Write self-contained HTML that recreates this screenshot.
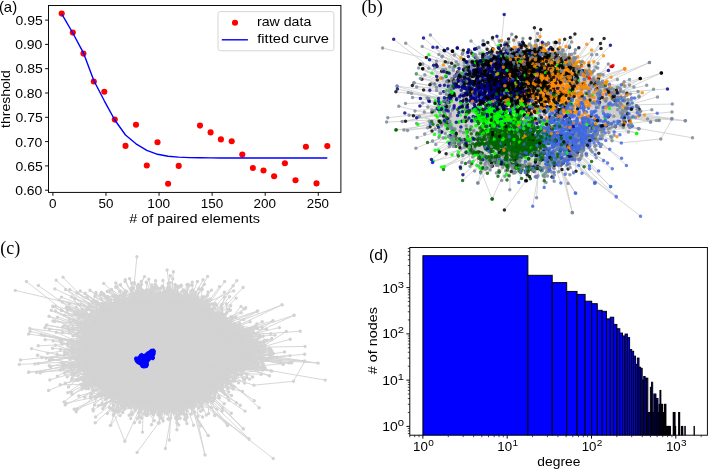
<!DOCTYPE html>
<html><head><meta charset="utf-8"><style>
html,body{margin:0;padding:0;background:#fff;overflow:hidden}
.nd path{fill:none;stroke-width:3.5;stroke-linecap:round;stroke-opacity:0.82}
.n0{stroke:#00008b}
.n1{stroke:#000000}
.n2{stroke:#ff8c00}
.n3{stroke:#00ff00}
.n4{stroke:#006400}
.n5{stroke:#4169e1}
.n9{stroke:#778899}
.n8{stroke:#ff0000}
.n7{stroke:#0000ff}

svg{display:block;font-family:"Liberation Sans", sans-serif;will-change:transform}
</style></head><body>
<svg width="708" height="469" viewBox="0 0 708 469">
<rect width="708" height="469" fill="#fff"/>
<g id="pa">
<circle cx="61.7" cy="13.6" r="3.05" fill="#ff0000"/>
<circle cx="72.8" cy="32.6" r="3.05" fill="#ff0000"/>
<circle cx="83.4" cy="53.6" r="3.05" fill="#ff0000"/>
<circle cx="93.8" cy="81.5" r="3.05" fill="#ff0000"/>
<circle cx="104.3" cy="91.7" r="3.05" fill="#ff0000"/>
<circle cx="114.8" cy="119.6" r="3.05" fill="#ff0000"/>
<circle cx="125.5" cy="145.9" r="3.05" fill="#ff0000"/>
<circle cx="136.0" cy="124.8" r="3.05" fill="#ff0000"/>
<circle cx="146.8" cy="165.5" r="3.05" fill="#ff0000"/>
<circle cx="157.5" cy="142.2" r="3.05" fill="#ff0000"/>
<circle cx="168.1" cy="183.8" r="3.05" fill="#ff0000"/>
<circle cx="178.7" cy="165.9" r="3.05" fill="#ff0000"/>
<circle cx="200.0" cy="125.6" r="3.05" fill="#ff0000"/>
<circle cx="210.6" cy="132.4" r="3.05" fill="#ff0000"/>
<circle cx="220.9" cy="139.4" r="3.05" fill="#ff0000"/>
<circle cx="231.7" cy="141.3" r="3.05" fill="#ff0000"/>
<circle cx="242.3" cy="154.6" r="3.05" fill="#ff0000"/>
<circle cx="252.9" cy="168.0" r="3.05" fill="#ff0000"/>
<circle cx="263.5" cy="170.5" r="3.05" fill="#ff0000"/>
<circle cx="274.1" cy="176.2" r="3.05" fill="#ff0000"/>
<circle cx="284.9" cy="163.3" r="3.05" fill="#ff0000"/>
<circle cx="295.5" cy="180.3" r="3.05" fill="#ff0000"/>
<circle cx="305.9" cy="146.8" r="3.05" fill="#ff0000"/>
<circle cx="316.5" cy="183.4" r="3.05" fill="#ff0000"/>
<circle cx="327.3" cy="146.1" r="3.05" fill="#ff0000"/>
<path d="M61.7,13.8 L72.8,33.0 L83.4,52.8 L93.8,80.5 L104.3,100.8 L114.8,120.0 L125.5,135.0 L136.0,143.8 L146.8,150.3 L157.5,154.3 L168.1,156.2 L178.7,157.1 L189.3,157.6 L200.0,157.8 L210.6,157.9 L220.9,158.0 L231.7,158.0 L242.3,158.0 L252.9,158.0 L263.5,158.0 L274.1,158.0 L284.9,158.0 L295.5,158.0 L305.9,158.0 L316.5,158.0 L327.3,158.0" fill="none" stroke="#0000ff" stroke-width="1.4" stroke-linejoin="round"/>
<rect x="218.0" y="11.6" width="115.9" height="39.2" rx="2.5" fill="#fff" fill-opacity="0.8" stroke="#d0d0d0" stroke-width="0.9"/>
<circle cx="235" cy="22.7" r="3.05" fill="#ff0000"/>
<line x1="221.8" y1="39.8" x2="247.9" y2="39.8" stroke="#0000ff" stroke-width="1.4"/>
<text x="256.93" y="26.10" font-size="12.6" text-anchor="start" textLength="54.40" lengthAdjust="spacingAndGlyphs">raw data</text>
<text x="257.22" y="42.60" font-size="12.6" text-anchor="start" textLength="71.81" lengthAdjust="spacingAndGlyphs">fitted curve</text>
<rect x="48.5" y="5.5" width="292.4" height="186.9" fill="none" stroke="#000" stroke-width="0.95"/>
<line x1="45.1" y1="20.10" x2="48.5" y2="20.10" stroke="#000" stroke-width="0.95"/>
<text x="15.54" y="25.35" font-size="12.6" text-anchor="start" textLength="27.19" lengthAdjust="spacingAndGlyphs">0.95</text>
<line x1="45.1" y1="44.40" x2="48.5" y2="44.40" stroke="#000" stroke-width="0.95"/>
<text x="15.20" y="49.25" font-size="12.6" text-anchor="start" textLength="27.19" lengthAdjust="spacingAndGlyphs">0.90</text>
<line x1="45.1" y1="68.70" x2="48.5" y2="68.70" stroke="#000" stroke-width="0.95"/>
<text x="15.54" y="73.15" font-size="12.6" text-anchor="start" textLength="27.19" lengthAdjust="spacingAndGlyphs">0.85</text>
<line x1="45.1" y1="93.00" x2="48.5" y2="93.00" stroke="#000" stroke-width="0.95"/>
<text x="15.20" y="98.05" font-size="12.6" text-anchor="start" textLength="27.19" lengthAdjust="spacingAndGlyphs">0.80</text>
<line x1="45.1" y1="117.30" x2="48.5" y2="117.30" stroke="#000" stroke-width="0.95"/>
<text x="15.54" y="121.95" font-size="12.6" text-anchor="start" textLength="27.19" lengthAdjust="spacingAndGlyphs">0.75</text>
<line x1="45.1" y1="141.60" x2="48.5" y2="141.60" stroke="#000" stroke-width="0.95"/>
<text x="15.20" y="146.85" font-size="12.6" text-anchor="start" textLength="27.19" lengthAdjust="spacingAndGlyphs">0.70</text>
<line x1="45.1" y1="165.90" x2="48.5" y2="165.90" stroke="#000" stroke-width="0.95"/>
<text x="15.54" y="170.75" font-size="12.6" text-anchor="start" textLength="27.19" lengthAdjust="spacingAndGlyphs">0.65</text>
<line x1="45.1" y1="190.20" x2="48.5" y2="190.20" stroke="#000" stroke-width="0.95"/>
<text x="15.20" y="194.65" font-size="12.6" text-anchor="start" textLength="27.19" lengthAdjust="spacingAndGlyphs">0.60</text>
<line x1="52.90" y1="192.4" x2="52.90" y2="195.8" stroke="#000" stroke-width="0.95"/>
<text x="49.06" y="208.20" font-size="12.6" text-anchor="start" textLength="7.51" lengthAdjust="spacingAndGlyphs">0</text>
<line x1="105.97" y1="192.4" x2="105.97" y2="195.8" stroke="#000" stroke-width="0.95"/>
<text x="98.56" y="208.20" font-size="12.6" text-anchor="start" textLength="14.88" lengthAdjust="spacingAndGlyphs">50</text>
<line x1="159.05" y1="192.4" x2="159.05" y2="195.8" stroke="#000" stroke-width="0.95"/>
<text x="147.35" y="208.20" font-size="12.6" text-anchor="start" textLength="22.75" lengthAdjust="spacingAndGlyphs">100</text>
<line x1="212.13" y1="192.4" x2="212.13" y2="195.8" stroke="#000" stroke-width="0.95"/>
<text x="200.68" y="208.20" font-size="12.6" text-anchor="start" textLength="22.49" lengthAdjust="spacingAndGlyphs">150</text>
<line x1="265.20" y1="192.4" x2="265.20" y2="195.8" stroke="#000" stroke-width="0.95"/>
<text x="253.52" y="208.20" font-size="12.6" text-anchor="start" textLength="22.46" lengthAdjust="spacingAndGlyphs">200</text>
<line x1="318.27" y1="192.4" x2="318.27" y2="195.8" stroke="#000" stroke-width="0.95"/>
<text x="306.75" y="208.20" font-size="12.6" text-anchor="start" textLength="22.26" lengthAdjust="spacingAndGlyphs">250</text>
<text x="10.40" y="127.90" font-size="12.6" text-anchor="start" textLength="57.70" lengthAdjust="spacingAndGlyphs" transform="rotate(-90 10.40 127.90)">threshold</text>
<text x="129.25" y="222.80" font-size="12.6" text-anchor="start" textLength="130.70" lengthAdjust="spacingAndGlyphs"># of paired elements</text>
<text x="-1.11" y="11.50" font-size="14.6" text-anchor="start" textLength="18.25" lengthAdjust="spacingAndGlyphs">(a)</text>
</g>
<g id="pd">
<clipPath id="cd"><rect x="409.8" y="247.5" width="297.59999999999997" height="187.7"/></clipPath>
<g clip-path="url(#cd)">
<rect x="422.90" y="255.70" width="105.00" height="181.50" fill="#0000ff" stroke="#000" stroke-width="0.95"/>
<rect x="527.90" y="275.29" width="24.32" height="161.91" fill="#0000ff" stroke="#000" stroke-width="0.95"/>
<rect x="552.22" y="282.60" width="14.49" height="154.60" fill="#0000ff" stroke="#000" stroke-width="0.95"/>
<rect x="566.70" y="291.41" width="10.35" height="145.79" fill="#0000ff" stroke="#000" stroke-width="0.95"/>
<rect x="577.06" y="294.39" width="8.06" height="142.81" fill="#0000ff" stroke="#000" stroke-width="0.95"/>
<rect x="585.12" y="301.20" width="6.60" height="136.00" fill="#0000ff" stroke="#000" stroke-width="0.95"/>
<rect x="591.72" y="303.68" width="5.59" height="133.52" fill="#0000ff" stroke="#000" stroke-width="0.95"/>
<rect x="597.31" y="310.30" width="4.85" height="126.90" fill="#0000ff" stroke="#000" stroke-width="0.95"/>
<rect x="602.16" y="311.32" width="4.28" height="125.88" fill="#0000ff" stroke="#000" stroke-width="0.95"/>
<rect x="606.44" y="318.86" width="3.83" height="118.34" fill="#0000ff" stroke="#000" stroke-width="0.95"/>
<rect x="610.27" y="317.21" width="3.47" height="119.99" fill="#0000ff" stroke="#000" stroke-width="0.95"/>
<rect x="613.74" y="324.42" width="3.17" height="112.78" fill="#0000ff" stroke="#000" stroke-width="0.95"/>
<rect x="616.91" y="328.74" width="2.92" height="108.46" fill="#0000ff" stroke="#000" stroke-width="0.95"/>
<rect x="619.83" y="333.07" width="2.70" height="104.13" fill="#0000ff" stroke="#000" stroke-width="0.95"/>
<rect x="622.53" y="335.98" width="2.52" height="101.22" fill="#0000ff" stroke="#000" stroke-width="0.95"/>
<rect x="625.05" y="334.06" width="2.35" height="103.14" fill="#0000ff" stroke="#000" stroke-width="0.95"/>
<rect x="627.40" y="337.60" width="2.21" height="99.60" fill="#0000ff" stroke="#000" stroke-width="0.95"/>
<rect x="629.61" y="349.46" width="2.09" height="87.74" fill="#0000ff" stroke="#000" stroke-width="0.95"/>
<rect x="631.70" y="351.29" width="1.97" height="85.91" fill="#0000ff" stroke="#000" stroke-width="0.95"/>
<rect x="633.67" y="356.14" width="1.87" height="81.06" fill="#0000ff" stroke="#000" stroke-width="0.95"/>
<rect x="635.54" y="364.29" width="1.78" height="72.91" fill="#0000ff" stroke="#000" stroke-width="0.95"/>
<rect x="637.32" y="358.05" width="1.70" height="79.15" fill="#0000ff" stroke="#000" stroke-width="0.95"/>
<rect x="639.02" y="367.23" width="1.62" height="69.97" fill="#0000ff" stroke="#000" stroke-width="0.95"/>
<rect x="640.64" y="368.32" width="1.55" height="68.88" fill="#0000ff" stroke="#000" stroke-width="0.95"/>
<rect x="642.20" y="380.13" width="1.49" height="57.07" fill="#0000ff" stroke="#000" stroke-width="0.95"/>
<rect x="643.69" y="376.47" width="1.43" height="60.73" fill="#0000ff" stroke="#000" stroke-width="0.95"/>
<rect x="645.12" y="378.21" width="1.38" height="58.99" fill="#0000ff" stroke="#000" stroke-width="0.95"/>
<rect x="646.50" y="378.21" width="1.33" height="58.99" fill="#0000ff" stroke="#000" stroke-width="0.95"/>
<rect x="647.83" y="412.47" width="1.28" height="24.73" fill="#0000ff" stroke="#000" stroke-width="0.95"/>
<rect x="649.11" y="412.47" width="1.24" height="24.73" fill="#0000ff" stroke="#000" stroke-width="0.95"/>
<rect x="650.35" y="387.30" width="1.20" height="49.90" fill="#0000ff" stroke="#000" stroke-width="0.95"/>
<rect x="651.55" y="382.25" width="1.16" height="54.95" fill="#0000ff" stroke="#000" stroke-width="0.95"/>
<rect x="652.71" y="412.47" width="1.12" height="24.73" fill="#0000ff" stroke="#000" stroke-width="0.95"/>
<rect x="653.83" y="394.06" width="1.09" height="43.14" fill="#0000ff" stroke="#000" stroke-width="0.95"/>
<rect x="654.92" y="394.06" width="1.06" height="43.14" fill="#0000ff" stroke="#000" stroke-width="0.95"/>
<rect x="655.98" y="398.54" width="1.03" height="38.66" fill="#0000ff" stroke="#000" stroke-width="0.95"/>
<rect x="657.01" y="398.54" width="1.00" height="38.66" fill="#0000ff" stroke="#000" stroke-width="0.95"/>
<rect x="658.01" y="412.47" width="0.97" height="24.73" fill="#0000ff" stroke="#000" stroke-width="0.95"/>
<rect x="658.99" y="404.32" width="0.95" height="32.88" fill="#0000ff" stroke="#000" stroke-width="0.95"/>
<rect x="659.94" y="390.39" width="0.93" height="46.81" fill="#0000ff" stroke="#000" stroke-width="0.95"/>
<rect x="660.86" y="404.32" width="0.90" height="32.88" fill="#0000ff" stroke="#000" stroke-width="0.95"/>
<rect x="661.77" y="404.32" width="0.88" height="32.88" fill="#0000ff" stroke="#000" stroke-width="0.95"/>
<rect x="662.65" y="412.47" width="0.86" height="24.73" fill="#0000ff" stroke="#000" stroke-width="0.95"/>
<rect x="663.51" y="412.47" width="0.84" height="24.73" fill="#0000ff" stroke="#000" stroke-width="0.95"/>
<rect x="664.35" y="404.32" width="0.82" height="32.88" fill="#0000ff" stroke="#000" stroke-width="0.95"/>
<rect x="665.17" y="404.32" width="0.80" height="32.88" fill="#0000ff" stroke="#000" stroke-width="0.95"/>
<rect x="665.97" y="426.40" width="0.79" height="10.80" fill="#0000ff" stroke="#000" stroke-width="0.95"/>
<rect x="666.76" y="426.40" width="0.77" height="10.80" fill="#0000ff" stroke="#000" stroke-width="0.95"/>
<rect x="667.53" y="426.40" width="0.75" height="10.80" fill="#0000ff" stroke="#000" stroke-width="0.95"/>
<rect x="668.28" y="426.40" width="0.74" height="10.80" fill="#0000ff" stroke="#000" stroke-width="0.95"/>
<rect x="669.02" y="426.40" width="0.72" height="10.80" fill="#0000ff" stroke="#000" stroke-width="0.95"/>
<rect x="669.75" y="426.40" width="0.71" height="10.80" fill="#0000ff" stroke="#000" stroke-width="0.95"/>
<rect x="673.17" y="412.47" width="0.65" height="24.73" fill="#0000ff" stroke="#000" stroke-width="0.95"/>
<rect x="673.81" y="412.47" width="0.64" height="24.73" fill="#0000ff" stroke="#000" stroke-width="0.95"/>
<rect x="674.45" y="412.47" width="0.63" height="24.73" fill="#0000ff" stroke="#000" stroke-width="0.95"/>
<rect x="675.08" y="426.40" width="0.61" height="10.80" fill="#0000ff" stroke="#000" stroke-width="0.95"/>
<rect x="678.62" y="412.47" width="0.56" height="24.73" fill="#0000ff" stroke="#000" stroke-width="0.95"/>
<rect x="679.18" y="412.47" width="0.55" height="24.73" fill="#0000ff" stroke="#000" stroke-width="0.95"/>
<rect x="681.33" y="426.40" width="0.52" height="10.80" fill="#0000ff" stroke="#000" stroke-width="0.95"/>
<rect x="682.36" y="426.40" width="0.50" height="10.80" fill="#0000ff" stroke="#000" stroke-width="0.95"/>
<rect x="684.81" y="426.40" width="0.47" height="10.80" fill="#0000ff" stroke="#000" stroke-width="0.95"/>
<rect x="694.01" y="426.40" width="0.37" height="10.80" fill="#0000ff" stroke="#000" stroke-width="0.95"/>
</g>
<rect x="409.8" y="247.5" width="297.6" height="187.7" fill="none" stroke="#000" stroke-width="0.95"/>
<line x1="406.4" y1="426.40" x2="409.8" y2="426.40" stroke="#000" stroke-width="0.95"/>
<text x="382.30" y="431.10" font-size="12.6" text-anchor="start" textLength="15.54" lengthAdjust="spacingAndGlyphs">10</text>
<text x="397.67" y="426.10" font-size="8.8" text-anchor="start" textLength="6.25" lengthAdjust="spacingAndGlyphs">0</text>
<line x1="406.4" y1="380.13" x2="409.8" y2="380.13" stroke="#000" stroke-width="0.95"/>
<text x="382.30" y="385.29" font-size="12.6" text-anchor="start" textLength="15.54" lengthAdjust="spacingAndGlyphs">10</text>
<text x="397.67" y="380.29" font-size="8.8" text-anchor="start" textLength="6.25" lengthAdjust="spacingAndGlyphs">1</text>
<line x1="406.4" y1="333.86" x2="409.8" y2="333.86" stroke="#000" stroke-width="0.95"/>
<text x="382.30" y="338.48" font-size="12.6" text-anchor="start" textLength="15.54" lengthAdjust="spacingAndGlyphs">10</text>
<text x="397.67" y="333.48" font-size="8.8" text-anchor="start" textLength="6.25" lengthAdjust="spacingAndGlyphs">2</text>
<line x1="406.4" y1="287.59" x2="409.8" y2="287.59" stroke="#000" stroke-width="0.95"/>
<text x="382.30" y="292.67" font-size="12.6" text-anchor="start" textLength="15.54" lengthAdjust="spacingAndGlyphs">10</text>
<text x="397.67" y="287.67" font-size="8.8" text-anchor="start" textLength="6.25" lengthAdjust="spacingAndGlyphs">3</text>
<line x1="407.8" y1="433.57" x2="409.8" y2="433.57" stroke="#000" stroke-width="0.7"/>
<line x1="407.8" y1="430.88" x2="409.8" y2="430.88" stroke="#000" stroke-width="0.7"/>
<line x1="407.8" y1="428.52" x2="409.8" y2="428.52" stroke="#000" stroke-width="0.7"/>
<line x1="407.8" y1="412.47" x2="409.8" y2="412.47" stroke="#000" stroke-width="0.7"/>
<line x1="407.8" y1="404.32" x2="409.8" y2="404.32" stroke="#000" stroke-width="0.7"/>
<line x1="407.8" y1="398.54" x2="409.8" y2="398.54" stroke="#000" stroke-width="0.7"/>
<line x1="407.8" y1="394.06" x2="409.8" y2="394.06" stroke="#000" stroke-width="0.7"/>
<line x1="407.8" y1="390.39" x2="409.8" y2="390.39" stroke="#000" stroke-width="0.7"/>
<line x1="407.8" y1="387.30" x2="409.8" y2="387.30" stroke="#000" stroke-width="0.7"/>
<line x1="407.8" y1="384.61" x2="409.8" y2="384.61" stroke="#000" stroke-width="0.7"/>
<line x1="407.8" y1="382.25" x2="409.8" y2="382.25" stroke="#000" stroke-width="0.7"/>
<line x1="407.8" y1="366.20" x2="409.8" y2="366.20" stroke="#000" stroke-width="0.7"/>
<line x1="407.8" y1="358.05" x2="409.8" y2="358.05" stroke="#000" stroke-width="0.7"/>
<line x1="407.8" y1="352.27" x2="409.8" y2="352.27" stroke="#000" stroke-width="0.7"/>
<line x1="407.8" y1="347.79" x2="409.8" y2="347.79" stroke="#000" stroke-width="0.7"/>
<line x1="407.8" y1="344.12" x2="409.8" y2="344.12" stroke="#000" stroke-width="0.7"/>
<line x1="407.8" y1="341.03" x2="409.8" y2="341.03" stroke="#000" stroke-width="0.7"/>
<line x1="407.8" y1="338.34" x2="409.8" y2="338.34" stroke="#000" stroke-width="0.7"/>
<line x1="407.8" y1="335.98" x2="409.8" y2="335.98" stroke="#000" stroke-width="0.7"/>
<line x1="407.8" y1="319.93" x2="409.8" y2="319.93" stroke="#000" stroke-width="0.7"/>
<line x1="407.8" y1="311.78" x2="409.8" y2="311.78" stroke="#000" stroke-width="0.7"/>
<line x1="407.8" y1="306.00" x2="409.8" y2="306.00" stroke="#000" stroke-width="0.7"/>
<line x1="407.8" y1="301.52" x2="409.8" y2="301.52" stroke="#000" stroke-width="0.7"/>
<line x1="407.8" y1="297.85" x2="409.8" y2="297.85" stroke="#000" stroke-width="0.7"/>
<line x1="407.8" y1="294.76" x2="409.8" y2="294.76" stroke="#000" stroke-width="0.7"/>
<line x1="407.8" y1="292.07" x2="409.8" y2="292.07" stroke="#000" stroke-width="0.7"/>
<line x1="407.8" y1="289.71" x2="409.8" y2="289.71" stroke="#000" stroke-width="0.7"/>
<line x1="407.8" y1="273.66" x2="409.8" y2="273.66" stroke="#000" stroke-width="0.7"/>
<line x1="407.8" y1="265.51" x2="409.8" y2="265.51" stroke="#000" stroke-width="0.7"/>
<line x1="407.8" y1="259.73" x2="409.8" y2="259.73" stroke="#000" stroke-width="0.7"/>
<line x1="407.8" y1="255.25" x2="409.8" y2="255.25" stroke="#000" stroke-width="0.7"/>
<line x1="407.8" y1="251.58" x2="409.8" y2="251.58" stroke="#000" stroke-width="0.7"/>
<line x1="407.8" y1="248.49" x2="409.8" y2="248.49" stroke="#000" stroke-width="0.7"/>
<line x1="422.90" y1="435.2" x2="422.90" y2="438.6" stroke="#000" stroke-width="0.95"/>
<text x="413.05" y="451.10" font-size="12.6" text-anchor="start" textLength="14.80" lengthAdjust="spacingAndGlyphs">10</text>
<text x="428.20" y="446.00" font-size="8.8" text-anchor="start" textLength="5.60" lengthAdjust="spacingAndGlyphs">0</text>
<line x1="507.20" y1="435.2" x2="507.20" y2="438.6" stroke="#000" stroke-width="0.95"/>
<text x="497.35" y="451.10" font-size="12.6" text-anchor="start" textLength="14.80" lengthAdjust="spacingAndGlyphs">10</text>
<text x="512.50" y="446.00" font-size="8.8" text-anchor="start" textLength="5.60" lengthAdjust="spacingAndGlyphs">1</text>
<line x1="591.50" y1="435.2" x2="591.50" y2="438.6" stroke="#000" stroke-width="0.95"/>
<text x="581.65" y="451.10" font-size="12.6" text-anchor="start" textLength="14.80" lengthAdjust="spacingAndGlyphs">10</text>
<text x="596.80" y="446.00" font-size="8.8" text-anchor="start" textLength="5.60" lengthAdjust="spacingAndGlyphs">2</text>
<line x1="675.80" y1="435.2" x2="675.80" y2="438.6" stroke="#000" stroke-width="0.95"/>
<text x="665.95" y="451.10" font-size="12.6" text-anchor="start" textLength="14.80" lengthAdjust="spacingAndGlyphs">10</text>
<text x="681.10" y="446.00" font-size="8.8" text-anchor="start" textLength="5.60" lengthAdjust="spacingAndGlyphs">3</text>
<line x1="409.84" y1="435.2" x2="409.84" y2="437.2" stroke="#000" stroke-width="0.7"/>
<line x1="414.73" y1="435.2" x2="414.73" y2="437.2" stroke="#000" stroke-width="0.7"/>
<line x1="419.04" y1="435.2" x2="419.04" y2="437.2" stroke="#000" stroke-width="0.7"/>
<line x1="448.28" y1="435.2" x2="448.28" y2="437.2" stroke="#000" stroke-width="0.7"/>
<line x1="463.12" y1="435.2" x2="463.12" y2="437.2" stroke="#000" stroke-width="0.7"/>
<line x1="473.65" y1="435.2" x2="473.65" y2="437.2" stroke="#000" stroke-width="0.7"/>
<line x1="481.82" y1="435.2" x2="481.82" y2="437.2" stroke="#000" stroke-width="0.7"/>
<line x1="488.50" y1="435.2" x2="488.50" y2="437.2" stroke="#000" stroke-width="0.7"/>
<line x1="494.14" y1="435.2" x2="494.14" y2="437.2" stroke="#000" stroke-width="0.7"/>
<line x1="499.03" y1="435.2" x2="499.03" y2="437.2" stroke="#000" stroke-width="0.7"/>
<line x1="503.34" y1="435.2" x2="503.34" y2="437.2" stroke="#000" stroke-width="0.7"/>
<line x1="532.58" y1="435.2" x2="532.58" y2="437.2" stroke="#000" stroke-width="0.7"/>
<line x1="547.42" y1="435.2" x2="547.42" y2="437.2" stroke="#000" stroke-width="0.7"/>
<line x1="557.95" y1="435.2" x2="557.95" y2="437.2" stroke="#000" stroke-width="0.7"/>
<line x1="566.12" y1="435.2" x2="566.12" y2="437.2" stroke="#000" stroke-width="0.7"/>
<line x1="572.80" y1="435.2" x2="572.80" y2="437.2" stroke="#000" stroke-width="0.7"/>
<line x1="578.44" y1="435.2" x2="578.44" y2="437.2" stroke="#000" stroke-width="0.7"/>
<line x1="583.33" y1="435.2" x2="583.33" y2="437.2" stroke="#000" stroke-width="0.7"/>
<line x1="587.64" y1="435.2" x2="587.64" y2="437.2" stroke="#000" stroke-width="0.7"/>
<line x1="616.88" y1="435.2" x2="616.88" y2="437.2" stroke="#000" stroke-width="0.7"/>
<line x1="631.72" y1="435.2" x2="631.72" y2="437.2" stroke="#000" stroke-width="0.7"/>
<line x1="642.25" y1="435.2" x2="642.25" y2="437.2" stroke="#000" stroke-width="0.7"/>
<line x1="650.42" y1="435.2" x2="650.42" y2="437.2" stroke="#000" stroke-width="0.7"/>
<line x1="657.10" y1="435.2" x2="657.10" y2="437.2" stroke="#000" stroke-width="0.7"/>
<line x1="662.74" y1="435.2" x2="662.74" y2="437.2" stroke="#000" stroke-width="0.7"/>
<line x1="667.63" y1="435.2" x2="667.63" y2="437.2" stroke="#000" stroke-width="0.7"/>
<line x1="671.94" y1="435.2" x2="671.94" y2="437.2" stroke="#000" stroke-width="0.7"/>
<line x1="701.18" y1="435.2" x2="701.18" y2="437.2" stroke="#000" stroke-width="0.7"/>
<text x="376.90" y="374.14" font-size="12.6" text-anchor="start" textLength="67.18" lengthAdjust="spacingAndGlyphs" transform="rotate(-90 376.90 374.14)"># of nodes</text>
<text x="537.39" y="465.90" font-size="12.6" text-anchor="start" textLength="43.06" lengthAdjust="spacingAndGlyphs">degree</text>
<text x="369.02" y="260.40" font-size="14.8" text-anchor="start" textLength="19.14" lengthAdjust="spacingAndGlyphs">(d)</text>
</g>

<polygon points="78.8,352.6 80.5,342.0 84.6,335.0 88.4,323.8 98.0,312.0 107.6,304.6 126.8,298.8 145.0,296.0 165.0,295.0 189.0,300.0 208.4,308.8 220.0,318.4 233.4,328.0 245.0,337.6 254.5,351.0 256.4,363.0 246.8,365.0 233.4,369.2 225.7,378.8 214.2,388.4 206.5,398.0 189.2,405.7 175.0,411.4 160.0,410.0 150.0,407.6 130.0,404.0 113.4,398.0 100.0,388.4 88.4,378.8 80.0,365.0" fill="#d3d3d3" stroke="#d3d3d3" stroke-width="2" stroke-linejoin="round"/>
<path d="M190.5 294.8L170.8 313.5M156.8 287.3L152.7 302.1M165.5 295.9L174.4 327.8M85.7 310.3L138.1 315.1M85.7 310.3L120 314.4M150.1 406.6L159.5 384.4M212.1 303.9L191.2 329.9M169 288.4L179.1 310.9M246.8 377.4L206 364.7M240.8 333.8L184.1 330.6M191.4 414L192.5 390.4M214.4 395.1L191.6 386M115.3 297L118.8 325M218.4 313.9L188.5 331.6M171.1 294.8L180.9 316.9M171.1 294.8L178.4 307.2M115.6 398.2L113.6 389M150.7 409.7L134.7 398.1M184 298.3L204.1 313.5M184 298.3L172.3 323.4M114 411L106.8 384M271.2 358.2L224.5 359.4M197.3 301.6L185.4 326M141.6 290.3L146.5 327.7M146.8 407.1L160.5 379.8M177.7 293L169.4 308.1M202 288.5L175.3 327M211.2 390L197.2 388.4M87 383L157 383.6M232.2 329.2L222.1 347.8M134.2 403.9L165.7 381.9M209.2 393.8L195.8 375.3M187.4 406.6L177 385.1M187.4 406.6L190.5 399.3M102.7 408.6L132.7 375.6M102.7 408.6L120.6 374.6M198.4 301.7L182.9 327.6M80.8 350.4L104.9 325.5M118.5 401.5L137.7 374M216.3 389.1L176.4 386.5M112.2 395.7L106.1 357.6M217.2 384.7L186.2 373.4M95.6 397.9L111.7 369M87.4 385.2L137.3 379M101.3 292.1L134 315.2M93.8 383.4L93.5 359.4M78 375.7L114 358.3M256.1 357.4L202.5 370.4M213.3 388.4L200.2 383.4M224.6 378.6L209.8 369.4M224.6 378.6L194.9 384.7M227.2 377.9L192 367.8M197.2 299.5L191.6 326.8M197.2 299.5L201.6 314.4M146.7 282.6L163.5 321.1M164.9 294.3L164.5 311.3M195.1 300.5L176.4 314.8M97.8 312.8L116 335.7M120.7 300.8L147.5 317.5M250.4 342.6L219.2 344.4M132.2 402.9L140.4 378.1M203.9 398.5L192.5 366.8M119.8 399.3L139.9 379.4M90.5 314L139.5 330.1M195.3 292.1L196.9 325.6M90.4 381.6L126.5 370.5M123.8 409.1L136.8 397.1M149.8 296.8L157.2 327.1M169.2 296.5L166.3 318.3M232.9 316.6L237.1 344.2M77.4 350.1L119.9 372.7M76.4 333.9L97 369.7M252.3 363.7L223.1 352.9M119.1 403.1L159.7 381.6M119.1 403.1L143.9 399.1M194.7 411.9L191.9 398.1M126.3 291.3L153.4 326M124.4 403.1L143.8 374M119.7 410.4L130.3 391.4M96.2 301.7L134.7 335.2M107.9 296.6L93.4 340.6M212.6 313.4L188.7 335M212.6 313.4L180.2 324.1M227.3 375.4L237 356.7M85.4 381.8L127.5 376.7M85.4 381.8L135.7 370.8M263.6 351L204.5 340.5M103.4 293.6L131.6 311.6M91.4 321L124.2 318.1M116.7 296.7L164.4 303.6M119.9 400.7L139.9 392.1M119.9 400.7L142.5 385.2M82.3 363.2L126.1 357.8M110.7 394.5L133.5 380.5M229 325.5L225.6 334.3M207.1 302.3L188 325M85.3 370.6L126.6 346.7M143.1 297.5L138.4 322.9M192.2 285.3L195.5 330.9M219.8 318.5L196.8 337.1M110.8 396.3L112.3 377.8M132.2 403.2L138.2 396.8M222.3 313.9L174.5 327.6M256.5 343.1L231.4 358.1M149.3 293L149.9 311.6M168.2 283.4L181.8 309M168.2 283.4L157.8 319.1M129 407.5L135.3 386M169.4 419.3L163.3 397.8M77.7 358.1L112 318.4M238.8 324.5L205.6 334.9M83.2 339.6L124.2 324.4M199 304.1L191.6 321.8M166.5 291.7L170.7 316.8M182.7 296.2L178 318.4M234.8 371.7L211.3 373.6M160.8 413.2L170.3 383.8M163.6 411.3L141.7 394.6M160.8 295.8L172.1 312.4M160.8 295.8L171.7 318.2M90.7 306.8L131.1 315.6M179.7 410.8L196.5 395.8M131.1 290L162.9 326.5M243.4 379L229.8 365.3M190.4 301L179.5 306M113.3 415.2L148.3 399.4M84.6 333.8L119.6 321.3M150.1 407.4L163.3 404.1M76.5 354.2L102.6 367.5M76.5 354.2L124.3 344.7M202.5 298.4L196.5 317M171.5 410.1L171.3 402.6M189.6 299.8L175.4 324.3M209.9 308.5L207.9 334.6M209.3 396.1L183.3 376.3M264 366.5L229.1 342.4M154.3 420.8L135.5 395.2M79.3 367.7L124.4 337.2M84.3 339L124.6 387.4M77.1 327.6L128.2 341.9M77.1 327.6L104.3 333.5M122.6 400.7L103 378.6M125.4 291.1L113.6 317.7M115.5 296.9L119.5 333.5M70 322.2L105.2 358.6M208.9 310.2L213.3 345.8M208.9 310.2L200.7 313.2M215.5 316.3L201.6 328.1M211.8 393L191.4 382M211.8 393L199.6 375.4M87 297.3L107.6 317.5M133.1 294.4L118 326.7M148.1 414L136.9 389.1M148.1 414L162.6 384.1M136.6 297.2L139.6 327.2M168.9 291.8L161.5 315.5M226.5 322.9L197.5 318.7M140.6 297.7L143.8 327.2M205.2 401L192.1 369M263.3 364L210.8 339.8M226.8 324.4L212.1 329.2M216.6 387.8L209.4 370.3M192.3 301.7L198.6 314.8M201.8 402L176 401.3M201.8 402L181.3 381.3M80.1 371L112.6 352.1M140.5 293L138.4 306.2M111.5 304.3L125.8 328.4M140.5 410.2L129.4 373.7M248.2 335.9L201.6 341.4M271.9 351.5L223.2 331.3M228.6 387.9L190.8 372.2M235.1 325.7L209.3 329.2M237.1 332.5L195.6 333.9M259.7 348.6L212.1 354.5M79.2 336.6L114.9 326.1M79.2 336.6L123.2 343.8M220 314.6L205.9 326.5M75.2 348.3L129.6 368.3M130.7 407.8L153 391.7M237.7 367.7L204 385.3M183.6 289.9L195.6 324.6M105.9 298.1L115.6 316.4M213.2 400.9L185.1 372.9M159.3 413L154 385.4M265.3 368.2L214.4 341.8M94.9 296.6L138.3 323.8M238.7 326.1L221.4 335.3M73.1 335.9L123.2 338.1M73.1 335.9L124.7 341.3M177.9 296.1L179.4 324M215.6 393L190.3 370.4M205.7 305.8L189.9 316.4M205.7 305.8L189.1 326.7M97.8 310.3L121.4 333.4M162.1 286.3L173.4 305.4M99.4 304.2L149.6 327.4M239.2 368.1L212.4 362.3M230.2 325L201.5 335.1M153.6 290.8L152.6 304.2M216 386.4L205.6 376.4M199.8 300.4L189.5 324.6M199.8 300.4L200.1 325.6M179.4 298L188.2 314.3M179.3 298.2L178.9 318.8M197.9 304.3L200.7 312M107.2 397.9L136 385.2M107.2 397.9L111.9 371.1M119.7 295.9L150.3 313.1M95.5 315.6L132.7 335.4M194.1 300.9L177.7 321.1M128 401.8L132 394.9M89.6 382.5L110 333.1M145.5 411.6L160.9 385.9M145.5 411.6L123.5 387.5M168.7 410.3L139.3 397.8M191.1 407.6L179.7 389.6M139.9 295.5L163.3 314.7M71.6 379.5L131.1 369.5M220.8 383.1L198.3 367.3M82.7 334L134.4 334.2M256.2 348.8L243.6 361.9M131.3 297.9L152.9 325.8M167.6 411.9L180.5 390.7M170.1 295.4L173.5 313.7M170.1 295.4L174.2 305.4M98.5 304.8L126.9 328.1M92.5 389.9L117.4 345.4M92.5 389.9L131.9 375.2M155.5 408.3L162.3 384.5M243.6 336.5L204 333M128.9 404.7L133.3 366.5M78.3 380.2L98.4 370.9M229.6 376.6L192.5 378.7M233.4 325.2L212.4 353.6M174.7 410.9L184.9 383.3M64.6 352.2L118.6 390.8M64.6 352.2L115.6 346.6M79.4 348.7L107.2 354.9M260.1 350.5L229.9 343M205.4 400.7L194.4 379.1M85.2 330.4L105.5 332.3M131.8 290.7L146.4 303.4M131.8 290.7L130.2 316.5M185.3 291.5L192.5 314.8M161.3 409.2L161.4 387M243.7 366L212 350M111.9 397.1L164.3 392.4M199.4 407.6L193.7 364.7M203 303.2L193.9 328.1M181.6 408.5L176.1 402.4M181.6 408.5L157.2 385.4M77.3 355.3L105.4 356M146 297.4L151.1 324.4M83.7 369.2L115.1 373.5M218.3 312.9L176.5 328.6M87.7 374L133 396M81.7 333.3L110 331.4M178.7 424.9L161.7 378.6M256.8 362.5L206.6 383.1M215.7 392.7L198.1 376.7M249.9 335.1L216.1 348.9M249.9 335.1L194.4 333.1M142.2 293.1L155.2 313.6M220.7 317.1L202.5 330M147.5 295.1L148.3 306.8M163 410.9L153.8 389.7M138.2 284.5L146.4 306.2M189.4 406.4L188.6 390.6M189.4 406.4L179.7 397.2M176.9 409.9L164.9 394.6M176.9 409.9L188.1 387.7M236.5 329L224.9 348.9M158.5 288.5L164.4 322.7M81.9 315.5L97.8 346.5M171 411L161.7 384.5M87 308.6L120.2 327.6M236.7 371.2L209.4 357.9M233 378.4L197.2 361.5M207.7 300.1L171.1 317.4M99.1 304L128.8 314.7M172.3 293.5L166.6 305.8M195.9 405.3L171.5 392.9M81.2 323.4L118.9 341.5M193.3 301.3L193 314.2M182.6 412.9L189.7 395.1M182.6 412.9L162.8 384.6M177 296.1L169.3 301M167.4 291.6L178.9 324.4M174.5 294L184.6 309.5M136.3 406.2L157 378.1M113.5 402.1L106.7 378.8M75.4 351.5L118.2 336.1M72.5 354.5L104.7 377.5M72.5 354.5L90.1 341.7M121.1 403.7L149.1 376M111.6 400.5L146.9 378.8M226.6 304L223.9 346.4M230.4 310.3L206.9 324.5M230.4 310.3L199.8 341.4M139.2 297.5L144.5 322.5M87.5 325.5L109.1 335.8M87.5 325.5L121.7 337.8M100 309.8L126.2 333.6M95.3 295.3L107 318.9M211.4 393.7L204 385.6M134.4 422.7L164.3 394.8M195.9 293L182.1 318.7M195.9 293L176.2 309.4M246.6 331.7L192 338M138.1 290.7L150.3 317.5M138.1 290.7L144.8 316.5M222 309L188.3 333.9M133.4 287.7L146.9 307.8M88.2 374.8L128.3 333M192.3 300.4L203.1 313.4M82.4 364.6L116.5 358.6M251.7 341.9L210.9 340.3M252 340.1L203.5 346M223.5 381.7L212.3 373.6M115.8 283L149.2 307M202.7 306.3L198.7 329.4M114.1 302.8L132.7 315.6M114.1 302.8L149.3 325.5M100.4 307.2L110.6 326.9M163.1 421L168.4 392.4M68.5 386.9L93.9 365.1M82.3 339.6L128.3 365.8M96.8 390.1L97.7 340M163.6 292.2L182.5 315.5M141.4 294.1L166.1 313.9M139.5 408.4L136.3 386.9M204.3 296.6L176.5 321.1M164.8 412L157 384M163.4 410.7L159.9 385.2M171.6 410.4L170.6 398.6M190.8 291.3L171.8 308.3M166.2 413.2L156.2 384.9M212 310.1L188.2 306.3M188 406.7L192.9 396.4M181.9 411.8L168 384.9M119.5 300.3L150.2 322.8M119.5 300.3L154.3 310.4M154.4 288.1L179.6 323.7M190.3 296.6L188.3 309.5M181.5 297.7L173.5 308.1M88.9 304.3L137.9 326.5M82.5 309L123.8 311.6M169.2 289.9L159.5 325M184.2 414.2L187.6 389.2M135.4 406.9L136.1 388.6M181.8 298L159.1 309M139.5 409.2L177.1 391.5M215.5 391L199.8 370.3M252.4 333.9L215.8 342.2M252.4 333.9L195.8 329.1M92.9 384.4L139.9 372.8M143.2 297.4L156.7 300.9M143.2 297.4L151.6 314.9M177.6 286.3L180.2 326.4M222.5 388L202 366.8M166.8 296.2L181.2 315.8M166.8 296.2L138.8 307.4M148 406.3L157.8 403.8M212.2 304.1L188.4 322.2M140.1 412.2L152.7 377.4M133.5 295.2L126.4 322.3M181.4 285.8L187.6 307.9M77.1 340.1L105.8 370M77.1 340.1L124.1 345.8M89.3 316.6L115.3 349.3M175 284.5L167.6 317.9M129.6 278.6L142.6 328.3M129.6 278.6L143.9 310M230.5 322.5L196.4 339.4M137.4 287.4L165.7 309.7M190.2 301.4L186.3 333.2M175.8 418L177.5 380M193.4 302.9L193.5 319.1M103.4 389.4L136.9 394.5M186.8 414.7L181.8 376.2M186.8 414.7L169.8 400.3M213.8 304.7L197.2 335.4M173.9 296.7L158.4 323.7M108 305.2L149 320.4M108 305.2L127.9 331.5M152.4 407.6L157.1 399.2M131.7 404.1L129.8 394.7M131.8 413L145.3 379.9M202.1 296.9L190.7 324.2M107.9 299.5L101.6 332.6M107.9 299.5L132.5 331.1M139.1 293.2L148.6 314.2M169.2 411.1L135.1 387.1M86.7 326.5L108.4 329.9M85.6 374.2L89.4 361.3M104.5 406.1L118.8 391.8M188.3 405.8L196.2 369.6M188.3 405.8L188.8 381.5M143.4 406.1L139.2 397.3M143.4 406.1L155.6 384.8M130.8 297.7L140.7 305.3M147.5 415.3L145.5 396.5M168.8 295.3L184.8 324.8M253.1 354.5L224.8 341.1M80.2 366.5L104.3 362.2M80.2 366.5L115.3 378.1M209.4 304.3L198.4 326.9M90.3 396.8L119 388M73.5 363.6L110.4 343.3M192.3 282.2L170.1 323.5M70.2 359.2L104.4 343.2M175.2 286.4L164.4 317.5M238.2 367L207.8 351.5M174 295.8L180.1 311.8M219.4 397.9L179 401.4M216.8 387.8L202 373.5M210.3 394.5L199.8 373.2M183.8 296.4L184.2 324.3M241.1 333L191.7 337.6M241.1 333L214.8 366.1M166.9 294.6L160.3 302.3M162.4 409.8L155 389.2M177.4 419.1L169.9 382.7M192.4 302.1L202 313.4M257.5 328.6L203 320.8M91.1 383L112.7 385.7M81.9 341.8L121 339.5M244.4 330.7L188.5 335.2M109.4 407.7L112.4 388.3M199.5 400L177.7 381.7M80.9 353.4L113.4 351.3M199.8 299.6L176.2 303.8M239.7 323.2L237.6 339.7M221.3 382.5L203.8 369.9M205 305.2L177.8 326.7M196.1 303.1L196.8 322M196.1 303.1L168.4 312.2M83.9 368.9L129.9 362.1M83.9 368.9L116 361.8M217 386.5L217.8 371.4M150.8 292.9L167.3 322.2M127.7 405.5L106.4 354.9M188.1 300.9L168.5 320.4M180.2 418.3L174.6 403.4M202.6 417L172.6 398M170.7 290.7L189.7 324M108.8 299.1L122.6 328M178.1 292.8L167.7 307.9M78 304.1L116.9 362.5M270 355.1L231.8 346.9M91.1 398.2L103.2 369.1M146 408L147.7 387.6M144 407.7L152.6 381.4M144 407.7L149.8 383.8M109.8 394.4L102.6 352M109.8 394.4L138.8 391.2M82.9 341L108.7 342.6M181 285.1L163.9 304M86.7 336.1L124.3 327.6M224.9 394.3L214 373M133.7 293.3L160 312M133.7 293.3L156.5 307.8M137.5 406.9L160.4 377.9M181.9 407.4L171.8 387.4M89.4 328.1L110.2 331.5M145.2 409.7L123.5 392.8M145.2 409.7L138.7 393M188.2 295.9L164.2 313.1M188.2 295.9L173.8 312.3M268.1 359.9L205.5 337.8M268.1 359.9L239.4 351.1M139.4 295.8L167.4 305.8M132.2 414L158.9 386.2M218.5 313.8L225.9 332.5M106.6 304.9L105.4 322.5M204.1 305.9L189.6 325.7M204.1 305.9L173.9 308.5M211.9 313.4L176.4 324.7M106.4 392.7L120.3 386M129.2 300L127.5 308.3M230.8 321.1L214.7 347.8M230.8 321.1L203.2 337M232.8 370.4L199.2 337.9M134.6 403.9L155.3 379.9M145.2 291.7L143.4 306.4M160.5 295.9L137.3 316.8M87.8 378.3L122.1 371.1M221.5 389.5L215.6 366.6M131.8 414.5L152.2 384.3M170.5 295.3L147.5 305M170.5 295.3L166.2 322.8M83.7 381L94.2 341.8M170.1 410.8L167.8 385.2M160.2 411.5L168.7 384M242.8 332.3L232.5 348M166.2 293.3L165.2 315.7M166.2 293.3L162.9 321.9M186.9 405.3L161 385.6M115.6 410.7L144.1 388M166.9 291.3L162 310.4M81.1 378.8L119.2 358.3M73.8 351.9L98.5 336M73.8 351.9L121.9 344M153 409.1L161.9 398.4M132.1 283.3L169.8 303.7M141.8 418.1L119.3 385.6M172 295.1L166.6 321.2M120.1 415.6L135.8 390M218.6 396.1L201 388.7M138.1 405.1L148.4 379.6M148.5 297.1L134.8 310.1M159.2 409.4L166.4 381.6M83.4 327.5L93.3 338.9M83.4 327.5L138.4 329.6M244.2 335L205.9 341.3M211.4 407.8L178.5 404M138.4 405.4L153.3 399.3M149.4 410.3L145.9 397.3M69.4 318.7L129.3 334.2M73.9 374.2L105.8 363.2M73.9 374.2L128.6 369.2M200 403.9L180.2 390.5M185.4 295.8L178.5 325.2M196.1 301.6L178 317.1M181.3 408.2L179.2 378.3M105.7 307.1L104.2 323.1M84.4 320.8L123.9 315.3M249.2 332.5L203.7 320.3M105.4 399.2L129.9 381.9M77.1 342.8L119.1 328M80.2 361.1L105.5 363.7M80.2 361.1L100.4 343.7M135.4 409.5L144.8 395.7M249.7 339.7L238.3 355.9M124.9 402.7L171.7 395.1M166.8 412.2L177.9 401.5M166.8 412.2L155.7 397.7M213.1 391L195.5 384.4M196.7 300.2L193.3 325.2M221 381.1L192.8 390.4M221 381.1L194.7 366M148 296.3L157.9 311.3M187 407.7L173.4 397M269.2 348.3L214.3 343.1M80 332.5L122.7 326.5M115.2 299.2L156.7 310.4M118.9 410.8L143.6 396.9M126.2 402.3L144.6 383.7M224.9 321.8L204.4 327M203.2 305.9L214.2 324.9M240.5 335L213.1 323.2M157.9 414.7L150 396.2M243.9 338.6L184.2 311.2M169.1 290L152 327M86 388.7L117.6 373.1M221.9 380.4L205.7 383.4M131.4 296.3L147.7 312.1M224.4 297L212.6 359.3M171 292.4L164.1 304.5M227.5 374.2L213.8 377.4M209.8 397.3L190.5 369.9M219.8 317.9L197.5 330.8M218.6 318.9L203.4 315.6M226 377.3L209.3 360.7M158.3 423L166.3 389.1M158.3 423L176.7 384.4M184.6 299.5L166 313.9M104.5 295.6L142.1 302.2M167.4 288.3L168.6 310.1M81.4 338.9L133.6 337.2M176.5 417.1L185.9 390.7M84 339L130.6 363.7M216.6 315.7L194.6 328.9M179.4 408.3L175.4 388.7M207.6 395.3L196.7 380.2M62.6 327L96.1 344.7M212.4 311L227.1 358.7M262.5 370.1L218.5 375.7M140.5 409.7L139.9 396.7M102.2 403.7L100.9 379.6M76.8 359.4L124.9 364M173.3 410.9L157.1 403.4M115.5 402.1L143.8 385.5M98.7 386.7L142.9 376.3M210.7 390.9L190.3 392.3M172.8 296.2L155.2 321.3M197.2 297.5L193.9 320.9M200 302.7L195.1 322M203.5 306.6L202.7 332.4M203.5 306.6L183.3 315.4M172.9 290.1L181.1 307M146.5 414.5L155.9 401.8M202.7 409.9L198.5 378.4M202.7 409.9L184.9 373.9M79.2 359.9L114.1 360.7M191.8 405.9L189.1 376.9M119.9 299.1L127 337.3M71.7 347.8L124.4 362.7M196.3 300.5L177 316.9M196.3 300.5L157.8 316.1M102.1 388.7L125.3 381.8M97 302.4L129 335.7M165.8 409.4L188.8 390.3M132.3 404.2L154.8 395.9M160.7 414.1L149.5 396.5M91.9 386.9L116.9 346.9M203.1 307.3L206.1 315.4M203.1 307.3L207 317.6M252.6 349.9L192.2 369.5M110 305.3L124 321.4M139.3 297.1L144.8 328.4M81.6 367.7L111.5 341.4M231.2 325.8L197 331.7M231.2 325.8L209.9 337.4M134.2 403.7L166 391M247.3 338.4L219.1 336.3M247.3 338.4L218.3 344.5M163.7 288L156.6 315.1M80.6 370.5L124.4 370.2M163 295.3L149.1 325.9M213.8 314.9L176.6 305.7M133.8 406L158.1 396.4M181.8 291.6L149.8 325.9M170.2 293.8L171.5 316.8M248.7 345.4L219.7 342.5M102.6 391.2L121.4 383M102.6 391.2L104.4 376.8M228.3 378.6L200.1 388.7M228.3 378.6L201.4 369.1M256.2 334.4L224.7 349.3M205.9 398L185.3 384.1M151.7 291.4L152.9 304.3M83.7 330.4L90 354.8M70.7 347.3L94.4 346.6M70.7 347.3L92.4 353.3M196.1 299.2L187.9 331.6M99.6 305.3L133.6 326M162.1 418.8L161.3 397.8M162.1 418.8L148.5 383M202.3 406L199.4 370.1M197.6 299.7L176.1 310.6M204.7 307.1L202.7 325.2M127.7 401.7L131.2 380.4M224.4 322L204.9 346.6M141.5 284.4L137.7 327.7M179.3 294.8L176.4 311.2M145.3 293.4L157.1 307.5M161.8 295.7L163.4 325.5M137.5 418.5L149.3 379.5M235 374.4L221.4 362.6M233.6 368.5L244.8 353.1M84.3 305.6L148 317.7M111.2 408.2L134.5 397.4M221.5 304.8L189.9 334.3M245.8 341.2L208.1 347.9M216.2 317.1L200.8 322.4M216.2 317.1L190.7 335.4M63.9 325.9L141.4 322.5M63.9 325.9L126.3 366.1M105.6 403.8L149.9 384.7M105.6 403.8L138.3 386.7M117.9 407.2L109.2 373.2M186.8 410.8L174 379.8M190.1 404.6L181.3 383.9M101.8 396.1L143.6 399.5M183.9 407.5L183.1 400.3M183.9 407.5L199.3 383.9M111.9 394.9L124.4 381.6M130.1 404.7L152.1 383.2M186.2 410.1L185.4 387M131.5 298.2L124.4 326.8M138 286.1L126.6 309.5M159 293.9L164.2 306.1M181.7 411L183.3 386.6M126.3 298.2L144.9 304.6M211.6 391.2L246.9 358.9M208.2 309.6L210 324.8M82.5 385.9L126 374.3M247.4 340L221.7 370.7M231.2 321.3L218.1 356.7M171.5 293L170.5 319.9M231.4 372.1L231.1 363.5M231.4 372.1L220.9 335.1M81.8 344.5L93.9 356.2M194.3 405.8L177.5 380.6M92.4 317.3L143.8 329.3M190.6 300.7L182.9 323.9M190.6 300.7L194.3 313M123.5 401L150.1 376.2M260.5 356L211 367.4M203.1 398.8L184.2 377.9M181.4 297.8L166.1 325M117.9 405.5L143.9 376.9M244.5 379.8L223.3 334.2M199.5 402.4L205.8 379.9M146.8 295.5L151.2 306.9M194.2 302.7L191.3 317.3M71.2 340.8L124.8 374.3M224.1 314.6L200.2 332.4M122.8 412.4L149.8 378.4M185.9 420.1L178.6 400.4M91.5 313.7L138.4 321M219.9 382.4L194.2 375.8M75.2 350L123.8 355.9M75.2 350L99.6 368.1M165.8 412.7L165.8 401.8M165.8 412.7L176.3 381.8M214.6 397.4L194.2 397.1M185 292.5L194.4 317.3M189.1 301.5L182.7 307.4M247.2 342.4L226.1 344.2M247.2 342.4L200.4 341M201.7 300.3L176.5 304M207.5 295.2L200.7 329.4M253.2 367.2L213.8 356M101.7 393.5L141.2 372.3M124 297.8L123.2 311.1M206.1 308.8L202.6 317.9M206.1 308.8L184.3 314.9M74.3 367.8L91.9 366.2M92.6 316L129.2 327.7M129.5 299.4L154 302.4M153.4 414.9L143.4 383M206.2 300.1L193.2 331.7M172.9 410.5L163 384.5M85.7 328.6L119.5 339.4M259.4 354L206.2 343.8M207.3 401.1L194.2 391.7M205.7 304.4L200.9 323.2M151.9 296L155.4 323.8M151.9 296L170.6 311.2M213.8 391.6L186.2 374.2M168.8 295.3L173.6 312.8M214.5 314.9L199.7 320.3M197.8 401.3L176.8 376.9M165.2 295.1L167.5 322.6M201.9 306.7L171.2 325.6M201.9 306.7L188.3 316.9M77.8 361.9L104 355.5M270.9 349.2L215.6 369.1M165.7 295.1L155.3 325.2M191.5 300.3L191 308.4M80 340.9L97.6 352.4M92.5 381L96.2 339M92.5 381L117.9 343.2M247.2 338.7L236 363.2M247.2 338.7L205.4 331.8M252.5 344.8L200.6 329.3M94.5 404.9L119.7 378.1M261.6 362.3L198 364M180.9 414L181.4 400.3M205 401.8L190.7 397.9M205 401.8L197.6 395.7M146.4 407.1L152.6 397.4M228.6 378.9L220.7 356.2M193.2 405.4L160.5 389.3M162.2 295.9L158 316.5M162.2 295.9L150.1 317.1M167.6 296.7L165.2 326.4M254.2 327.1L204.4 346.6M91.7 310.8L98.9 329M106.5 394.3L124.4 384.1M80.1 323.4L110.2 335.9M207.6 396.2L192.1 395.7M207.6 396.2L197.9 364.4M232.7 369L219 357.8M193.8 407.5L189.2 369.2M193.8 407.5L188 384.6M117.9 411.6L151.7 382.6M154.4 294.5L171.7 316M241.6 330.7L216.4 347.6M78.2 347L120.6 342.6M216.9 305.2L218.3 339.8M175.1 412.6L177.5 377.7M249.8 347.6L217.8 362.5M120.3 400.6L148.7 379.8M195.7 301.1L193.8 309.9M230.3 374.6L221.1 363.8M148.1 289.9L152.7 307.5M151.6 413.3L163.5 380.2M163.4 411.9L162.5 389.8M166.1 295L158.2 326M206.9 395.5L187.1 373.6M199.7 300.9L181.7 322.2M227.8 396.9L205.3 372.4M118.3 297.9L133.4 308.1M238.8 331.5L206.5 323.8M152.7 407.7L162.3 378.7M159.8 417L152.2 393.8M110.5 300.7L140.9 326.2M110.5 300.7L105 318.7M73.6 365.2L113.8 362.7M241.4 334.5L188.5 331.8M231.4 370.9L201.8 374.6M96.9 305L133.7 315.6M137.1 291.8L123.2 307.1M83.4 323.5L122.7 346.3M83.4 323.5L100.4 343.9M146.1 415.4L145.6 385.3M234.3 370.3L218.7 375.8M226.5 320.3L213.4 345.2M196.8 401.7L176.9 378.9M222.9 382.1L191.9 382.2M77.3 366.1L129.6 370.7M214.1 388.9L187.9 389.3M253.7 338.9L230.8 341.1M115.5 409.9L151.5 396.4M116.2 299.8L117.2 309M116.2 299.8L128.8 344.4M114.8 398.9L145.3 384.3M153.4 293L155.4 304.2M101.9 303.4L136.8 322.2M146.8 409.7L155.5 386.2M152.6 287.1L156.6 308.7M204.3 302.1L187.8 319.9M112.5 296.1L145.8 323.6M214 314.7L202.9 343.6M64.6 315.3L132.1 317.4M90.9 318.3L91.8 353.8M154.5 296.3L135.3 318.6M106.3 296.8L139.8 308.6M257.1 339.8L201.5 341.5M86.4 335.1L99.5 346.6M180.4 295.3L167.8 307.6M75.2 320.3L114.2 328.9M123.3 300L131.5 323.2M255.2 358.1L204.3 368.4M122.1 294.6L148.1 314.5M122.1 294.6L127.5 319.3M169 410.4L169.4 391.1M95.8 316.3L107.3 315.7M193.2 407.1L189.7 377.1M187.1 417.2L184.8 374.3M223.9 314.6L203.2 326.7M202.1 400.6L182.1 393.8M112 400.4L161.2 383.6M112 400.4L132.8 380.1M76.1 353.5L91.6 342.3M76.1 353.5L122.4 390.1M142.9 296.7L150.9 309.9M242.2 326.9L222.7 337.3M242.2 326.9L201.4 329.7M154.2 410.3L166 404.2M69.3 332.7L128.4 362M165.9 410.9L180.5 398.4M98.9 304.3L115.3 316.5M193.6 407L203.9 380.5M166.8 295.2L169.8 303.5M166.8 295.2L166 314.9M182.6 297.9L186.2 333.2M182.6 297.9L168.2 325.3M186.9 293.7L167.4 301.2M214 389L190.3 369.7M148.9 291.9L183.1 322.1M151.8 285L144.4 310.4M201.7 300.4L168.6 312M107.3 303.2L120.5 324.6M107.3 303.2L129.7 326.5M76 380.2L132.5 374.8M180.5 409.7L180.7 390M212.2 402L198.5 370M231.1 323.2L184.3 330.6M195.2 302L180.2 309.9M119.5 302L124.2 325.2M82.5 330.1L114.9 351.5M139.5 408.2L158.5 402M102.4 390.3L115.6 351.2M104.9 392.6L135.4 378.5M175 286L172.3 313.7M238.5 382.8L205.6 358.1M159.7 291.9L165.9 308.6M207 397.5L182 388.1M190.6 406.8L194.7 381.5M245.9 336.4L203.3 334.9M125.1 408.2L130.6 391.3M98.7 394.9L146.9 382.6M144.5 276.6L129.2 306.1M144.5 276.6L124.6 318.3M245.7 339L197.6 341.6M79.1 364.6L113.8 331.9M220.5 320.6L224.5 353.5M138.5 413L140.4 395.3M86.1 381.2L90.5 359.8M107.9 394.6L118.2 367.4M160.5 294.7L164.8 311.9M154.2 409.8L159.7 395.7M154.2 409.8L152.3 380.3M263.7 342.3L213.8 348.1M209.6 396.9L216.7 369.6M98.2 405.8L141.7 388M189.3 403.9L179.1 387.8M113.4 414.4L141.9 392.4M113.4 414.4L151.1 388.7M71.1 351.9L124.8 345M123.8 299.2L130.7 304.4M255.2 357.1L244.5 358.1M125 401.7L147.3 392.4M158.1 413.4L161.1 384.8M230.9 369.6L209.5 354.8M124.1 405L138.1 380M85.5 372.5L104 343.7M249.7 379.1L199.4 371.6M244.7 337.2L211.9 329.9M121.5 406.3L121.3 389.7M178 415.8L210.4 377M148.7 410.5L140.7 389.6M76.9 363.1L143.3 378.2M235.3 323.6L208.1 323.4M235.3 323.6L201.3 332.7M94.3 316.4L117.3 312.4M132.6 299.1L136.1 313.9M235.8 317.1L192 326.6M163.3 293.4L181.5 327.3M209.4 393.1L197.5 365.4M172.7 278.8L170.7 316.4M171.6 294.2L147.6 326.8M91.2 385.6L135.1 374.5M91.2 385.6L147.9 386.7M108.5 395.3L113.8 361.5M90 322.6L112.5 336.4M143.2 291.5L142 307.6M225.2 314.5L238 344.9M225.2 314.5L188.6 322.7M181.8 409.4L188.5 397.3M90.9 381.7L109.1 383.1M169.5 419.6L178.2 390.4M149.7 294.8L152.1 321.7M80.8 366.8L122.7 349.9M83.8 374.2L127.4 361.8M172.3 409.9L167.7 389.9M74.5 374.4L104.8 347.8M207.2 399.1L189.3 368.4M155.9 408.7L142.2 384.3M124.6 294.5L119.4 320.8M118.3 299.7L144.8 323M214.2 308L183.2 309.4M189.6 299.2L185.6 326.4M132 298.3L138.1 308.3M79.3 344.6L112.2 353.4M221.5 316.6L180.6 328.9M157.8 408L154.3 394.6M207.9 395.6L205.7 376.1M233.9 368.2L220.4 328M233.9 368.2L231.7 361.3M136.9 297.4L144.5 309.1M170.7 418.1L178.9 382.6M191.2 300.4L192.2 314.6M118.6 399.4L119.5 377.3M198 296.9L179.9 318.5M159.2 413.1L159.4 389.3M207.8 398.6L184.4 382.8M150.3 292.6L152.4 327.3M122.7 402.6L156.2 384.2M184.7 298.3L169.5 320.9M84.1 379.8L124.3 383.8M99.7 386.4L154 391.1M228 382.3L178 380.1M233.8 329.1L221.5 329.3M143.2 291L154 325.3M143.2 291L156.8 309.1M147.3 407.7L143.1 396.9M170.3 282.6L170.8 301.2M145.7 293.7L151.4 312.5M140 292L136.3 325.3M140 292L170.2 320.9M167.2 410.1L157.2 402.1M235.5 377.7L214.8 372.2M79.5 362L102.8 377M153.9 290L166.5 321.6M82 389L111.6 378.7M123.4 400.7L137.9 370.3M138.2 297.5L154.8 313.9M208.1 292L198.9 314.2M187.6 298.8L149.9 303M187.6 298.8L200.1 323.3M197.3 297.4L171.9 303.5M254.6 359.7L215 349.8M197.5 301.7L174.8 321.1M197.5 301.7L178.6 326.1M164.5 290.6L165.4 311.1M164.5 290.6L166.6 322M193.9 402.7L165.3 386M193.9 402.7L189.8 376.8M136.5 405.6L143.6 387.6M151.6 410.6L164.3 381.6M250.2 363.5L199.2 367M250.2 363.5L200.3 336.3M168.4 287.3L153.5 325.3M176.5 291L146.3 313.5M176.5 291L169.3 325.8M174.1 413L183.9 381.8M84.7 335.6L98.4 324.5M248.1 369L234.9 364M246 334.6L200 322.9M81.6 343.6L95.9 345M130 294.7L139.4 303.5M119.8 403.3L148.7 380M204.2 301.7L194.7 329.1M220.3 382.9L196.3 370.3M220.3 382.9L203.6 383.8M206.9 307.7L184 328.4M208.7 413.5L207.1 387M232.2 370.6L215.8 369.1M232.2 370.6L229.6 363.2M231 370.1L198.8 361.5M134.3 404.2L139.1 386.2M200.7 411.2L181.1 394.6M82.9 377.8L154.1 397.3M215.2 303.7L188.3 312.3M204.4 401.2L199.9 383.2M204.4 401.2L190.6 373M75 350.9L132.2 333.5M106.3 394.5L109.9 380.8M166.1 293.8L173.3 322.8M84.5 336.9L99.8 323.3M133.3 405.2L140.8 384.8M153.6 407.3L161.9 385.1M255.2 355.2L194.4 320.4M105.6 395.8L123.4 376.9M78.9 352.2L127 370.9M118.1 299.2L134.8 327.6M158.1 294.6L165.5 319.6M88.2 374.7L124.9 376.9M220.5 316L196.9 324.9M192.5 404.9L185.4 374.6M84.5 337.5L126.2 351.9M228.8 373.1L222.8 356.3M64.4 363.9L128.3 383.2M233.1 326L190.4 336M219.4 383.5L198 375M170.4 291.3L176.5 319.8M112.3 399.8L153.4 397.7M125.3 279.7L143.2 320.4M202.2 304.7L175.4 322.4M156.5 296L161.7 313M94.5 316.6L100.2 324.4M94.5 316.6L124.2 350.5M228.7 392L204.5 382.8M214.6 312.7L191.4 327.2M214.6 313.7L200.8 325.1M156.8 294L160.9 317M231.3 381.3L201 365.1M72.3 364.1L93 370.2M186.9 423.5L176.4 381.8M137.6 405.6L136.9 386.3M218.1 383.5L197.3 360.7M218.1 383.5L244.5 352.9M129.4 298.7L157.8 323.1M115.3 398.7L131.2 388.6M113.9 397.9L111 355.1M139.6 286.3L134.8 305.7M182.3 409.8L176.2 377.5M182.3 409.8L181.9 390.3M154.8 407.7L147.9 394.7M74.2 351.1L117 350.4M74.2 351.1L120.8 356M205.7 397L203.9 391.8M170.6 292.2L157.4 317.8M214.1 398.6L186.1 393.9M256 363L217.3 364.1M234.3 386.7L203.3 363.7M225.5 322.4L204.9 325.2M81 343.7L100.8 377.7M207.9 305.1L184.4 319.5M192.1 404.7L172.3 389.4M192.1 404.7L181.8 385.8M73.3 357.8L100.6 370.9M211 392.5L189.7 375.1M227.6 381.1L227.9 357.7M227.6 381.1L204.1 367.9M76.8 343.6L139.4 331.7M154.7 412.4L167.3 393.2M194.2 297.2L214.5 325.4M199.5 402.2L166.9 396M207.2 308.1L195.8 332.7M207.2 308.1L185.9 332.9M103.4 392.5L92.5 368M153.9 410.4L130.3 395.5M234.6 371.9L240.8 358.6M222.6 385.1L212.2 374.9M192.5 289.9L209.9 318.2M192.5 289.9L187.9 308M142 406L160.6 385.8M216.8 409.1L188.2 397.4M130.6 402.8L114.6 383.6M153.5 413.8L169 400.9M78.6 318.3L129.9 341.7M162 411.8L147.5 385.7M201.9 305.4L188.5 322.7M180.9 294.6L182.6 328M247.8 343.2L212 359.4M247.8 343.2L207.8 326.6M174.6 290.4L178.5 325.5M211.1 309.4L189.5 332.4M151.2 292.5L159.6 323M96.2 311.8L96.8 339.1M165.2 410.7L160.5 379M233.9 368.7L208.4 358.8M80.2 344.9L108.2 339.5M229.8 326.6L201.7 342.6M229.8 326.6L196.8 328.3M214 389.3L212.1 380.9M241.5 374.7L205.4 367.4M257.6 342.3L235.8 359.3M239.5 367.1L214.7 361.8M194.7 295.6L196.2 315.9M91 322.7L107.9 340.7M209.6 309.4L185 329.1M209.6 309.4L193.8 335.2M179.4 413.8L182 376.5M221.5 307.6L206.6 326.6M221.5 307.6L224.1 328.2M226.7 324.7L216.8 350.5M72.1 374.4L122.4 360.1M72.1 374.4L108.8 354M168 419L175.4 389.6M164.3 295.3L180.2 318.8M164.3 295.3L159.8 324.4M178.8 296.2L183.1 313M104.6 304.7L116.7 341.6M84.8 375.2L119.9 379.6M202.4 301.4L170.1 326.5M89.1 375.8L126.7 383.7M173.6 295L152 302.4M145.6 406.5L175.4 402.4M80.8 327.3L129.1 329.8M212.7 389.5L182.7 390M167.2 414L181.7 400.5M174 294.2L154.9 318.3M225.1 382.9L202.7 372.9M225.1 382.9L213.9 377.7M230.9 316.7L203.6 325.9M120.7 399.6L132.4 378.4M79.3 324L113.1 359.2M93.7 300.1L130.6 330.3M93.7 300.1L134.7 317.3M68.6 357.8L120.8 349.2M88.7 377.2L106.5 376.5M88.7 377.2L114.9 356.8M141.6 408.2L138.6 397.5M249.7 343.5L207.5 338.3M175.5 411L174.8 390.3M175.5 411L177 390.7M220.1 387.6L192.5 380.8M217.6 315.1L222.9 334.9M69.9 350.7L113.1 364.1M101.1 298.9L128 315.3M98.9 385.9L113.2 370.3M71.4 352.1L103.6 351.6M76.5 313.7L110.4 339.8M73 335.6L100 345.5M143.9 413.7L154.6 388.9M92 386.9L96.3 369.1M53 320.9L124.1 328.7M71.2 343.5L90.9 359.4M124 408.1L135.4 399.1M80.7 384.5L110.3 375.7M72.4 352.4L96.3 350M115.5 295.3L125.3 305.4M88.6 388.7L124.1 375.6M87.6 308.2L124.1 329.9M87.5 376.2L99.6 351.8M93 409.3L102.7 377.5M79.2 345.3L99.9 342.5M119.8 291.6L129.9 307.9M90.2 316.7L120.8 329.9M116.4 397.5L120 390.5M72.6 327.7L100 325.9M96.9 308.3L134.4 318.8M78.5 348.3L112.3 350M78.8 396L122.7 383.2M102 390.3L107.5 378.1M40.2 372.9L111.3 360.1M72.1 372.4L99.9 363.1M61.5 297.1L113.7 317.5M52.6 348.3L108.6 353.6M80.9 314.6L117 311.5M83.6 333.1L115 345M152.3 289.1L145.6 309.6M61.9 363.6L105.8 371.5M75.3 311.8L102.1 323.7M41 334.7L92.5 344.2M78.7 318.7L98.1 334M88.8 323.2L118.4 333.5M71.4 350.2L110.1 346.4M79.7 361.2L92.2 363.7M77.4 293L129.3 322.4M69.8 289.6L130 322.4M67.3 352.9L102.1 337M115 302.3L134.1 317.1M123.7 402.1L149 390.1M86.7 378.3L107.9 377.4M133.6 298.2L150.5 312.1M87.3 318.7L119.7 332.3M78.2 350.5L102.6 347.9M82.4 364L87.9 355.4M78.7 341.6L111.9 342.4M85 379.1L112.2 368.7M77.4 357L108.3 360.1M80.4 344.7L95.5 354.4M77 408.9L140 383.5M113.5 405.3L138.7 388.3M88.5 382.1L111.5 385.2M78.5 367.7L113 361.6M90.5 382L107 376.7M75.1 298.5L110.8 322.5M71.8 363.2L90.8 351.6M74.6 299L119 310.6M59.8 340.2L98.1 336.1M80.7 304.7L107.7 321.2M64.7 354.2L96.6 347.5M82.7 329.4L113.2 333.2M82.6 367.2L107.7 358.9M107.2 304L139.9 316.3M101.3 404.9L130.5 391.5M78.2 311.9L110.9 331.9M45 327.8L101.6 337.4M49.4 360.1L103.6 353.9M37.5 355.3L113 373.6M54.6 321.5L120 333.4M57.4 376.2L110.5 344.9M106.5 394.6L133 380.8M89.5 381.5L111.1 368.9M83.9 383.9L110.8 379.2M118.5 300.8L143.5 305.6M86.2 324.6L105.3 326.7M62 343.9L98.7 340.2M60.3 370L105.5 362.5M101.3 304.4L126.4 305.5M67.7 345.5L88.3 360.1M67.5 310.2L116.7 329.4M64.1 401.9L99.4 373.4M51.3 310.4L107.9 336.5M86.2 312.5L101.7 333.3M69.1 303.5L116.8 333.9M65.7 366.5L111.1 361.4M78.1 365.3L105.8 370.2M110.1 397.4L111.6 380.7M72 350L106.4 356.9M130.2 405.1L134.2 387.6M99.1 394.4L127.6 382M61.5 342.9L109.8 349.8M117 286.7L144.2 309.5M96 292.5L120.2 325M88.6 324.1L105.3 330.3M80.3 291L125.7 320.7M53.1 340.9L91.1 349M85.9 321.9L112.6 336.3M80.7 360.9L106.1 339.3M82.5 379.9L105.7 366.8M86.5 330.2L115.8 337.4M104.9 303.6L113.1 310.2M103.2 394.5L130.3 385.3M83.4 370.7L106 365.5M82.4 385.8L108 384.8M71.3 369.8L101.9 368M133 298.7L150.5 318M72.3 345.7L89.2 346.8M49.3 365.8L115.3 363M38.2 345.8L111.1 342.7M78.3 333.2L103.9 335.2M49.1 316.1L97.1 341.4M113 396.8L112.9 389M60.2 384.8L115.7 384.1M107.3 413.4L136.2 390.3M81.4 367.2L103.9 347.5M109.2 290.9L141.9 314M49 316.4L115.2 335.2M87 318.2L99.4 326.6M98.5 309.7L135.1 318.5M91.2 322.7L113.1 362.1M66.3 307.5L100.9 326.1M69.1 329.5L99.9 335.3M91.1 384.2L113.6 387.8M67.8 392.6L95.4 373.8M77.5 354.3L100.9 357.2M76.3 358.2L113.4 350.8M65.9 403.2L131 389.6M88.6 377.3L107.6 372M93.7 391.3L112.9 374.8M125 402.4L142.2 383.1M59.1 299.9L127.5 316.1M81 328.8L99.9 322.2M102.2 388.6L129.7 377M98.1 309.8L118 314.6M82.9 387L111.6 373M67.9 371.4L94.8 365M86.5 385.5L113.7 384M97.7 315.3L107 333.2M97 311.2L118.1 323.6M99.5 386.9L116.5 370M57.5 317.1L97.7 329.4M136.4 291.2L147.1 305.1M95.6 417L123 394M101.8 390.9L128 377M270.8 333.8L208.3 330.3M235.6 368.1L216.4 364.1M213.7 314L205.7 320.4M271.7 338.4L241.5 353M226.7 313L199.4 332.1M263.6 360.2L236.3 356.2M245.3 369.2L206 371.9M262.2 321.7L216.3 342.8M244.7 383.1L220.6 368M229 322.7L213.6 323.3M258.1 364.2L215 368M248.1 368.1L242.1 354.9M241 306.4L214.8 338.6M257.5 343.2L223 359.3M224.1 322.4L195.7 328.4M261 360.1L238.9 354.7M234.5 374.7L226.2 352.1M244.3 366.1L235.2 362.3M233.2 388.9L206.9 378.3M238.3 327.5L212 340M236.1 372.5L217.5 370.2M219.4 313.7L210.9 329.8M224.2 322.7L211 325M256.8 324L235 341.9M256.8 353.6L233.9 350.9M243.8 319.6L207.9 316.9M236.7 328.5L227.2 335.2M257.1 360.1L225.2 368.4M263.5 350.2L214.1 336.9M260 337.2L208.5 336.3M262.2 347L224.4 341.6M240.8 371.2L221.3 363.8M227.5 388.8L201.2 372.9M252.5 330.2L223.4 361.7M255.5 342.8L234.6 362.4M253.3 333.8L223.8 340.4M242.5 328.9L230.1 336.8M246.3 341.5L246.1 356.9M234.9 381.1L208.8 380.6M232.1 318.5L202.6 333.8M221.7 312.4L195 317.6M217.7 318.4L218 329.5M250.9 335.5L224 339M241.9 336.9L218.4 331.7M246.8 340.5L221.4 340.8M223.2 381.4L216.6 367M234.4 368L211.5 369.3M265.3 349.9L230.7 356.3M186 297.8L177.2 316M260.5 341.9L232.7 342.6M272.8 354.1L237.5 348.9M250.1 321.8L221.7 332.8M208.5 300.3L201.4 318.5M260.3 346.3L223.2 350M204.4 284.3L185.9 316.8M209.1 305.5L189.1 315.5M217.8 317.2L199.7 324.7M289.1 362.9L234.3 359.2M243.1 337.3L229.5 348.4M264.3 340.2L230 354M275 335.1L216.6 339.3M255 352.2L218.5 339.4M252.9 345.1L238.6 348.7M229.5 296.8L200.8 332.3M251.6 347.7L246.9 360M228 373.9L213 367.2M234.6 326.1L228.8 332.5M226.8 385.3L214.7 368.7M223.9 379.7L218.6 370.7M256.3 367.3L215.3 377.3M250.1 329.9L221 333.2M256 369.5L215.9 368.6M232.5 370.9L214.4 369.3M261.1 374.4L222.7 372.5M242.8 370.6L235.7 360.7M246.9 374.4L207.7 372.2M263.1 336.2L221.9 353.9M263.6 342.3L228.8 341.8M233.6 326.5L211 341M261 345L226.3 348.8M258.9 337.9L221.5 347.3M250.8 339.5L229 337.2M264.2 351.5L232.2 351.7M210.7 401.2L193.9 380.8M216.4 391.6L198 394.3M238.1 324.9L214.4 333.6M250.5 365.8L235.9 358.3M262.5 363.5L233.9 351.8M273.4 353.4L226.4 361.4M263.1 367.5L215.4 363.6M272.3 357.2L211.1 336.9M232.9 326.3L211.1 334M228.9 400.1L217.7 378.3M234.3 369.5L208.1 363.3M261.6 356.1L242.4 358.4M248.7 341.9L231 348.1M210.5 310.7L205.8 318.4M254.9 341.5L225.8 340.6M253.4 331.9L243.1 354.1M237.8 375.3L215.6 368.5M280.2 361.4L233.6 347.5M233.4 381.1L200.3 371.6M221.6 382.6L194.5 380.2M257.2 364.3L209.5 367.6M271.7 339.4L224.7 365.1M223.4 392.4L206.2 379.4M223 314.7L204.2 324.6M253.8 339.9L222 336.9M248.1 369L213.1 372.6M229.6 371.4L215.7 368.3M246.7 334.6L223.2 336.4M221.5 317.5L208.7 324.7M262.2 327.3L212 329.9M223.8 316.9L204.4 330M240.7 332.1L220.4 352.9M260.9 350.3L222.6 352M254.2 367L221.5 355M254.2 346.7L213 361M271.8 371.1L216.3 364.9M265.7 359.1L230.1 351.2M253.7 356L238.2 350.1M258.7 357.4L221.4 344.9M214.5 308.5L203 314.2M258.5 350.8L225.2 366M240.4 367L238 362.8M222.5 382.7L205.2 381.7M269.2 348.4L240.5 346.4M261.2 367.5L221.3 366.4M231.7 385.9L204.7 374M228.5 309.3L204.2 334.1M293.5 381.3L304.6 361.7M142.5 432.1L143.5 387.3M200.3 406.6L197 375.5M129.1 415.2L144.9 380.5M198.7 288.8L178.5 316.6M207.5 402.2L169.5 384.5M140 405.1L117 389.5M72.1 394.2L133.1 367.6M192.5 294.5L181.4 330.1M155.6 280.8L158.8 309.4M149.6 409.9L119.2 390.8M230.2 383.5L193.9 364.2M230.7 305.7L208.6 343.2M174 296.6L160.7 307.6M179.1 287.3L162.4 300.7M184.6 298.2L175.5 328.5M154.4 411.5L169.3 394M124.7 292.7L125.5 312.2M186.9 284.8L175.1 327.9M117.4 296.8L119.2 312.9M150.6 293.7L149.9 320.6M154.2 287.4L150.4 317.6M223.6 379.3L203.6 368.8M234.4 326.3L226.8 337.9M234.4 326.3L196.8 340M175.7 285.8L178.5 307.8M175.7 285.8L172.9 307.4M125.4 402.4L123 385.4M269.8 351.9L210.2 337M269.8 351.9L237.7 356.6M103.7 283.4L136.4 314M125.1 293.3L130.7 333.2M155.2 284.4L149.5 306.3M162.2 292.9L146.2 303.5M15.3 290.4L81.8 306M26.4 281.5L81.8 325M38.4 285.5L84 318M56.2 280.3L92 312M63.1 277.3L95 310M54.9 288.9L115.4 317M65.6 289.5L113.7 317.2M71.6 296.9L100 328.7M62.2 302L99.4 321.7M52.8 306.2L93.6 327.1M55.4 311L100.6 336.1M61.4 310.5L96.3 322.5M69 307.1L106.8 319.9M73.3 320.2L90.7 333M46.9 325L93.8 333.8M29.8 328.4L98.8 337.9M67.3 326.4L92.8 333.7M90 290.4L123.3 310.1M100.6 294.7L123.7 310.2M107.4 291.2L127.9 303.1M111.6 289.5L122.9 307.2M115.9 286.6L128.9 306.8M85.2 293.5L113 317.2M76.7 292.6L113.4 313.2M29.8 328.6L96.3 348M28.6 334.1L91 342.5M46.4 325.2L100.3 334.1M49.4 329.3L90.2 331.2M45.2 339.7L86.8 341M55.4 345.2L87.4 355.3M31.5 348.6L85 361.6M47.7 353.2L94.4 346.5M20.5 360L84.9 353.1M19.3 364.4L84.9 361.3M34.9 363.9L94.7 353.3M41.8 357.6L90.3 357.2M28.6 372.4L87 363.4M36.6 372.4L88.7 359.9M52.8 306.8L101 326.4M55.4 311.1L100.4 330.9M67.3 326.4L91.2 345.5M61.4 340.9L83.4 354.2M60.5 349.4L95.2 347.1M73.3 320.5L92.4 342.4M28.9 372L92.9 369.6M49.8 379.9L96.1 366.5M48.6 390.5L93.5 371.7M65.2 383.3L99 375.6M71.1 392.2L102.4 374.6M65.2 404.9L112.1 382.5M74.2 409.2L118.4 388M76.2 411.8L108.3 384.7M84.8 397.3L100.5 382.1M93.3 410.9L114.7 390.5M95.3 422.8L126.9 394.1M110.3 425.4L120 397.2M124.8 441.2L112 409M83.9 386.2L108.3 378.5M110.8 425.3L131.8 394.8M124.9 441.2L143.2 400.8M137.1 452.4L159.2 422.2M130.7 418.5L142.2 401.7M139.7 422.2L144.9 396.9M151.5 424.7L158.2 401.4M159.2 423L162.8 399.7M165.4 448.5L170.2 420.5M169.3 440L171.8 401.9M176.9 429.8L176.3 405.8M176.9 423L169.5 405M184.6 419.2L181.4 401.3M193.6 425.3L184.4 400.1M200.7 425.9L187.2 400.2M206.3 415.1L196.6 393.6M208 435.4L183 397.6M204.9 454.7L196.4 415.4M227.3 425.3L192.1 393.3M325.2 380.1L268 370.2M318.2 363.1L249.4 352.7M304.6 360.9L241.9 355.3M283.3 364.3L248.6 356.9M291.8 362.6L226.1 369.4M293.5 381.3L253.5 385.2M271.4 371.1L242.9 360.1M269.3 375.7L236.7 366.4M252.6 377L230.7 363.8M254 385.2L218.3 374.4M254.3 400.6L220 376.2M259.1 407.7L223.4 375.7M240.3 405.2L212.5 386M245 411.1L207.9 386.5M231.3 413.2L204.3 390.2M222.3 411.1L204.5 394M243.2 429L204.9 388.1M227.9 424.8L194.8 391.5M248.9 438.7L203.7 395.3M242.4 391.5L206.8 383.2M273.2 458.5L214.7 413.2M249 439.3L212 410M243.4 428.7L201.7 388.6M205.1 455.1L190.9 400.9M208.4 435.6L185.1 397.9M282 304.8L225.2 331.7M257.3 311.1L216.4 324.4M293.9 315.3L230.6 335.9M273 320.8L231.6 332.9M279.4 327.6L234.1 338.3M300.2 331.2L237.9 335.8M286.2 331.5L250 354.6M290.2 339.2L246.9 351.3M305 346.4L242.2 347.5M304.7 354.2L248.3 359.7M284.5 352L245 358.3M317.8 363.1L244.7 358.2M304.5 361.4L240.9 356.4M283.2 364.4L245.2 355.4M291.7 362.7L251.3 358.8M266.6 329.3L227.2 330M264.9 345.2L245.5 347.9M270.9 370.7L221 366.6M269.5 375.8L240.5 364.7M207.6 276.4L188.6 310.5M203 279.8L185.9 310.7M197.4 281.5L187.5 307M188.9 284.9L183.4 307M224.7 281.5L200.7 315.8M236.8 280.7L207.8 316.2M243.1 287.5L210.1 321.8M233.2 285.8L210.1 321.8M219.5 286.6L200.6 312.8M211.5 290.1L193.6 312.9M233.7 290.9L193.9 308.2M236.2 298.1L210 324.4M282.3 304.9L220.8 328.1M294.2 315.3L237.3 341M257.6 311L215 328.7M272.9 320.7L241.3 343.4M244.8 308.8L216.4 325.4M202.2 289.5L199.3 309.7M136.9 256.8L133.6 290M167.1 270L171.3 302.8M173.4 271.7L170.5 305.3M170.3 275.8L164.1 298.3M162.9 280.5L166.3 303.3M148.8 279.2L153.9 305.8M141.2 281.4L140.8 300.9M125.1 281.4L138.4 306.1M120.5 284.7L134.2 304.7M156.1 285.6L162.8 305.7M175.1 287L169.5 303.4M179.3 287L171.7 302.2M188.3 284.7L184.2 303.6M111.5 289.8L137 305.9M107.3 291.5L128.8 309.5M90 290.3L115.4 310.5M100.5 294.4L117.5 306.5M115.8 287.3L134.7 301.9M131 288.1L141 307.5M146.3 282.2L147.9 303.2M85.3 293.2L109.8 310.5M55.3 306.2L99.7 318.6M69.8 308.8L107.9 321M76.2 307.1L105.8 325.4M74.3 313.5L101.5 329.7M79.6 314.8L98.9 323.3M30.1 331.4L85.6 343.6M56.3 332.3L89.5 346.7M62.5 332.5L91.2 337.6M44.2 335.5L93.6 347.2M57 354.3L87.9 358.7M65.9 353.7L96.3 361.7M46.1 358.1L87.5 351.2M51.9 358.8L91.5 369M38.2 363.5L88.3 353.3M50.6 366.8L87.5 354.9M63 366.1L84.6 356.1M62.7 369L93.5 360.8M64.7 373.3L91.2 370M67.9 342.8L85.7 354.2M67.9 346L92.9 351.2M73.7 344.7L84.7 346.2M67.2 376.7L88.7 368.2M72.3 377.6L98.6 367.4M70.4 367.7L87 368.1M95.1 397.5L114.1 394.5M91.1 394.3L111.1 390.2M139.1 416.7L143.9 401.1M112.7 410.3L130.6 395.6M197.9 416.6L197.4 399.6M227.5 425.6L204 392.8M214.7 415.5L204.9 386.9M236.3 402.7L206.5 380.6M224.3 403.8L203.4 387M231.5 395.5L206.9 387M219.2 396.3L213.3 385.2M222.2 408.2L201.4 386.9M289.9 355.6L248.7 358.8M277.2 357.2L249 358.4M267.2 340.3L247.6 347.6M263.8 368.7L232.7 367.6M257.3 365.8L227.5 366.7M259.6 335.5L231.8 342.4M256.1 326.5L231.2 332.4M258.6 350.8L234.9 342.9M134.3 282.7L146.5 303.2M85 293.6L101.2 315.8M141 288.6L147.3 303.1M146.7 289.7L146.1 299.7M160.4 288.6L162.4 301.1M151.1 292.3L148.7 301.7M167.8 291.7L173.6 298.9M188.2 284.5L182.9 306.8M224.4 292.3L203.4 312.3M257.4 311.6L225.7 328.3M241.1 312.8L219.3 325.5M210.3 299.1L195.9 306.7M185.1 291.5L180.4 300.2" stroke="#d3d3d3" stroke-width="0.9" fill="none"/>
<path d="M190.5 294.8h0M156.8 287.3h0M165.5 295.9h0M85.7 310.3h0M150.1 406.6h0M212.1 303.9h0M169 288.4h0M246.8 377.4h0M240.8 333.8h0M191.4 414h0M214.4 395.1h0M115.3 297h0M218.4 313.9h0M171.1 294.8h0M115.6 398.2h0M150.7 409.7h0M184 298.3h0M114 411h0M271.2 358.2h0M197.3 301.6h0M141.6 290.3h0M146.8 407.1h0M177.7 293h0M202 288.5h0M211.2 390h0M87 383h0M232.2 329.2h0M134.2 403.9h0M209.2 393.8h0M187.4 406.6h0M102.7 408.6h0M198.4 301.7h0M80.8 350.4h0M118.5 401.5h0M216.3 389.1h0M112.2 395.7h0M217.2 384.7h0M95.6 397.9h0M87.4 385.2h0M101.3 292.1h0M93.8 383.4h0M78 375.7h0M256.1 357.4h0M213.3 388.4h0M224.6 378.6h0M227.2 377.9h0M197.2 299.5h0M146.7 282.6h0M164.9 294.3h0M195.1 300.5h0M97.8 312.8h0M120.7 300.8h0M250.4 342.6h0M132.2 402.9h0M203.9 398.5h0M119.8 399.3h0M90.5 314h0M195.3 292.1h0M90.4 381.6h0M123.8 409.1h0M149.8 296.8h0M169.2 296.5h0M232.9 316.6h0M77.4 350.1h0M76.4 333.9h0M252.3 363.7h0M119.1 403.1h0M194.7 411.9h0M126.3 291.3h0M124.4 403.1h0M119.7 410.4h0M96.2 301.7h0M107.9 296.6h0M212.6 313.4h0M227.3 375.4h0M85.4 381.8h0M263.6 351h0M103.4 293.6h0M91.4 321h0M116.7 296.7h0M119.9 400.7h0M82.3 363.2h0M110.7 394.5h0M229 325.5h0M207.1 302.3h0M85.3 370.6h0M143.1 297.5h0M192.2 285.3h0M219.8 318.5h0M110.8 396.3h0M132.2 403.2h0M222.3 313.9h0M256.5 343.1h0M149.3 293h0M168.2 283.4h0M129 407.5h0M169.4 419.3h0M77.7 358.1h0M238.8 324.5h0M83.2 339.6h0M199 304.1h0M166.5 291.7h0M182.7 296.2h0M234.8 371.7h0M160.8 413.2h0M163.6 411.3h0M160.8 295.8h0M90.7 306.8h0M179.7 410.8h0M131.1 290h0M243.4 379h0M190.4 301h0M113.3 415.2h0M84.6 333.8h0M150.1 407.4h0M76.5 354.2h0M202.5 298.4h0M171.5 410.1h0M189.6 299.8h0M209.9 308.5h0M209.3 396.1h0M264 366.5h0M154.3 420.8h0M79.3 367.7h0M84.3 339h0M77.1 327.6h0M122.6 400.7h0M125.4 291.1h0M115.5 296.9h0M70 322.2h0M208.9 310.2h0M215.5 316.3h0M211.8 393h0M87 297.3h0M133.1 294.4h0M148.1 414h0M136.6 297.2h0M168.9 291.8h0M226.5 322.9h0M140.6 297.7h0M205.2 401h0M263.3 364h0M226.8 324.4h0M216.6 387.8h0M192.3 301.7h0M201.8 402h0M80.1 371h0M140.5 293h0M111.5 304.3h0M140.5 410.2h0M248.2 335.9h0M271.9 351.5h0M228.6 387.9h0M235.1 325.7h0M237.1 332.5h0M259.7 348.6h0M79.2 336.6h0M220 314.6h0M75.2 348.3h0M130.7 407.8h0M237.7 367.7h0M183.6 289.9h0M105.9 298.1h0M213.2 400.9h0M159.3 413h0M265.3 368.2h0M94.9 296.6h0M238.7 326.1h0M73.1 335.9h0M177.9 296.1h0M215.6 393h0M205.7 305.8h0M97.8 310.3h0M162.1 286.3h0M99.4 304.2h0M239.2 368.1h0M230.2 325h0M153.6 290.8h0M216 386.4h0M199.8 300.4h0M179.4 298h0M179.3 298.2h0M197.9 304.3h0M107.2 397.9h0M119.7 295.9h0M95.5 315.6h0M194.1 300.9h0M128 401.8h0M89.6 382.5h0M145.5 411.6h0M168.7 410.3h0M191.1 407.6h0M139.9 295.5h0M71.6 379.5h0M220.8 383.1h0M82.7 334h0M256.2 348.8h0M131.3 297.9h0M167.6 411.9h0M170.1 295.4h0M98.5 304.8h0M92.5 389.9h0M155.5 408.3h0M243.6 336.5h0M128.9 404.7h0M78.3 380.2h0M229.6 376.6h0M233.4 325.2h0M174.7 410.9h0M64.6 352.2h0M79.4 348.7h0M260.1 350.5h0M205.4 400.7h0M85.2 330.4h0M131.8 290.7h0M185.3 291.5h0M161.3 409.2h0M243.7 366h0M111.9 397.1h0M199.4 407.6h0M203 303.2h0M181.6 408.5h0M77.3 355.3h0M146 297.4h0M83.7 369.2h0M218.3 312.9h0M87.7 374h0M81.7 333.3h0M178.7 424.9h0M256.8 362.5h0M215.7 392.7h0M249.9 335.1h0M142.2 293.1h0M220.7 317.1h0M147.5 295.1h0M163 410.9h0M138.2 284.5h0M189.4 406.4h0M176.9 409.9h0M236.5 329h0M158.5 288.5h0M81.9 315.5h0M171 411h0M87 308.6h0M236.7 371.2h0M233 378.4h0M207.7 300.1h0M99.1 304h0M172.3 293.5h0M195.9 405.3h0M81.2 323.4h0M193.3 301.3h0M182.6 412.9h0M177 296.1h0M167.4 291.6h0M174.5 294h0M136.3 406.2h0M113.5 402.1h0M75.4 351.5h0M72.5 354.5h0M121.1 403.7h0M111.6 400.5h0M226.6 304h0M230.4 310.3h0M139.2 297.5h0M87.5 325.5h0M100 309.8h0M95.3 295.3h0M211.4 393.7h0M134.4 422.7h0M195.9 293h0M246.6 331.7h0M138.1 290.7h0M222 309h0M133.4 287.7h0M88.2 374.8h0M192.3 300.4h0M82.4 364.6h0M251.7 341.9h0M252 340.1h0M223.5 381.7h0M115.8 283h0M202.7 306.3h0M114.1 302.8h0M100.4 307.2h0M163.1 421h0M68.5 386.9h0M82.3 339.6h0M96.8 390.1h0M163.6 292.2h0M141.4 294.1h0M139.5 408.4h0M204.3 296.6h0M164.8 412h0M163.4 410.7h0M171.6 410.4h0M190.8 291.3h0M166.2 413.2h0M212 310.1h0M188 406.7h0M181.9 411.8h0M119.5 300.3h0M154.4 288.1h0M190.3 296.6h0M181.5 297.7h0M88.9 304.3h0M82.5 309h0M169.2 289.9h0M184.2 414.2h0M135.4 406.9h0M181.8 298h0M139.5 409.2h0M215.5 391h0M252.4 333.9h0M92.9 384.4h0M143.2 297.4h0M177.6 286.3h0M222.5 388h0M166.8 296.2h0M148 406.3h0M212.2 304.1h0M140.1 412.2h0M133.5 295.2h0M181.4 285.8h0M77.1 340.1h0M89.3 316.6h0M175 284.5h0M129.6 278.6h0M230.5 322.5h0M137.4 287.4h0M190.2 301.4h0M175.8 418h0M193.4 302.9h0M103.4 389.4h0M186.8 414.7h0M213.8 304.7h0M173.9 296.7h0M108 305.2h0M152.4 407.6h0M131.7 404.1h0M131.8 413h0M202.1 296.9h0M107.9 299.5h0M139.1 293.2h0M169.2 411.1h0M86.7 326.5h0M85.6 374.2h0M104.5 406.1h0M188.3 405.8h0M143.4 406.1h0M130.8 297.7h0M147.5 415.3h0M168.8 295.3h0M253.1 354.5h0M80.2 366.5h0M209.4 304.3h0M90.3 396.8h0M73.5 363.6h0M192.3 282.2h0M70.2 359.2h0M175.2 286.4h0M238.2 367h0M174 295.8h0M219.4 397.9h0M216.8 387.8h0M210.3 394.5h0M183.8 296.4h0M241.1 333h0M166.9 294.6h0M162.4 409.8h0M177.4 419.1h0M192.4 302.1h0M257.5 328.6h0M91.1 383h0M81.9 341.8h0M244.4 330.7h0M109.4 407.7h0M199.5 400h0M80.9 353.4h0M199.8 299.6h0M239.7 323.2h0M221.3 382.5h0M205 305.2h0M196.1 303.1h0M83.9 368.9h0M217 386.5h0M150.8 292.9h0M127.7 405.5h0M188.1 300.9h0M180.2 418.3h0M202.6 417h0M170.7 290.7h0M108.8 299.1h0M178.1 292.8h0M78 304.1h0M270 355.1h0M91.1 398.2h0M146 408h0M144 407.7h0M109.8 394.4h0M82.9 341h0M181 285.1h0M86.7 336.1h0M224.9 394.3h0M133.7 293.3h0M137.5 406.9h0M181.9 407.4h0M89.4 328.1h0M145.2 409.7h0M188.2 295.9h0M268.1 359.9h0M139.4 295.8h0M132.2 414h0M218.5 313.8h0M106.6 304.9h0M204.1 305.9h0M211.9 313.4h0M106.4 392.7h0M129.2 300h0M230.8 321.1h0M232.8 370.4h0M134.6 403.9h0M145.2 291.7h0M160.5 295.9h0M87.8 378.3h0M221.5 389.5h0M131.8 414.5h0M170.5 295.3h0M83.7 381h0M170.1 410.8h0M160.2 411.5h0M242.8 332.3h0M166.2 293.3h0M186.9 405.3h0M115.6 410.7h0M166.9 291.3h0M81.1 378.8h0M73.8 351.9h0M153 409.1h0M132.1 283.3h0M141.8 418.1h0M172 295.1h0M120.1 415.6h0M218.6 396.1h0M138.1 405.1h0M148.5 297.1h0M159.2 409.4h0M83.4 327.5h0M244.2 335h0M211.4 407.8h0M138.4 405.4h0M149.4 410.3h0M69.4 318.7h0M73.9 374.2h0M200 403.9h0M185.4 295.8h0M196.1 301.6h0M181.3 408.2h0M105.7 307.1h0M84.4 320.8h0M249.2 332.5h0M105.4 399.2h0M77.1 342.8h0M80.2 361.1h0M135.4 409.5h0M249.7 339.7h0M124.9 402.7h0M166.8 412.2h0M213.1 391h0M196.7 300.2h0M221 381.1h0M148 296.3h0M187 407.7h0M269.2 348.3h0M80 332.5h0M115.2 299.2h0M118.9 410.8h0M126.2 402.3h0M224.9 321.8h0M203.2 305.9h0M240.5 335h0M157.9 414.7h0M243.9 338.6h0M169.1 290h0M86 388.7h0M221.9 380.4h0M131.4 296.3h0M224.4 297h0M171 292.4h0M227.5 374.2h0M209.8 397.3h0M219.8 317.9h0M218.6 318.9h0M226 377.3h0M158.3 423h0M184.6 299.5h0M104.5 295.6h0M167.4 288.3h0M81.4 338.9h0M176.5 417.1h0M84 339h0M216.6 315.7h0M179.4 408.3h0M207.6 395.3h0M62.6 327h0M212.4 311h0M262.5 370.1h0M140.5 409.7h0M102.2 403.7h0M76.8 359.4h0M173.3 410.9h0M115.5 402.1h0M98.7 386.7h0M210.7 390.9h0M172.8 296.2h0M197.2 297.5h0M200 302.7h0M203.5 306.6h0M172.9 290.1h0M146.5 414.5h0M202.7 409.9h0M79.2 359.9h0M191.8 405.9h0M119.9 299.1h0M71.7 347.8h0M196.3 300.5h0M102.1 388.7h0M97 302.4h0M165.8 409.4h0M132.3 404.2h0M160.7 414.1h0M91.9 386.9h0M203.1 307.3h0M252.6 349.9h0M110 305.3h0M139.3 297.1h0M81.6 367.7h0M231.2 325.8h0M134.2 403.7h0M247.3 338.4h0M163.7 288h0M80.6 370.5h0M163 295.3h0M213.8 314.9h0M133.8 406h0M181.8 291.6h0M170.2 293.8h0M248.7 345.4h0M102.6 391.2h0M228.3 378.6h0M256.2 334.4h0M205.9 398h0M151.7 291.4h0M83.7 330.4h0M70.7 347.3h0M196.1 299.2h0M99.6 305.3h0M162.1 418.8h0M202.3 406h0M197.6 299.7h0M204.7 307.1h0M127.7 401.7h0M224.4 322h0M141.5 284.4h0M179.3 294.8h0M145.3 293.4h0M161.8 295.7h0M137.5 418.5h0M235 374.4h0M233.6 368.5h0M84.3 305.6h0M111.2 408.2h0M221.5 304.8h0M245.8 341.2h0M216.2 317.1h0M63.9 325.9h0M105.6 403.8h0M117.9 407.2h0M186.8 410.8h0M190.1 404.6h0M101.8 396.1h0M183.9 407.5h0M111.9 394.9h0M130.1 404.7h0M186.2 410.1h0M131.5 298.2h0M138 286.1h0M159 293.9h0M181.7 411h0M126.3 298.2h0M211.6 391.2h0M208.2 309.6h0M82.5 385.9h0M247.4 340h0M231.2 321.3h0M171.5 293h0M231.4 372.1h0M81.8 344.5h0M194.3 405.8h0M92.4 317.3h0M190.6 300.7h0M123.5 401h0M260.5 356h0M203.1 398.8h0M181.4 297.8h0M117.9 405.5h0M244.5 379.8h0M199.5 402.4h0M146.8 295.5h0M194.2 302.7h0M71.2 340.8h0M224.1 314.6h0M122.8 412.4h0M185.9 420.1h0M91.5 313.7h0M219.9 382.4h0M75.2 350h0M165.8 412.7h0M214.6 397.4h0M185 292.5h0M189.1 301.5h0M247.2 342.4h0M201.7 300.3h0M207.5 295.2h0M253.2 367.2h0M101.7 393.5h0M124 297.8h0M206.1 308.8h0M74.3 367.8h0M92.6 316h0M129.5 299.4h0M153.4 414.9h0M206.2 300.1h0M172.9 410.5h0M85.7 328.6h0M259.4 354h0M207.3 401.1h0M205.7 304.4h0M151.9 296h0M213.8 391.6h0M168.8 295.3h0M214.5 314.9h0M197.8 401.3h0M165.2 295.1h0M201.9 306.7h0M77.8 361.9h0M270.9 349.2h0M165.7 295.1h0M191.5 300.3h0M80 340.9h0M92.5 381h0M247.2 338.7h0M252.5 344.8h0M94.5 404.9h0M261.6 362.3h0M180.9 414h0M205 401.8h0M146.4 407.1h0M228.6 378.9h0M193.2 405.4h0M162.2 295.9h0M167.6 296.7h0M254.2 327.1h0M91.7 310.8h0M106.5 394.3h0M80.1 323.4h0M207.6 396.2h0M232.7 369h0M193.8 407.5h0M117.9 411.6h0M154.4 294.5h0M241.6 330.7h0M78.2 347h0M216.9 305.2h0M175.1 412.6h0M249.8 347.6h0M120.3 400.6h0M195.7 301.1h0M230.3 374.6h0M148.1 289.9h0M151.6 413.3h0M163.4 411.9h0M166.1 295h0M206.9 395.5h0M199.7 300.9h0M227.8 396.9h0M118.3 297.9h0M238.8 331.5h0M152.7 407.7h0M159.8 417h0M110.5 300.7h0M73.6 365.2h0M241.4 334.5h0M231.4 370.9h0M96.9 305h0M137.1 291.8h0M83.4 323.5h0M146.1 415.4h0M234.3 370.3h0M226.5 320.3h0M196.8 401.7h0M222.9 382.1h0M77.3 366.1h0M214.1 388.9h0M253.7 338.9h0M115.5 409.9h0M116.2 299.8h0M114.8 398.9h0M153.4 293h0M101.9 303.4h0M146.8 409.7h0M152.6 287.1h0M204.3 302.1h0M112.5 296.1h0M214 314.7h0M64.6 315.3h0M90.9 318.3h0M154.5 296.3h0M106.3 296.8h0M257.1 339.8h0M86.4 335.1h0M180.4 295.3h0M75.2 320.3h0M123.3 300h0M255.2 358.1h0M122.1 294.6h0M169 410.4h0M95.8 316.3h0M193.2 407.1h0M187.1 417.2h0M223.9 314.6h0M202.1 400.6h0M112 400.4h0M76.1 353.5h0M142.9 296.7h0M242.2 326.9h0M154.2 410.3h0M69.3 332.7h0M165.9 410.9h0M98.9 304.3h0M193.6 407h0M166.8 295.2h0M182.6 297.9h0M186.9 293.7h0M214 389h0M148.9 291.9h0M151.8 285h0M201.7 300.4h0M107.3 303.2h0M76 380.2h0M180.5 409.7h0M212.2 402h0M231.1 323.2h0M195.2 302h0M119.5 302h0M82.5 330.1h0M139.5 408.2h0M102.4 390.3h0M104.9 392.6h0M175 286h0M238.5 382.8h0M159.7 291.9h0M207 397.5h0M190.6 406.8h0M245.9 336.4h0M125.1 408.2h0M98.7 394.9h0M144.5 276.6h0M245.7 339h0M79.1 364.6h0M220.5 320.6h0M138.5 413h0M86.1 381.2h0M107.9 394.6h0M160.5 294.7h0M154.2 409.8h0M263.7 342.3h0M209.6 396.9h0M98.2 405.8h0M189.3 403.9h0M113.4 414.4h0M71.1 351.9h0M123.8 299.2h0M255.2 357.1h0M125 401.7h0M158.1 413.4h0M230.9 369.6h0M124.1 405h0M85.5 372.5h0M249.7 379.1h0M244.7 337.2h0M121.5 406.3h0M178 415.8h0M148.7 410.5h0M76.9 363.1h0M235.3 323.6h0M94.3 316.4h0M132.6 299.1h0M235.8 317.1h0M163.3 293.4h0M209.4 393.1h0M172.7 278.8h0M171.6 294.2h0M91.2 385.6h0M108.5 395.3h0M90 322.6h0M143.2 291.5h0M225.2 314.5h0M181.8 409.4h0M90.9 381.7h0M169.5 419.6h0M149.7 294.8h0M80.8 366.8h0M83.8 374.2h0M172.3 409.9h0M74.5 374.4h0M207.2 399.1h0M155.9 408.7h0M124.6 294.5h0M118.3 299.7h0M214.2 308h0M189.6 299.2h0M132 298.3h0M79.3 344.6h0M221.5 316.6h0M157.8 408h0M207.9 395.6h0M233.9 368.2h0M136.9 297.4h0M170.7 418.1h0M191.2 300.4h0M118.6 399.4h0M198 296.9h0M159.2 413.1h0M207.8 398.6h0M150.3 292.6h0M122.7 402.6h0M184.7 298.3h0M84.1 379.8h0M99.7 386.4h0M228 382.3h0M233.8 329.1h0M143.2 291h0M147.3 407.7h0M170.3 282.6h0M145.7 293.7h0M140 292h0M167.2 410.1h0M235.5 377.7h0M79.5 362h0M153.9 290h0M82 389h0M123.4 400.7h0M138.2 297.5h0M208.1 292h0M187.6 298.8h0M197.3 297.4h0M254.6 359.7h0M197.5 301.7h0M164.5 290.6h0M193.9 402.7h0M136.5 405.6h0M151.6 410.6h0M250.2 363.5h0M168.4 287.3h0M176.5 291h0M174.1 413h0M84.7 335.6h0M248.1 369h0M246 334.6h0M81.6 343.6h0M130 294.7h0M119.8 403.3h0M204.2 301.7h0M220.3 382.9h0M206.9 307.7h0M208.7 413.5h0M232.2 370.6h0M231 370.1h0M134.3 404.2h0M200.7 411.2h0M82.9 377.8h0M215.2 303.7h0M204.4 401.2h0M75 350.9h0M106.3 394.5h0M166.1 293.8h0M84.5 336.9h0M133.3 405.2h0M153.6 407.3h0M255.2 355.2h0M105.6 395.8h0M78.9 352.2h0M118.1 299.2h0M158.1 294.6h0M88.2 374.7h0M220.5 316h0M192.5 404.9h0M84.5 337.5h0M228.8 373.1h0M64.4 363.9h0M233.1 326h0M219.4 383.5h0M170.4 291.3h0M112.3 399.8h0M125.3 279.7h0M202.2 304.7h0M156.5 296h0M94.5 316.6h0M228.7 392h0M214.6 312.7h0M214.6 313.7h0M156.8 294h0M231.3 381.3h0M72.3 364.1h0M186.9 423.5h0M137.6 405.6h0M218.1 383.5h0M129.4 298.7h0M115.3 398.7h0M113.9 397.9h0M139.6 286.3h0M182.3 409.8h0M154.8 407.7h0M74.2 351.1h0M205.7 397h0M170.6 292.2h0M214.1 398.6h0M256 363h0M234.3 386.7h0M225.5 322.4h0M81 343.7h0M207.9 305.1h0M192.1 404.7h0M73.3 357.8h0M211 392.5h0M227.6 381.1h0M76.8 343.6h0M154.7 412.4h0M194.2 297.2h0M199.5 402.2h0M207.2 308.1h0M103.4 392.5h0M153.9 410.4h0M234.6 371.9h0M222.6 385.1h0M192.5 289.9h0M142 406h0M216.8 409.1h0M130.6 402.8h0M153.5 413.8h0M78.6 318.3h0M162 411.8h0M201.9 305.4h0M180.9 294.6h0M247.8 343.2h0M174.6 290.4h0M211.1 309.4h0M151.2 292.5h0M96.2 311.8h0M165.2 410.7h0M233.9 368.7h0M80.2 344.9h0M229.8 326.6h0M214 389.3h0M241.5 374.7h0M257.6 342.3h0M239.5 367.1h0M194.7 295.6h0M91 322.7h0M209.6 309.4h0M179.4 413.8h0M221.5 307.6h0M226.7 324.7h0M72.1 374.4h0M168 419h0M164.3 295.3h0M178.8 296.2h0M104.6 304.7h0M84.8 375.2h0M202.4 301.4h0M89.1 375.8h0M173.6 295h0M145.6 406.5h0M80.8 327.3h0M212.7 389.5h0M167.2 414h0M174 294.2h0M225.1 382.9h0M230.9 316.7h0M120.7 399.6h0M79.3 324h0M93.7 300.1h0M68.6 357.8h0M88.7 377.2h0M141.6 408.2h0M249.7 343.5h0M175.5 411h0M220.1 387.6h0M217.6 315.1h0M69.9 350.7h0M101.1 298.9h0M98.9 385.9h0M71.4 352.1h0M76.5 313.7h0M73 335.6h0M143.9 413.7h0M92 386.9h0M53 320.9h0M71.2 343.5h0M124 408.1h0M80.7 384.5h0M72.4 352.4h0M115.5 295.3h0M88.6 388.7h0M87.6 308.2h0M87.5 376.2h0M93 409.3h0M79.2 345.3h0M119.8 291.6h0M90.2 316.7h0M116.4 397.5h0M72.6 327.7h0M96.9 308.3h0M78.5 348.3h0M78.8 396h0M102 390.3h0M40.2 372.9h0M72.1 372.4h0M61.5 297.1h0M52.6 348.3h0M80.9 314.6h0M83.6 333.1h0M152.3 289.1h0M61.9 363.6h0M75.3 311.8h0M41 334.7h0M78.7 318.7h0M88.8 323.2h0M71.4 350.2h0M79.7 361.2h0M77.4 293h0M69.8 289.6h0M67.3 352.9h0M115 302.3h0M123.7 402.1h0M86.7 378.3h0M133.6 298.2h0M87.3 318.7h0M78.2 350.5h0M82.4 364h0M78.7 341.6h0M85 379.1h0M77.4 357h0M80.4 344.7h0M77 408.9h0M113.5 405.3h0M88.5 382.1h0M78.5 367.7h0M90.5 382h0M75.1 298.5h0M71.8 363.2h0M74.6 299h0M59.8 340.2h0M80.7 304.7h0M64.7 354.2h0M82.7 329.4h0M82.6 367.2h0M107.2 304h0M101.3 404.9h0M78.2 311.9h0M45 327.8h0M49.4 360.1h0M37.5 355.3h0M54.6 321.5h0M57.4 376.2h0M106.5 394.6h0M89.5 381.5h0M83.9 383.9h0M118.5 300.8h0M86.2 324.6h0M62 343.9h0M60.3 370h0M101.3 304.4h0M67.7 345.5h0M67.5 310.2h0M64.1 401.9h0M51.3 310.4h0M86.2 312.5h0M69.1 303.5h0M65.7 366.5h0M78.1 365.3h0M110.1 397.4h0M72 350h0M130.2 405.1h0M99.1 394.4h0M61.5 342.9h0M117 286.7h0M96 292.5h0M88.6 324.1h0M80.3 291h0M53.1 340.9h0M85.9 321.9h0M80.7 360.9h0M82.5 379.9h0M86.5 330.2h0M104.9 303.6h0M103.2 394.5h0M83.4 370.7h0M82.4 385.8h0M71.3 369.8h0M133 298.7h0M72.3 345.7h0M49.3 365.8h0M38.2 345.8h0M78.3 333.2h0M49.1 316.1h0M113 396.8h0M60.2 384.8h0M107.3 413.4h0M81.4 367.2h0M109.2 290.9h0M49 316.4h0M87 318.2h0M98.5 309.7h0M91.2 322.7h0M66.3 307.5h0M69.1 329.5h0M91.1 384.2h0M67.8 392.6h0M77.5 354.3h0M76.3 358.2h0M65.9 403.2h0M88.6 377.3h0M93.7 391.3h0M125 402.4h0M59.1 299.9h0M81 328.8h0M102.2 388.6h0M98.1 309.8h0M82.9 387h0M67.9 371.4h0M86.5 385.5h0M97.7 315.3h0M97 311.2h0M99.5 386.9h0M57.5 317.1h0M136.4 291.2h0M95.6 417h0M101.8 390.9h0M270.8 333.8h0M235.6 368.1h0M213.7 314h0M271.7 338.4h0M226.7 313h0M263.6 360.2h0M245.3 369.2h0M262.2 321.7h0M244.7 383.1h0M229 322.7h0M258.1 364.2h0M248.1 368.1h0M241 306.4h0M257.5 343.2h0M224.1 322.4h0M261 360.1h0M234.5 374.7h0M244.3 366.1h0M233.2 388.9h0M238.3 327.5h0M236.1 372.5h0M219.4 313.7h0M224.2 322.7h0M256.8 324h0M256.8 353.6h0M243.8 319.6h0M236.7 328.5h0M257.1 360.1h0M263.5 350.2h0M260 337.2h0M262.2 347h0M240.8 371.2h0M227.5 388.8h0M252.5 330.2h0M255.5 342.8h0M253.3 333.8h0M242.5 328.9h0M246.3 341.5h0M234.9 381.1h0M232.1 318.5h0M221.7 312.4h0M217.7 318.4h0M250.9 335.5h0M241.9 336.9h0M246.8 340.5h0M223.2 381.4h0M234.4 368h0M265.3 349.9h0M186 297.8h0M260.5 341.9h0M272.8 354.1h0M250.1 321.8h0M208.5 300.3h0M260.3 346.3h0M204.4 284.3h0M209.1 305.5h0M217.8 317.2h0M289.1 362.9h0M243.1 337.3h0M264.3 340.2h0M275 335.1h0M255 352.2h0M252.9 345.1h0M229.5 296.8h0M251.6 347.7h0M228 373.9h0M234.6 326.1h0M226.8 385.3h0M223.9 379.7h0M256.3 367.3h0M250.1 329.9h0M256 369.5h0M232.5 370.9h0M261.1 374.4h0M242.8 370.6h0M246.9 374.4h0M263.1 336.2h0M263.6 342.3h0M233.6 326.5h0M261 345h0M258.9 337.9h0M250.8 339.5h0M264.2 351.5h0M210.7 401.2h0M216.4 391.6h0M238.1 324.9h0M250.5 365.8h0M262.5 363.5h0M273.4 353.4h0M263.1 367.5h0M272.3 357.2h0M232.9 326.3h0M228.9 400.1h0M234.3 369.5h0M261.6 356.1h0M248.7 341.9h0M210.5 310.7h0M254.9 341.5h0M253.4 331.9h0M237.8 375.3h0M280.2 361.4h0M233.4 381.1h0M221.6 382.6h0M257.2 364.3h0M271.7 339.4h0M223.4 392.4h0M223 314.7h0M253.8 339.9h0M248.1 369h0M229.6 371.4h0M246.7 334.6h0M221.5 317.5h0M262.2 327.3h0M223.8 316.9h0M240.7 332.1h0M260.9 350.3h0M254.2 367h0M254.2 346.7h0M271.8 371.1h0M265.7 359.1h0M253.7 356h0M258.7 357.4h0M214.5 308.5h0M258.5 350.8h0M240.4 367h0M222.5 382.7h0M269.2 348.4h0M261.2 367.5h0M231.7 385.9h0M228.5 309.3h0M142.5 432.1h0M200.3 406.6h0M129.1 415.2h0M198.7 288.8h0M207.5 402.2h0M140 405.1h0M72.1 394.2h0M192.5 294.5h0M155.6 280.8h0M149.6 409.9h0M230.2 383.5h0M230.7 305.7h0M174 296.6h0M179.1 287.3h0M184.6 298.2h0M154.4 411.5h0M124.7 292.7h0M186.9 284.8h0M117.4 296.8h0M150.6 293.7h0M154.2 287.4h0M223.6 379.3h0M234.4 326.3h0M175.7 285.8h0M125.4 402.4h0M269.8 351.9h0M103.7 283.4h0M125.1 293.3h0M155.2 284.4h0M162.2 292.9h0M243.7 308.9h0M245.7 307.8h0M222.1 320.3h0M15.3 290.4h0M26.4 281.5h0M38.4 285.5h0M56.2 280.3h0M63.1 277.3h0M54.9 288.9h0M65.6 289.5h0M71.6 296.9h0M62.2 302h0M52.8 306.2h0M55.4 311h0M61.4 310.5h0M69 307.1h0M73.3 320.2h0M46.9 325h0M29.8 328.4h0M67.3 326.4h0M90 290.4h0M100.6 294.7h0M107.4 291.2h0M111.6 289.5h0M115.9 286.6h0M85.2 293.5h0M76.7 292.6h0M29.8 328.6h0M28.6 334.1h0M46.4 325.2h0M49.4 329.3h0M45.2 339.7h0M55.4 345.2h0M31.5 348.6h0M47.7 353.2h0M20.5 360h0M19.3 364.4h0M34.9 363.9h0M41.8 357.6h0M28.6 372.4h0M36.6 372.4h0M52.8 306.8h0M55.4 311.1h0M67.3 326.4h0M61.4 340.9h0M60.5 349.4h0M73.3 320.5h0M28.9 372h0M49.8 379.9h0M48.6 390.5h0M65.2 383.3h0M71.1 392.2h0M65.2 404.9h0M74.2 409.2h0M76.2 411.8h0M84.8 397.3h0M93.3 410.9h0M95.3 422.8h0M110.3 425.4h0M124.8 441.2h0M83.9 386.2h0M110.8 425.3h0M124.9 441.2h0M137.1 452.4h0M130.7 418.5h0M139.7 422.2h0M151.5 424.7h0M159.2 423h0M165.4 448.5h0M169.3 440h0M176.9 429.8h0M176.9 423h0M184.6 419.2h0M193.6 425.3h0M200.7 425.9h0M206.3 415.1h0M208 435.4h0M204.9 454.7h0M227.3 425.3h0M325.2 380.1h0M318.2 363.1h0M304.6 360.9h0M283.3 364.3h0M291.8 362.6h0M293.5 381.3h0M271.4 371.1h0M269.3 375.7h0M252.6 377h0M254 385.2h0M254.3 400.6h0M259.1 407.7h0M240.3 405.2h0M245 411.1h0M231.3 413.2h0M222.3 411.1h0M243.2 429h0M227.9 424.8h0M248.9 438.7h0M242.4 391.5h0M273.2 458.5h0M249 439.3h0M243.4 428.7h0M205.1 455.1h0M208.4 435.6h0M282 304.8h0M257.3 311.1h0M293.9 315.3h0M273 320.8h0M279.4 327.6h0M300.2 331.2h0M286.2 331.5h0M290.2 339.2h0M305 346.4h0M304.7 354.2h0M284.5 352h0M317.8 363.1h0M304.5 361.4h0M283.2 364.4h0M291.7 362.7h0M266.6 329.3h0M264.9 345.2h0M270.9 370.7h0M269.5 375.8h0M207.6 276.4h0M203 279.8h0M197.4 281.5h0M188.9 284.9h0M224.7 281.5h0M236.8 280.7h0M243.1 287.5h0M233.2 285.8h0M219.5 286.6h0M211.5 290.1h0M233.7 290.9h0M236.2 298.1h0M282.3 304.9h0M294.2 315.3h0M257.6 311h0M272.9 320.7h0M244.8 308.8h0M202.2 289.5h0M136.9 256.8h0M167.1 270h0M173.4 271.7h0M170.3 275.8h0M162.9 280.5h0M148.8 279.2h0M141.2 281.4h0M125.1 281.4h0M120.5 284.7h0M156.1 285.6h0M175.1 287h0M179.3 287h0M188.3 284.7h0M111.5 289.8h0M107.3 291.5h0M90 290.3h0M100.5 294.4h0M115.8 287.3h0M131 288.1h0M146.3 282.2h0M85.3 293.2h0M55.3 306.2h0M69.8 308.8h0M76.2 307.1h0M74.3 313.5h0M79.6 314.8h0M30.1 331.4h0M56.3 332.3h0M62.5 332.5h0M44.2 335.5h0M57 354.3h0M65.9 353.7h0M46.1 358.1h0M51.9 358.8h0M38.2 363.5h0M50.6 366.8h0M63 366.1h0M62.7 369h0M64.7 373.3h0M67.9 342.8h0M67.9 346h0M73.7 344.7h0M67.2 376.7h0M72.3 377.6h0M70.4 367.7h0M95.1 397.5h0M91.1 394.3h0M139.1 416.7h0M112.7 410.3h0M197.9 416.6h0M227.5 425.6h0M214.7 415.5h0M236.3 402.7h0M224.3 403.8h0M231.5 395.5h0M219.2 396.3h0M222.2 408.2h0M289.9 355.6h0M277.2 357.2h0M267.2 340.3h0M263.8 368.7h0M257.3 365.8h0M259.6 335.5h0M256.1 326.5h0M258.6 350.8h0M242.3 350.8h0M134.3 282.7h0M85 293.6h0M141 288.6h0M146.7 289.7h0M160.4 288.6h0M151.1 292.3h0M167.8 291.7h0M188.2 284.5h0M224.4 292.3h0M257.4 311.6h0M241.1 312.8h0M210.3 299.1h0M185.1 291.5h0" stroke="#d3d3d3" stroke-width="3.4" stroke-linecap="round" fill="none"/>
<polygon points="134.6,358.4 135.4,357.1 138.2,357.1 139.8,354.6 141.7,353.4 143.7,354.8 145.4,353.9 147.0,352.2 149.5,350.7 151.2,349.3 153.9,349.2 155.3,350.9 155.0,354.1 154.0,355.9 154.4,358.4 153.0,359.8 151.3,359.0 150.0,360.1 148.2,362.0 148.3,365.3 147.0,367.3 143.8,368.0 141.3,367.1 140.3,365.0 137.4,363.5 135.8,361.9 134.9,360.0" fill="#0000ff" stroke="#0000ff" stroke-width="1.2" stroke-linejoin="round"/>
<g transform="translate(367.3 -242.3)">
<polygon points="78.8,352.6 80.5,342.0 84.6,335.0 88.4,323.8 98.0,312.0 107.6,304.6 126.8,298.8 145.0,296.0 165.0,295.0 189.0,300.0 208.4,308.8 220.0,318.4 233.4,328.0 245.0,337.6 254.5,351.0 256.4,363.0 246.8,365.0 233.4,369.2 225.7,378.8 214.2,388.4 206.5,398.0 189.2,405.7 175.0,411.4 160.0,410.0 150.0,407.6 130.0,404.0 113.4,398.0 100.0,388.4 88.4,378.8 80.0,365.0" fill="#e6e6e6" stroke="#e6e6e6" stroke-width="2" stroke-linejoin="round"/>
<path d="M190.5 294.8L170.8 313.5M156.8 287.3L152.7 302.1M165.5 295.9L174.4 327.8M85.7 310.3L138.1 315.1M85.7 310.3L120 314.4M150.1 406.6L159.5 384.4M212.1 303.9L191.2 329.9M169 288.4L179.1 310.9M246.8 377.4L206 364.7M240.8 333.8L184.1 330.6M191.4 414L192.5 390.4M214.4 395.1L191.6 386M115.3 297L118.8 325M218.4 313.9L188.5 331.6M171.1 294.8L180.9 316.9M171.1 294.8L178.4 307.2M115.6 398.2L113.6 389M150.7 409.7L134.7 398.1M184 298.3L204.1 313.5M184 298.3L172.3 323.4M114 411L106.8 384M271.2 358.2L224.5 359.4M197.3 301.6L185.4 326M141.6 290.3L146.5 327.7M146.8 407.1L160.5 379.8M177.7 293L169.4 308.1M202 288.5L175.3 327M211.2 390L197.2 388.4M87 383L157 383.6M232.2 329.2L222.1 347.8M134.2 403.9L165.7 381.9M209.2 393.8L195.8 375.3M187.4 406.6L177 385.1M187.4 406.6L190.5 399.3M102.7 408.6L132.7 375.6M102.7 408.6L120.6 374.6M198.4 301.7L182.9 327.6M80.8 350.4L104.9 325.5M118.5 401.5L137.7 374M216.3 389.1L176.4 386.5M112.2 395.7L106.1 357.6M217.2 384.7L186.2 373.4M95.6 397.9L111.7 369M87.4 385.2L137.3 379M101.3 292.1L134 315.2M93.8 383.4L93.5 359.4M78 375.7L114 358.3M256.1 357.4L202.5 370.4M213.3 388.4L200.2 383.4M224.6 378.6L209.8 369.4M224.6 378.6L194.9 384.7M227.2 377.9L192 367.8M197.2 299.5L191.6 326.8M197.2 299.5L201.6 314.4M146.7 282.6L163.5 321.1M164.9 294.3L164.5 311.3M195.1 300.5L176.4 314.8M97.8 312.8L116 335.7M120.7 300.8L147.5 317.5M250.4 342.6L219.2 344.4M132.2 402.9L140.4 378.1M203.9 398.5L192.5 366.8M119.8 399.3L139.9 379.4M90.5 314L139.5 330.1M195.3 292.1L196.9 325.6M90.4 381.6L126.5 370.5M123.8 409.1L136.8 397.1M149.8 296.8L157.2 327.1M169.2 296.5L166.3 318.3M232.9 316.6L237.1 344.2M77.4 350.1L119.9 372.7M76.4 333.9L97 369.7M252.3 363.7L223.1 352.9M119.1 403.1L159.7 381.6M119.1 403.1L143.9 399.1M194.7 411.9L191.9 398.1M126.3 291.3L153.4 326M124.4 403.1L143.8 374M119.7 410.4L130.3 391.4M96.2 301.7L134.7 335.2M107.9 296.6L93.4 340.6M212.6 313.4L188.7 335M212.6 313.4L180.2 324.1M227.3 375.4L237 356.7M85.4 381.8L127.5 376.7M85.4 381.8L135.7 370.8M263.6 351L204.5 340.5M103.4 293.6L131.6 311.6M91.4 321L124.2 318.1M116.7 296.7L164.4 303.6M119.9 400.7L139.9 392.1M119.9 400.7L142.5 385.2M82.3 363.2L126.1 357.8M110.7 394.5L133.5 380.5M229 325.5L225.6 334.3M207.1 302.3L188 325M85.3 370.6L126.6 346.7M143.1 297.5L138.4 322.9M192.2 285.3L195.5 330.9M219.8 318.5L196.8 337.1M110.8 396.3L112.3 377.8M132.2 403.2L138.2 396.8M222.3 313.9L174.5 327.6M256.5 343.1L231.4 358.1M149.3 293L149.9 311.6M168.2 283.4L181.8 309M168.2 283.4L157.8 319.1M129 407.5L135.3 386M169.4 419.3L163.3 397.8M77.7 358.1L112 318.4M238.8 324.5L205.6 334.9M83.2 339.6L124.2 324.4M199 304.1L191.6 321.8M166.5 291.7L170.7 316.8M182.7 296.2L178 318.4M234.8 371.7L211.3 373.6M160.8 413.2L170.3 383.8M163.6 411.3L141.7 394.6M160.8 295.8L172.1 312.4M160.8 295.8L171.7 318.2M90.7 306.8L131.1 315.6M179.7 410.8L196.5 395.8M131.1 290L162.9 326.5M243.4 379L229.8 365.3M190.4 301L179.5 306M113.3 415.2L148.3 399.4M84.6 333.8L119.6 321.3M150.1 407.4L163.3 404.1M76.5 354.2L102.6 367.5M76.5 354.2L124.3 344.7M202.5 298.4L196.5 317M171.5 410.1L171.3 402.6M189.6 299.8L175.4 324.3M209.9 308.5L207.9 334.6M209.3 396.1L183.3 376.3M264 366.5L229.1 342.4M154.3 420.8L135.5 395.2M79.3 367.7L124.4 337.2M84.3 339L124.6 387.4M77.1 327.6L128.2 341.9M77.1 327.6L104.3 333.5M122.6 400.7L103 378.6M125.4 291.1L113.6 317.7M115.5 296.9L119.5 333.5M70 322.2L105.2 358.6M208.9 310.2L213.3 345.8M208.9 310.2L200.7 313.2M215.5 316.3L201.6 328.1M211.8 393L191.4 382M211.8 393L199.6 375.4M87 297.3L107.6 317.5M133.1 294.4L118 326.7M148.1 414L136.9 389.1M148.1 414L162.6 384.1M136.6 297.2L139.6 327.2M168.9 291.8L161.5 315.5M226.5 322.9L197.5 318.7M140.6 297.7L143.8 327.2M205.2 401L192.1 369M263.3 364L210.8 339.8M226.8 324.4L212.1 329.2M216.6 387.8L209.4 370.3M192.3 301.7L198.6 314.8M201.8 402L176 401.3M201.8 402L181.3 381.3M80.1 371L112.6 352.1M140.5 293L138.4 306.2M111.5 304.3L125.8 328.4M140.5 410.2L129.4 373.7M248.2 335.9L201.6 341.4M271.9 351.5L223.2 331.3M228.6 387.9L190.8 372.2M235.1 325.7L209.3 329.2M237.1 332.5L195.6 333.9M259.7 348.6L212.1 354.5M79.2 336.6L114.9 326.1M79.2 336.6L123.2 343.8M220 314.6L205.9 326.5M75.2 348.3L129.6 368.3M130.7 407.8L153 391.7M237.7 367.7L204 385.3M183.6 289.9L195.6 324.6M105.9 298.1L115.6 316.4M213.2 400.9L185.1 372.9M159.3 413L154 385.4M265.3 368.2L214.4 341.8M94.9 296.6L138.3 323.8M238.7 326.1L221.4 335.3M73.1 335.9L123.2 338.1M73.1 335.9L124.7 341.3M177.9 296.1L179.4 324M215.6 393L190.3 370.4M205.7 305.8L189.9 316.4M205.7 305.8L189.1 326.7M97.8 310.3L121.4 333.4M162.1 286.3L173.4 305.4M99.4 304.2L149.6 327.4M239.2 368.1L212.4 362.3M230.2 325L201.5 335.1M153.6 290.8L152.6 304.2M216 386.4L205.6 376.4M199.8 300.4L189.5 324.6M199.8 300.4L200.1 325.6M179.4 298L188.2 314.3M179.3 298.2L178.9 318.8M197.9 304.3L200.7 312M107.2 397.9L136 385.2M107.2 397.9L111.9 371.1M119.7 295.9L150.3 313.1M95.5 315.6L132.7 335.4M194.1 300.9L177.7 321.1M128 401.8L132 394.9M89.6 382.5L110 333.1M145.5 411.6L160.9 385.9M145.5 411.6L123.5 387.5M168.7 410.3L139.3 397.8M191.1 407.6L179.7 389.6M139.9 295.5L163.3 314.7M71.6 379.5L131.1 369.5M220.8 383.1L198.3 367.3M82.7 334L134.4 334.2M256.2 348.8L243.6 361.9M131.3 297.9L152.9 325.8M167.6 411.9L180.5 390.7M170.1 295.4L173.5 313.7M170.1 295.4L174.2 305.4M98.5 304.8L126.9 328.1M92.5 389.9L117.4 345.4M92.5 389.9L131.9 375.2M155.5 408.3L162.3 384.5M243.6 336.5L204 333M128.9 404.7L133.3 366.5M78.3 380.2L98.4 370.9M229.6 376.6L192.5 378.7M233.4 325.2L212.4 353.6M174.7 410.9L184.9 383.3M64.6 352.2L118.6 390.8M64.6 352.2L115.6 346.6M79.4 348.7L107.2 354.9M260.1 350.5L229.9 343M205.4 400.7L194.4 379.1M85.2 330.4L105.5 332.3M131.8 290.7L146.4 303.4M131.8 290.7L130.2 316.5M185.3 291.5L192.5 314.8M161.3 409.2L161.4 387M243.7 366L212 350M111.9 397.1L164.3 392.4M199.4 407.6L193.7 364.7M203 303.2L193.9 328.1M181.6 408.5L176.1 402.4M181.6 408.5L157.2 385.4M77.3 355.3L105.4 356M146 297.4L151.1 324.4M83.7 369.2L115.1 373.5M218.3 312.9L176.5 328.6M87.7 374L133 396M81.7 333.3L110 331.4M178.7 424.9L161.7 378.6M256.8 362.5L206.6 383.1M215.7 392.7L198.1 376.7M249.9 335.1L216.1 348.9M249.9 335.1L194.4 333.1M142.2 293.1L155.2 313.6M220.7 317.1L202.5 330M147.5 295.1L148.3 306.8M163 410.9L153.8 389.7M138.2 284.5L146.4 306.2M189.4 406.4L188.6 390.6M189.4 406.4L179.7 397.2M176.9 409.9L164.9 394.6M176.9 409.9L188.1 387.7M236.5 329L224.9 348.9M158.5 288.5L164.4 322.7M81.9 315.5L97.8 346.5M171 411L161.7 384.5M87 308.6L120.2 327.6M236.7 371.2L209.4 357.9M233 378.4L197.2 361.5M207.7 300.1L171.1 317.4M99.1 304L128.8 314.7M172.3 293.5L166.6 305.8M195.9 405.3L171.5 392.9M81.2 323.4L118.9 341.5M193.3 301.3L193 314.2M182.6 412.9L189.7 395.1M182.6 412.9L162.8 384.6M177 296.1L169.3 301M167.4 291.6L178.9 324.4M174.5 294L184.6 309.5M136.3 406.2L157 378.1M113.5 402.1L106.7 378.8M75.4 351.5L118.2 336.1M72.5 354.5L104.7 377.5M72.5 354.5L90.1 341.7M121.1 403.7L149.1 376M111.6 400.5L146.9 378.8M226.6 304L223.9 346.4M230.4 310.3L206.9 324.5M230.4 310.3L199.8 341.4M139.2 297.5L144.5 322.5M87.5 325.5L109.1 335.8M87.5 325.5L121.7 337.8M100 309.8L126.2 333.6M95.3 295.3L107 318.9M211.4 393.7L204 385.6M134.4 422.7L164.3 394.8M195.9 293L182.1 318.7M195.9 293L176.2 309.4M246.6 331.7L192 338M138.1 290.7L150.3 317.5M138.1 290.7L144.8 316.5M222 309L188.3 333.9M133.4 287.7L146.9 307.8M88.2 374.8L128.3 333M192.3 300.4L203.1 313.4M82.4 364.6L116.5 358.6M251.7 341.9L210.9 340.3M252 340.1L203.5 346M223.5 381.7L212.3 373.6M115.8 283L149.2 307M202.7 306.3L198.7 329.4M114.1 302.8L132.7 315.6M114.1 302.8L149.3 325.5M100.4 307.2L110.6 326.9M163.1 421L168.4 392.4M68.5 386.9L93.9 365.1M82.3 339.6L128.3 365.8M96.8 390.1L97.7 340M163.6 292.2L182.5 315.5M141.4 294.1L166.1 313.9M139.5 408.4L136.3 386.9M204.3 296.6L176.5 321.1M164.8 412L157 384M163.4 410.7L159.9 385.2M171.6 410.4L170.6 398.6M190.8 291.3L171.8 308.3M166.2 413.2L156.2 384.9M212 310.1L188.2 306.3M188 406.7L192.9 396.4M181.9 411.8L168 384.9M119.5 300.3L150.2 322.8M119.5 300.3L154.3 310.4M154.4 288.1L179.6 323.7M190.3 296.6L188.3 309.5M181.5 297.7L173.5 308.1M88.9 304.3L137.9 326.5M82.5 309L123.8 311.6M169.2 289.9L159.5 325M184.2 414.2L187.6 389.2M135.4 406.9L136.1 388.6M181.8 298L159.1 309M139.5 409.2L177.1 391.5M215.5 391L199.8 370.3M252.4 333.9L215.8 342.2M252.4 333.9L195.8 329.1M92.9 384.4L139.9 372.8M143.2 297.4L156.7 300.9M143.2 297.4L151.6 314.9M177.6 286.3L180.2 326.4M222.5 388L202 366.8M166.8 296.2L181.2 315.8M166.8 296.2L138.8 307.4M148 406.3L157.8 403.8M212.2 304.1L188.4 322.2M140.1 412.2L152.7 377.4M133.5 295.2L126.4 322.3M181.4 285.8L187.6 307.9M77.1 340.1L105.8 370M77.1 340.1L124.1 345.8M89.3 316.6L115.3 349.3M175 284.5L167.6 317.9M129.6 278.6L142.6 328.3M129.6 278.6L143.9 310M230.5 322.5L196.4 339.4M137.4 287.4L165.7 309.7M190.2 301.4L186.3 333.2M175.8 418L177.5 380M193.4 302.9L193.5 319.1M103.4 389.4L136.9 394.5M186.8 414.7L181.8 376.2M186.8 414.7L169.8 400.3M213.8 304.7L197.2 335.4M173.9 296.7L158.4 323.7M108 305.2L149 320.4M108 305.2L127.9 331.5M152.4 407.6L157.1 399.2M131.7 404.1L129.8 394.7M131.8 413L145.3 379.9M202.1 296.9L190.7 324.2M107.9 299.5L101.6 332.6M107.9 299.5L132.5 331.1M139.1 293.2L148.6 314.2M169.2 411.1L135.1 387.1M86.7 326.5L108.4 329.9M85.6 374.2L89.4 361.3M104.5 406.1L118.8 391.8M188.3 405.8L196.2 369.6M188.3 405.8L188.8 381.5M143.4 406.1L139.2 397.3M143.4 406.1L155.6 384.8M130.8 297.7L140.7 305.3M147.5 415.3L145.5 396.5M168.8 295.3L184.8 324.8M253.1 354.5L224.8 341.1M80.2 366.5L104.3 362.2M80.2 366.5L115.3 378.1M209.4 304.3L198.4 326.9M90.3 396.8L119 388M73.5 363.6L110.4 343.3M192.3 282.2L170.1 323.5M70.2 359.2L104.4 343.2M175.2 286.4L164.4 317.5M238.2 367L207.8 351.5M174 295.8L180.1 311.8M219.4 397.9L179 401.4M216.8 387.8L202 373.5M210.3 394.5L199.8 373.2M183.8 296.4L184.2 324.3M241.1 333L191.7 337.6M241.1 333L214.8 366.1M166.9 294.6L160.3 302.3M162.4 409.8L155 389.2M177.4 419.1L169.9 382.7M192.4 302.1L202 313.4M257.5 328.6L203 320.8M91.1 383L112.7 385.7M81.9 341.8L121 339.5M244.4 330.7L188.5 335.2M109.4 407.7L112.4 388.3M199.5 400L177.7 381.7M80.9 353.4L113.4 351.3M199.8 299.6L176.2 303.8M239.7 323.2L237.6 339.7M221.3 382.5L203.8 369.9M205 305.2L177.8 326.7M196.1 303.1L196.8 322M196.1 303.1L168.4 312.2M83.9 368.9L129.9 362.1M83.9 368.9L116 361.8M217 386.5L217.8 371.4M150.8 292.9L167.3 322.2M127.7 405.5L106.4 354.9M188.1 300.9L168.5 320.4M180.2 418.3L174.6 403.4M202.6 417L172.6 398M170.7 290.7L189.7 324M108.8 299.1L122.6 328M178.1 292.8L167.7 307.9M78 304.1L116.9 362.5M270 355.1L231.8 346.9M91.1 398.2L103.2 369.1M146 408L147.7 387.6M144 407.7L152.6 381.4M144 407.7L149.8 383.8M109.8 394.4L102.6 352M109.8 394.4L138.8 391.2M82.9 341L108.7 342.6M181 285.1L163.9 304M86.7 336.1L124.3 327.6M224.9 394.3L214 373M133.7 293.3L160 312M133.7 293.3L156.5 307.8M137.5 406.9L160.4 377.9M181.9 407.4L171.8 387.4M89.4 328.1L110.2 331.5M145.2 409.7L123.5 392.8M145.2 409.7L138.7 393M188.2 295.9L164.2 313.1M188.2 295.9L173.8 312.3M268.1 359.9L205.5 337.8M268.1 359.9L239.4 351.1M139.4 295.8L167.4 305.8M132.2 414L158.9 386.2M218.5 313.8L225.9 332.5M106.6 304.9L105.4 322.5M204.1 305.9L189.6 325.7M204.1 305.9L173.9 308.5M211.9 313.4L176.4 324.7M106.4 392.7L120.3 386M129.2 300L127.5 308.3M230.8 321.1L214.7 347.8M230.8 321.1L203.2 337M232.8 370.4L199.2 337.9M134.6 403.9L155.3 379.9M145.2 291.7L143.4 306.4M160.5 295.9L137.3 316.8M87.8 378.3L122.1 371.1M221.5 389.5L215.6 366.6M131.8 414.5L152.2 384.3M170.5 295.3L147.5 305M170.5 295.3L166.2 322.8M83.7 381L94.2 341.8M170.1 410.8L167.8 385.2M160.2 411.5L168.7 384M242.8 332.3L232.5 348M166.2 293.3L165.2 315.7M166.2 293.3L162.9 321.9M186.9 405.3L161 385.6M115.6 410.7L144.1 388M166.9 291.3L162 310.4M81.1 378.8L119.2 358.3M73.8 351.9L98.5 336M73.8 351.9L121.9 344M153 409.1L161.9 398.4M132.1 283.3L169.8 303.7M141.8 418.1L119.3 385.6M172 295.1L166.6 321.2M120.1 415.6L135.8 390M218.6 396.1L201 388.7M138.1 405.1L148.4 379.6M148.5 297.1L134.8 310.1M159.2 409.4L166.4 381.6M83.4 327.5L93.3 338.9M83.4 327.5L138.4 329.6M244.2 335L205.9 341.3M211.4 407.8L178.5 404M138.4 405.4L153.3 399.3M149.4 410.3L145.9 397.3M69.4 318.7L129.3 334.2M73.9 374.2L105.8 363.2M73.9 374.2L128.6 369.2M200 403.9L180.2 390.5M185.4 295.8L178.5 325.2M196.1 301.6L178 317.1M181.3 408.2L179.2 378.3M105.7 307.1L104.2 323.1M84.4 320.8L123.9 315.3M249.2 332.5L203.7 320.3M105.4 399.2L129.9 381.9M77.1 342.8L119.1 328M80.2 361.1L105.5 363.7M80.2 361.1L100.4 343.7M135.4 409.5L144.8 395.7M249.7 339.7L238.3 355.9M124.9 402.7L171.7 395.1M166.8 412.2L177.9 401.5M166.8 412.2L155.7 397.7M213.1 391L195.5 384.4M196.7 300.2L193.3 325.2M221 381.1L192.8 390.4M221 381.1L194.7 366M148 296.3L157.9 311.3M187 407.7L173.4 397M269.2 348.3L214.3 343.1M80 332.5L122.7 326.5M115.2 299.2L156.7 310.4M118.9 410.8L143.6 396.9M126.2 402.3L144.6 383.7M224.9 321.8L204.4 327M203.2 305.9L214.2 324.9M240.5 335L213.1 323.2M157.9 414.7L150 396.2M243.9 338.6L184.2 311.2M169.1 290L152 327M86 388.7L117.6 373.1M221.9 380.4L205.7 383.4M131.4 296.3L147.7 312.1M224.4 297L212.6 359.3M171 292.4L164.1 304.5M227.5 374.2L213.8 377.4M209.8 397.3L190.5 369.9M219.8 317.9L197.5 330.8M218.6 318.9L203.4 315.6M226 377.3L209.3 360.7M158.3 423L166.3 389.1M158.3 423L176.7 384.4M184.6 299.5L166 313.9M104.5 295.6L142.1 302.2M167.4 288.3L168.6 310.1M81.4 338.9L133.6 337.2M176.5 417.1L185.9 390.7M84 339L130.6 363.7M216.6 315.7L194.6 328.9M179.4 408.3L175.4 388.7M207.6 395.3L196.7 380.2M62.6 327L96.1 344.7M212.4 311L227.1 358.7M262.5 370.1L218.5 375.7M140.5 409.7L139.9 396.7M102.2 403.7L100.9 379.6M76.8 359.4L124.9 364M173.3 410.9L157.1 403.4M115.5 402.1L143.8 385.5M98.7 386.7L142.9 376.3M210.7 390.9L190.3 392.3M172.8 296.2L155.2 321.3M197.2 297.5L193.9 320.9M200 302.7L195.1 322M203.5 306.6L202.7 332.4M203.5 306.6L183.3 315.4M172.9 290.1L181.1 307M146.5 414.5L155.9 401.8M202.7 409.9L198.5 378.4M202.7 409.9L184.9 373.9M79.2 359.9L114.1 360.7M191.8 405.9L189.1 376.9M119.9 299.1L127 337.3M71.7 347.8L124.4 362.7M196.3 300.5L177 316.9M196.3 300.5L157.8 316.1M102.1 388.7L125.3 381.8M97 302.4L129 335.7M165.8 409.4L188.8 390.3M132.3 404.2L154.8 395.9M160.7 414.1L149.5 396.5M91.9 386.9L116.9 346.9M203.1 307.3L206.1 315.4M203.1 307.3L207 317.6M252.6 349.9L192.2 369.5M110 305.3L124 321.4M139.3 297.1L144.8 328.4M81.6 367.7L111.5 341.4M231.2 325.8L197 331.7M231.2 325.8L209.9 337.4M134.2 403.7L166 391M247.3 338.4L219.1 336.3M247.3 338.4L218.3 344.5M163.7 288L156.6 315.1M80.6 370.5L124.4 370.2M163 295.3L149.1 325.9M213.8 314.9L176.6 305.7M133.8 406L158.1 396.4M181.8 291.6L149.8 325.9M170.2 293.8L171.5 316.8M248.7 345.4L219.7 342.5M102.6 391.2L121.4 383M102.6 391.2L104.4 376.8M228.3 378.6L200.1 388.7M228.3 378.6L201.4 369.1M256.2 334.4L224.7 349.3M205.9 398L185.3 384.1M151.7 291.4L152.9 304.3M83.7 330.4L90 354.8M70.7 347.3L94.4 346.6M70.7 347.3L92.4 353.3M196.1 299.2L187.9 331.6M99.6 305.3L133.6 326M162.1 418.8L161.3 397.8M162.1 418.8L148.5 383M202.3 406L199.4 370.1M197.6 299.7L176.1 310.6M204.7 307.1L202.7 325.2M127.7 401.7L131.2 380.4M224.4 322L204.9 346.6M141.5 284.4L137.7 327.7M179.3 294.8L176.4 311.2M145.3 293.4L157.1 307.5M161.8 295.7L163.4 325.5M137.5 418.5L149.3 379.5M235 374.4L221.4 362.6M233.6 368.5L244.8 353.1M84.3 305.6L148 317.7M111.2 408.2L134.5 397.4M221.5 304.8L189.9 334.3M245.8 341.2L208.1 347.9M216.2 317.1L200.8 322.4M216.2 317.1L190.7 335.4M63.9 325.9L141.4 322.5M63.9 325.9L126.3 366.1M105.6 403.8L149.9 384.7M105.6 403.8L138.3 386.7M117.9 407.2L109.2 373.2M186.8 410.8L174 379.8M190.1 404.6L181.3 383.9M101.8 396.1L143.6 399.5M183.9 407.5L183.1 400.3M183.9 407.5L199.3 383.9M111.9 394.9L124.4 381.6M130.1 404.7L152.1 383.2M186.2 410.1L185.4 387M131.5 298.2L124.4 326.8M138 286.1L126.6 309.5M159 293.9L164.2 306.1M181.7 411L183.3 386.6M126.3 298.2L144.9 304.6M211.6 391.2L246.9 358.9M208.2 309.6L210 324.8M82.5 385.9L126 374.3M247.4 340L221.7 370.7M231.2 321.3L218.1 356.7M171.5 293L170.5 319.9M231.4 372.1L231.1 363.5M231.4 372.1L220.9 335.1M81.8 344.5L93.9 356.2M194.3 405.8L177.5 380.6M92.4 317.3L143.8 329.3M190.6 300.7L182.9 323.9M190.6 300.7L194.3 313M123.5 401L150.1 376.2M260.5 356L211 367.4M203.1 398.8L184.2 377.9M181.4 297.8L166.1 325M117.9 405.5L143.9 376.9M244.5 379.8L223.3 334.2M199.5 402.4L205.8 379.9M146.8 295.5L151.2 306.9M194.2 302.7L191.3 317.3M71.2 340.8L124.8 374.3M224.1 314.6L200.2 332.4M122.8 412.4L149.8 378.4M185.9 420.1L178.6 400.4M91.5 313.7L138.4 321M219.9 382.4L194.2 375.8M75.2 350L123.8 355.9M75.2 350L99.6 368.1M165.8 412.7L165.8 401.8M165.8 412.7L176.3 381.8M214.6 397.4L194.2 397.1M185 292.5L194.4 317.3M189.1 301.5L182.7 307.4M247.2 342.4L226.1 344.2M247.2 342.4L200.4 341M201.7 300.3L176.5 304M207.5 295.2L200.7 329.4M253.2 367.2L213.8 356M101.7 393.5L141.2 372.3M124 297.8L123.2 311.1M206.1 308.8L202.6 317.9M206.1 308.8L184.3 314.9M74.3 367.8L91.9 366.2M92.6 316L129.2 327.7M129.5 299.4L154 302.4M153.4 414.9L143.4 383M206.2 300.1L193.2 331.7M172.9 410.5L163 384.5M85.7 328.6L119.5 339.4M259.4 354L206.2 343.8M207.3 401.1L194.2 391.7M205.7 304.4L200.9 323.2M151.9 296L155.4 323.8M151.9 296L170.6 311.2M213.8 391.6L186.2 374.2M168.8 295.3L173.6 312.8M214.5 314.9L199.7 320.3M197.8 401.3L176.8 376.9M165.2 295.1L167.5 322.6M201.9 306.7L171.2 325.6M201.9 306.7L188.3 316.9M77.8 361.9L104 355.5M270.9 349.2L215.6 369.1M165.7 295.1L155.3 325.2M191.5 300.3L191 308.4M80 340.9L97.6 352.4M92.5 381L96.2 339M92.5 381L117.9 343.2M247.2 338.7L236 363.2M247.2 338.7L205.4 331.8M252.5 344.8L200.6 329.3M94.5 404.9L119.7 378.1M261.6 362.3L198 364M180.9 414L181.4 400.3M205 401.8L190.7 397.9M205 401.8L197.6 395.7M146.4 407.1L152.6 397.4M228.6 378.9L220.7 356.2M193.2 405.4L160.5 389.3M162.2 295.9L158 316.5M162.2 295.9L150.1 317.1M167.6 296.7L165.2 326.4M254.2 327.1L204.4 346.6M91.7 310.8L98.9 329M106.5 394.3L124.4 384.1M80.1 323.4L110.2 335.9M207.6 396.2L192.1 395.7M207.6 396.2L197.9 364.4M232.7 369L219 357.8M193.8 407.5L189.2 369.2M193.8 407.5L188 384.6M117.9 411.6L151.7 382.6M154.4 294.5L171.7 316M241.6 330.7L216.4 347.6M78.2 347L120.6 342.6M216.9 305.2L218.3 339.8M175.1 412.6L177.5 377.7M249.8 347.6L217.8 362.5M120.3 400.6L148.7 379.8M195.7 301.1L193.8 309.9M230.3 374.6L221.1 363.8M148.1 289.9L152.7 307.5M151.6 413.3L163.5 380.2M163.4 411.9L162.5 389.8M166.1 295L158.2 326M206.9 395.5L187.1 373.6M199.7 300.9L181.7 322.2M227.8 396.9L205.3 372.4M118.3 297.9L133.4 308.1M238.8 331.5L206.5 323.8M152.7 407.7L162.3 378.7M159.8 417L152.2 393.8M110.5 300.7L140.9 326.2M110.5 300.7L105 318.7M73.6 365.2L113.8 362.7M241.4 334.5L188.5 331.8M231.4 370.9L201.8 374.6M96.9 305L133.7 315.6M137.1 291.8L123.2 307.1M83.4 323.5L122.7 346.3M83.4 323.5L100.4 343.9M146.1 415.4L145.6 385.3M234.3 370.3L218.7 375.8M226.5 320.3L213.4 345.2M196.8 401.7L176.9 378.9M222.9 382.1L191.9 382.2M77.3 366.1L129.6 370.7M214.1 388.9L187.9 389.3M253.7 338.9L230.8 341.1M115.5 409.9L151.5 396.4M116.2 299.8L117.2 309M116.2 299.8L128.8 344.4M114.8 398.9L145.3 384.3M153.4 293L155.4 304.2M101.9 303.4L136.8 322.2M146.8 409.7L155.5 386.2M152.6 287.1L156.6 308.7M204.3 302.1L187.8 319.9M112.5 296.1L145.8 323.6M214 314.7L202.9 343.6M64.6 315.3L132.1 317.4M90.9 318.3L91.8 353.8M154.5 296.3L135.3 318.6M106.3 296.8L139.8 308.6M257.1 339.8L201.5 341.5M86.4 335.1L99.5 346.6M180.4 295.3L167.8 307.6M75.2 320.3L114.2 328.9M123.3 300L131.5 323.2M255.2 358.1L204.3 368.4M122.1 294.6L148.1 314.5M122.1 294.6L127.5 319.3M169 410.4L169.4 391.1M95.8 316.3L107.3 315.7M193.2 407.1L189.7 377.1M187.1 417.2L184.8 374.3M223.9 314.6L203.2 326.7M202.1 400.6L182.1 393.8M112 400.4L161.2 383.6M112 400.4L132.8 380.1M76.1 353.5L91.6 342.3M76.1 353.5L122.4 390.1M142.9 296.7L150.9 309.9M242.2 326.9L222.7 337.3M242.2 326.9L201.4 329.7M154.2 410.3L166 404.2M69.3 332.7L128.4 362M165.9 410.9L180.5 398.4M98.9 304.3L115.3 316.5M193.6 407L203.9 380.5M166.8 295.2L169.8 303.5M166.8 295.2L166 314.9M182.6 297.9L186.2 333.2M182.6 297.9L168.2 325.3M186.9 293.7L167.4 301.2M214 389L190.3 369.7M148.9 291.9L183.1 322.1M151.8 285L144.4 310.4M201.7 300.4L168.6 312M107.3 303.2L120.5 324.6M107.3 303.2L129.7 326.5M76 380.2L132.5 374.8M180.5 409.7L180.7 390M212.2 402L198.5 370M231.1 323.2L184.3 330.6M195.2 302L180.2 309.9M119.5 302L124.2 325.2M82.5 330.1L114.9 351.5M139.5 408.2L158.5 402M102.4 390.3L115.6 351.2M104.9 392.6L135.4 378.5M175 286L172.3 313.7M238.5 382.8L205.6 358.1M159.7 291.9L165.9 308.6M207 397.5L182 388.1M190.6 406.8L194.7 381.5M245.9 336.4L203.3 334.9M125.1 408.2L130.6 391.3M98.7 394.9L146.9 382.6M144.5 276.6L129.2 306.1M144.5 276.6L124.6 318.3M245.7 339L197.6 341.6M79.1 364.6L113.8 331.9M220.5 320.6L224.5 353.5M138.5 413L140.4 395.3M86.1 381.2L90.5 359.8M107.9 394.6L118.2 367.4M160.5 294.7L164.8 311.9M154.2 409.8L159.7 395.7M154.2 409.8L152.3 380.3M263.7 342.3L213.8 348.1M209.6 396.9L216.7 369.6M98.2 405.8L141.7 388M189.3 403.9L179.1 387.8M113.4 414.4L141.9 392.4M113.4 414.4L151.1 388.7M71.1 351.9L124.8 345M123.8 299.2L130.7 304.4M255.2 357.1L244.5 358.1M125 401.7L147.3 392.4M158.1 413.4L161.1 384.8M230.9 369.6L209.5 354.8M124.1 405L138.1 380M85.5 372.5L104 343.7M249.7 379.1L199.4 371.6M244.7 337.2L211.9 329.9M121.5 406.3L121.3 389.7M178 415.8L210.4 377M148.7 410.5L140.7 389.6M76.9 363.1L143.3 378.2M235.3 323.6L208.1 323.4M235.3 323.6L201.3 332.7M94.3 316.4L117.3 312.4M132.6 299.1L136.1 313.9M235.8 317.1L192 326.6M163.3 293.4L181.5 327.3M209.4 393.1L197.5 365.4M172.7 278.8L170.7 316.4M171.6 294.2L147.6 326.8M91.2 385.6L135.1 374.5M91.2 385.6L147.9 386.7M108.5 395.3L113.8 361.5M90 322.6L112.5 336.4M143.2 291.5L142 307.6M225.2 314.5L238 344.9M225.2 314.5L188.6 322.7M181.8 409.4L188.5 397.3M90.9 381.7L109.1 383.1M169.5 419.6L178.2 390.4M149.7 294.8L152.1 321.7M80.8 366.8L122.7 349.9M83.8 374.2L127.4 361.8M172.3 409.9L167.7 389.9M74.5 374.4L104.8 347.8M207.2 399.1L189.3 368.4M155.9 408.7L142.2 384.3M124.6 294.5L119.4 320.8M118.3 299.7L144.8 323M214.2 308L183.2 309.4M189.6 299.2L185.6 326.4M132 298.3L138.1 308.3M79.3 344.6L112.2 353.4M221.5 316.6L180.6 328.9M157.8 408L154.3 394.6M207.9 395.6L205.7 376.1M233.9 368.2L220.4 328M233.9 368.2L231.7 361.3M136.9 297.4L144.5 309.1M170.7 418.1L178.9 382.6M191.2 300.4L192.2 314.6M118.6 399.4L119.5 377.3M198 296.9L179.9 318.5M159.2 413.1L159.4 389.3M207.8 398.6L184.4 382.8M150.3 292.6L152.4 327.3M122.7 402.6L156.2 384.2M184.7 298.3L169.5 320.9M84.1 379.8L124.3 383.8M99.7 386.4L154 391.1M228 382.3L178 380.1M233.8 329.1L221.5 329.3M143.2 291L154 325.3M143.2 291L156.8 309.1M147.3 407.7L143.1 396.9M170.3 282.6L170.8 301.2M145.7 293.7L151.4 312.5M140 292L136.3 325.3M140 292L170.2 320.9M167.2 410.1L157.2 402.1M235.5 377.7L214.8 372.2M79.5 362L102.8 377M153.9 290L166.5 321.6M82 389L111.6 378.7M123.4 400.7L137.9 370.3M138.2 297.5L154.8 313.9M208.1 292L198.9 314.2M187.6 298.8L149.9 303M187.6 298.8L200.1 323.3M197.3 297.4L171.9 303.5M254.6 359.7L215 349.8M197.5 301.7L174.8 321.1M197.5 301.7L178.6 326.1M164.5 290.6L165.4 311.1M164.5 290.6L166.6 322M193.9 402.7L165.3 386M193.9 402.7L189.8 376.8M136.5 405.6L143.6 387.6M151.6 410.6L164.3 381.6M250.2 363.5L199.2 367M250.2 363.5L200.3 336.3M168.4 287.3L153.5 325.3M176.5 291L146.3 313.5M176.5 291L169.3 325.8M174.1 413L183.9 381.8M84.7 335.6L98.4 324.5M248.1 369L234.9 364M246 334.6L200 322.9M81.6 343.6L95.9 345M130 294.7L139.4 303.5M119.8 403.3L148.7 380M204.2 301.7L194.7 329.1M220.3 382.9L196.3 370.3M220.3 382.9L203.6 383.8M206.9 307.7L184 328.4M208.7 413.5L207.1 387M232.2 370.6L215.8 369.1M232.2 370.6L229.6 363.2M231 370.1L198.8 361.5M134.3 404.2L139.1 386.2M200.7 411.2L181.1 394.6M82.9 377.8L154.1 397.3M215.2 303.7L188.3 312.3M204.4 401.2L199.9 383.2M204.4 401.2L190.6 373M75 350.9L132.2 333.5M106.3 394.5L109.9 380.8M166.1 293.8L173.3 322.8M84.5 336.9L99.8 323.3M133.3 405.2L140.8 384.8M153.6 407.3L161.9 385.1M255.2 355.2L194.4 320.4M105.6 395.8L123.4 376.9M78.9 352.2L127 370.9M118.1 299.2L134.8 327.6M158.1 294.6L165.5 319.6M88.2 374.7L124.9 376.9M220.5 316L196.9 324.9M192.5 404.9L185.4 374.6M84.5 337.5L126.2 351.9M228.8 373.1L222.8 356.3M64.4 363.9L128.3 383.2M233.1 326L190.4 336M219.4 383.5L198 375M170.4 291.3L176.5 319.8M112.3 399.8L153.4 397.7M125.3 279.7L143.2 320.4M202.2 304.7L175.4 322.4M156.5 296L161.7 313M94.5 316.6L100.2 324.4M94.5 316.6L124.2 350.5M228.7 392L204.5 382.8M214.6 312.7L191.4 327.2M214.6 313.7L200.8 325.1M156.8 294L160.9 317M231.3 381.3L201 365.1M72.3 364.1L93 370.2M186.9 423.5L176.4 381.8M137.6 405.6L136.9 386.3M218.1 383.5L197.3 360.7M218.1 383.5L244.5 352.9M129.4 298.7L157.8 323.1M115.3 398.7L131.2 388.6M113.9 397.9L111 355.1M139.6 286.3L134.8 305.7M182.3 409.8L176.2 377.5M182.3 409.8L181.9 390.3M154.8 407.7L147.9 394.7M74.2 351.1L117 350.4M74.2 351.1L120.8 356M205.7 397L203.9 391.8M170.6 292.2L157.4 317.8M214.1 398.6L186.1 393.9M256 363L217.3 364.1M234.3 386.7L203.3 363.7M225.5 322.4L204.9 325.2M81 343.7L100.8 377.7M207.9 305.1L184.4 319.5M192.1 404.7L172.3 389.4M192.1 404.7L181.8 385.8M73.3 357.8L100.6 370.9M211 392.5L189.7 375.1M227.6 381.1L227.9 357.7M227.6 381.1L204.1 367.9M76.8 343.6L139.4 331.7M154.7 412.4L167.3 393.2M194.2 297.2L214.5 325.4M199.5 402.2L166.9 396M207.2 308.1L195.8 332.7M207.2 308.1L185.9 332.9M103.4 392.5L92.5 368M153.9 410.4L130.3 395.5M234.6 371.9L240.8 358.6M222.6 385.1L212.2 374.9M192.5 289.9L209.9 318.2M192.5 289.9L187.9 308M142 406L160.6 385.8M216.8 409.1L188.2 397.4M130.6 402.8L114.6 383.6M153.5 413.8L169 400.9M78.6 318.3L129.9 341.7M162 411.8L147.5 385.7M201.9 305.4L188.5 322.7M180.9 294.6L182.6 328M247.8 343.2L212 359.4M247.8 343.2L207.8 326.6M174.6 290.4L178.5 325.5M211.1 309.4L189.5 332.4M151.2 292.5L159.6 323M96.2 311.8L96.8 339.1M165.2 410.7L160.5 379M233.9 368.7L208.4 358.8M80.2 344.9L108.2 339.5M229.8 326.6L201.7 342.6M229.8 326.6L196.8 328.3M214 389.3L212.1 380.9M241.5 374.7L205.4 367.4M257.6 342.3L235.8 359.3M239.5 367.1L214.7 361.8M194.7 295.6L196.2 315.9M91 322.7L107.9 340.7M209.6 309.4L185 329.1M209.6 309.4L193.8 335.2M179.4 413.8L182 376.5M221.5 307.6L206.6 326.6M221.5 307.6L224.1 328.2M226.7 324.7L216.8 350.5M72.1 374.4L122.4 360.1M72.1 374.4L108.8 354M168 419L175.4 389.6M164.3 295.3L180.2 318.8M164.3 295.3L159.8 324.4M178.8 296.2L183.1 313M104.6 304.7L116.7 341.6M84.8 375.2L119.9 379.6M202.4 301.4L170.1 326.5M89.1 375.8L126.7 383.7M173.6 295L152 302.4M145.6 406.5L175.4 402.4M80.8 327.3L129.1 329.8M212.7 389.5L182.7 390M167.2 414L181.7 400.5M174 294.2L154.9 318.3M225.1 382.9L202.7 372.9M225.1 382.9L213.9 377.7M230.9 316.7L203.6 325.9M120.7 399.6L132.4 378.4M79.3 324L113.1 359.2M93.7 300.1L130.6 330.3M93.7 300.1L134.7 317.3M68.6 357.8L120.8 349.2M88.7 377.2L106.5 376.5M88.7 377.2L114.9 356.8M141.6 408.2L138.6 397.5M249.7 343.5L207.5 338.3M175.5 411L174.8 390.3M175.5 411L177 390.7M220.1 387.6L192.5 380.8M217.6 315.1L222.9 334.9M69.9 350.7L113.1 364.1M101.1 298.9L128 315.3M98.9 385.9L113.2 370.3M71.4 352.1L103.6 351.6M76.5 313.7L110.4 339.8M73 335.6L100 345.5M143.9 413.7L154.6 388.9M92 386.9L96.3 369.1M53 320.9L124.1 328.7M71.2 343.5L90.9 359.4M124 408.1L135.4 399.1M80.7 384.5L110.3 375.7M72.4 352.4L96.3 350M115.5 295.3L125.3 305.4M88.6 388.7L124.1 375.6M87.6 308.2L124.1 329.9M87.5 376.2L99.6 351.8M93 409.3L102.7 377.5M79.2 345.3L99.9 342.5M119.8 291.6L129.9 307.9M90.2 316.7L120.8 329.9M116.4 397.5L120 390.5M72.6 327.7L100 325.9M96.9 308.3L134.4 318.8M78.5 348.3L112.3 350M78.8 396L122.7 383.2M102 390.3L107.5 378.1M40.2 372.9L111.3 360.1M72.1 372.4L99.9 363.1M61.5 297.1L113.7 317.5M52.6 348.3L108.6 353.6M80.9 314.6L117 311.5M83.6 333.1L115 345M152.3 289.1L145.6 309.6M61.9 363.6L105.8 371.5M75.3 311.8L102.1 323.7M41 334.7L92.5 344.2M78.7 318.7L98.1 334M88.8 323.2L118.4 333.5M71.4 350.2L110.1 346.4M79.7 361.2L92.2 363.7M77.4 293L129.3 322.4M69.8 289.6L130 322.4M67.3 352.9L102.1 337M115 302.3L134.1 317.1M123.7 402.1L149 390.1M86.7 378.3L107.9 377.4M133.6 298.2L150.5 312.1M87.3 318.7L119.7 332.3M78.2 350.5L102.6 347.9M82.4 364L87.9 355.4M78.7 341.6L111.9 342.4M85 379.1L112.2 368.7M77.4 357L108.3 360.1M80.4 344.7L95.5 354.4M77 408.9L140 383.5M113.5 405.3L138.7 388.3M88.5 382.1L111.5 385.2M78.5 367.7L113 361.6M90.5 382L107 376.7M75.1 298.5L110.8 322.5M71.8 363.2L90.8 351.6M74.6 299L119 310.6M59.8 340.2L98.1 336.1M80.7 304.7L107.7 321.2M64.7 354.2L96.6 347.5M82.7 329.4L113.2 333.2M82.6 367.2L107.7 358.9M107.2 304L139.9 316.3M101.3 404.9L130.5 391.5M78.2 311.9L110.9 331.9M45 327.8L101.6 337.4M49.4 360.1L103.6 353.9M37.5 355.3L113 373.6M54.6 321.5L120 333.4M57.4 376.2L110.5 344.9M106.5 394.6L133 380.8M89.5 381.5L111.1 368.9M83.9 383.9L110.8 379.2M118.5 300.8L143.5 305.6M86.2 324.6L105.3 326.7M62 343.9L98.7 340.2M60.3 370L105.5 362.5M101.3 304.4L126.4 305.5M67.7 345.5L88.3 360.1M67.5 310.2L116.7 329.4M64.1 401.9L99.4 373.4M51.3 310.4L107.9 336.5M86.2 312.5L101.7 333.3M69.1 303.5L116.8 333.9M65.7 366.5L111.1 361.4M78.1 365.3L105.8 370.2M110.1 397.4L111.6 380.7M72 350L106.4 356.9M130.2 405.1L134.2 387.6M99.1 394.4L127.6 382M61.5 342.9L109.8 349.8M117 286.7L144.2 309.5M96 292.5L120.2 325M88.6 324.1L105.3 330.3M80.3 291L125.7 320.7M53.1 340.9L91.1 349M85.9 321.9L112.6 336.3M80.7 360.9L106.1 339.3M82.5 379.9L105.7 366.8M86.5 330.2L115.8 337.4M104.9 303.6L113.1 310.2M103.2 394.5L130.3 385.3M83.4 370.7L106 365.5M82.4 385.8L108 384.8M71.3 369.8L101.9 368M133 298.7L150.5 318M72.3 345.7L89.2 346.8M49.3 365.8L115.3 363M38.2 345.8L111.1 342.7M78.3 333.2L103.9 335.2M49.1 316.1L97.1 341.4M113 396.8L112.9 389M60.2 384.8L115.7 384.1M107.3 413.4L136.2 390.3M81.4 367.2L103.9 347.5M109.2 290.9L141.9 314M49 316.4L115.2 335.2M87 318.2L99.4 326.6M98.5 309.7L135.1 318.5M91.2 322.7L113.1 362.1M66.3 307.5L100.9 326.1M69.1 329.5L99.9 335.3M91.1 384.2L113.6 387.8M67.8 392.6L95.4 373.8M77.5 354.3L100.9 357.2M76.3 358.2L113.4 350.8M65.9 403.2L131 389.6M88.6 377.3L107.6 372M93.7 391.3L112.9 374.8M125 402.4L142.2 383.1M59.1 299.9L127.5 316.1M81 328.8L99.9 322.2M102.2 388.6L129.7 377M98.1 309.8L118 314.6M82.9 387L111.6 373M67.9 371.4L94.8 365M86.5 385.5L113.7 384M97.7 315.3L107 333.2M97 311.2L118.1 323.6M99.5 386.9L116.5 370M57.5 317.1L97.7 329.4M136.4 291.2L147.1 305.1M95.6 417L123 394M101.8 390.9L128 377M270.8 333.8L208.3 330.3M235.6 368.1L216.4 364.1M213.7 314L205.7 320.4M271.7 338.4L241.5 353M226.7 313L199.4 332.1M263.6 360.2L236.3 356.2M245.3 369.2L206 371.9M262.2 321.7L216.3 342.8M244.7 383.1L220.6 368M229 322.7L213.6 323.3M258.1 364.2L215 368M248.1 368.1L242.1 354.9M241 306.4L214.8 338.6M257.5 343.2L223 359.3M224.1 322.4L195.7 328.4M261 360.1L238.9 354.7M234.5 374.7L226.2 352.1M244.3 366.1L235.2 362.3M233.2 388.9L206.9 378.3M238.3 327.5L212 340M236.1 372.5L217.5 370.2M219.4 313.7L210.9 329.8M224.2 322.7L211 325M256.8 324L235 341.9M256.8 353.6L233.9 350.9M243.8 319.6L207.9 316.9M236.7 328.5L227.2 335.2M257.1 360.1L225.2 368.4M263.5 350.2L214.1 336.9M260 337.2L208.5 336.3M262.2 347L224.4 341.6M240.8 371.2L221.3 363.8M227.5 388.8L201.2 372.9M252.5 330.2L223.4 361.7M255.5 342.8L234.6 362.4M253.3 333.8L223.8 340.4M242.5 328.9L230.1 336.8M246.3 341.5L246.1 356.9M234.9 381.1L208.8 380.6M232.1 318.5L202.6 333.8M221.7 312.4L195 317.6M217.7 318.4L218 329.5M250.9 335.5L224 339M241.9 336.9L218.4 331.7M246.8 340.5L221.4 340.8M223.2 381.4L216.6 367M234.4 368L211.5 369.3M265.3 349.9L230.7 356.3M186 297.8L177.2 316M260.5 341.9L232.7 342.6M272.8 354.1L237.5 348.9M250.1 321.8L221.7 332.8M208.5 300.3L201.4 318.5M260.3 346.3L223.2 350M204.4 284.3L185.9 316.8M209.1 305.5L189.1 315.5M217.8 317.2L199.7 324.7M289.1 362.9L234.3 359.2M243.1 337.3L229.5 348.4M264.3 340.2L230 354M275 335.1L216.6 339.3M255 352.2L218.5 339.4M252.9 345.1L238.6 348.7M229.5 296.8L200.8 332.3M251.6 347.7L246.9 360M228 373.9L213 367.2M234.6 326.1L228.8 332.5M226.8 385.3L214.7 368.7M223.9 379.7L218.6 370.7M256.3 367.3L215.3 377.3M250.1 329.9L221 333.2M256 369.5L215.9 368.6M232.5 370.9L214.4 369.3M261.1 374.4L222.7 372.5M242.8 370.6L235.7 360.7M246.9 374.4L207.7 372.2M263.1 336.2L221.9 353.9M263.6 342.3L228.8 341.8M233.6 326.5L211 341M261 345L226.3 348.8M258.9 337.9L221.5 347.3M250.8 339.5L229 337.2M264.2 351.5L232.2 351.7M210.7 401.2L193.9 380.8M216.4 391.6L198 394.3M238.1 324.9L214.4 333.6M250.5 365.8L235.9 358.3M262.5 363.5L233.9 351.8M273.4 353.4L226.4 361.4M263.1 367.5L215.4 363.6M272.3 357.2L211.1 336.9M232.9 326.3L211.1 334M228.9 400.1L217.7 378.3M234.3 369.5L208.1 363.3M261.6 356.1L242.4 358.4M248.7 341.9L231 348.1M210.5 310.7L205.8 318.4M254.9 341.5L225.8 340.6M253.4 331.9L243.1 354.1M237.8 375.3L215.6 368.5M280.2 361.4L233.6 347.5M233.4 381.1L200.3 371.6M221.6 382.6L194.5 380.2M257.2 364.3L209.5 367.6M271.7 339.4L224.7 365.1M223.4 392.4L206.2 379.4M223 314.7L204.2 324.6M253.8 339.9L222 336.9M248.1 369L213.1 372.6M229.6 371.4L215.7 368.3M246.7 334.6L223.2 336.4M221.5 317.5L208.7 324.7M262.2 327.3L212 329.9M223.8 316.9L204.4 330M240.7 332.1L220.4 352.9M260.9 350.3L222.6 352M254.2 367L221.5 355M254.2 346.7L213 361M271.8 371.1L216.3 364.9M265.7 359.1L230.1 351.2M253.7 356L238.2 350.1M258.7 357.4L221.4 344.9M214.5 308.5L203 314.2M258.5 350.8L225.2 366M240.4 367L238 362.8M222.5 382.7L205.2 381.7M269.2 348.4L240.5 346.4M261.2 367.5L221.3 366.4M231.7 385.9L204.7 374M228.5 309.3L204.2 334.1M293.5 381.3L304.6 361.7M142.5 432.1L143.5 387.3M200.3 406.6L197 375.5M129.1 415.2L144.9 380.5M198.7 288.8L178.5 316.6M207.5 402.2L169.5 384.5M140 405.1L117 389.5M72.1 394.2L133.1 367.6M192.5 294.5L181.4 330.1M155.6 280.8L158.8 309.4M149.6 409.9L119.2 390.8M230.2 383.5L193.9 364.2M230.7 305.7L208.6 343.2M174 296.6L160.7 307.6M179.1 287.3L162.4 300.7M184.6 298.2L175.5 328.5M154.4 411.5L169.3 394M124.7 292.7L125.5 312.2M186.9 284.8L175.1 327.9M117.4 296.8L119.2 312.9M150.6 293.7L149.9 320.6M154.2 287.4L150.4 317.6M223.6 379.3L203.6 368.8M234.4 326.3L226.8 337.9M234.4 326.3L196.8 340M175.7 285.8L178.5 307.8M175.7 285.8L172.9 307.4M125.4 402.4L123 385.4M269.8 351.9L210.2 337M269.8 351.9L237.7 356.6M103.7 283.4L136.4 314M125.1 293.3L130.7 333.2M155.2 284.4L149.5 306.3M162.2 292.9L146.2 303.5M15.3 290.4L81.8 306M26.4 281.5L81.8 325M38.4 285.5L84 318M56.2 280.3L92 312M63.1 277.3L95 310M54.9 288.9L115.4 317M65.6 289.5L113.7 317.2M71.6 296.9L100 328.7M62.2 302L99.4 321.7M52.8 306.2L93.6 327.1M55.4 311L100.6 336.1M61.4 310.5L96.3 322.5M69 307.1L106.8 319.9M73.3 320.2L90.7 333M46.9 325L93.8 333.8M29.8 328.4L98.8 337.9M67.3 326.4L92.8 333.7M90 290.4L123.3 310.1M100.6 294.7L123.7 310.2M107.4 291.2L127.9 303.1M111.6 289.5L122.9 307.2M115.9 286.6L128.9 306.8M85.2 293.5L113 317.2M76.7 292.6L113.4 313.2M29.8 328.6L96.3 348M28.6 334.1L91 342.5M46.4 325.2L100.3 334.1M49.4 329.3L90.2 331.2M45.2 339.7L86.8 341M55.4 345.2L87.4 355.3M31.5 348.6L85 361.6M47.7 353.2L94.4 346.5M20.5 360L84.9 353.1M19.3 364.4L84.9 361.3M34.9 363.9L94.7 353.3M41.8 357.6L90.3 357.2M28.6 372.4L87 363.4M36.6 372.4L88.7 359.9M52.8 306.8L101 326.4M55.4 311.1L100.4 330.9M67.3 326.4L91.2 345.5M61.4 340.9L83.4 354.2M60.5 349.4L95.2 347.1M73.3 320.5L92.4 342.4M28.9 372L92.9 369.6M49.8 379.9L96.1 366.5M48.6 390.5L93.5 371.7M65.2 383.3L99 375.6M71.1 392.2L102.4 374.6M65.2 404.9L112.1 382.5M74.2 409.2L118.4 388M76.2 411.8L108.3 384.7M84.8 397.3L100.5 382.1M93.3 410.9L114.7 390.5M95.3 422.8L126.9 394.1M110.3 425.4L120 397.2M124.8 441.2L112 409M83.9 386.2L108.3 378.5M110.8 425.3L131.8 394.8M124.9 441.2L143.2 400.8M137.1 452.4L159.2 422.2M130.7 418.5L142.2 401.7M139.7 422.2L144.9 396.9M151.5 424.7L158.2 401.4M159.2 423L162.8 399.7M165.4 448.5L170.2 420.5M169.3 440L171.8 401.9M176.9 429.8L176.3 405.8M176.9 423L169.5 405M184.6 419.2L181.4 401.3M193.6 425.3L184.4 400.1M200.7 425.9L187.2 400.2M206.3 415.1L196.6 393.6M208 435.4L183 397.6M204.9 454.7L196.4 415.4M227.3 425.3L192.1 393.3M325.2 380.1L268 370.2M318.2 363.1L249.4 352.7M304.6 360.9L241.9 355.3M283.3 364.3L248.6 356.9M291.8 362.6L226.1 369.4M293.5 381.3L253.5 385.2M271.4 371.1L242.9 360.1M269.3 375.7L236.7 366.4M252.6 377L230.7 363.8M254 385.2L218.3 374.4M254.3 400.6L220 376.2M259.1 407.7L223.4 375.7M240.3 405.2L212.5 386M245 411.1L207.9 386.5M231.3 413.2L204.3 390.2M222.3 411.1L204.5 394M243.2 429L204.9 388.1M227.9 424.8L194.8 391.5M248.9 438.7L203.7 395.3M242.4 391.5L206.8 383.2M273.2 458.5L214.7 413.2M249 439.3L212 410M243.4 428.7L201.7 388.6M205.1 455.1L190.9 400.9M208.4 435.6L185.1 397.9M282 304.8L225.2 331.7M257.3 311.1L216.4 324.4M293.9 315.3L230.6 335.9M273 320.8L231.6 332.9M279.4 327.6L234.1 338.3M300.2 331.2L237.9 335.8M286.2 331.5L250 354.6M290.2 339.2L246.9 351.3M305 346.4L242.2 347.5M304.7 354.2L248.3 359.7M284.5 352L245 358.3M317.8 363.1L244.7 358.2M304.5 361.4L240.9 356.4M283.2 364.4L245.2 355.4M291.7 362.7L251.3 358.8M266.6 329.3L227.2 330M264.9 345.2L245.5 347.9M270.9 370.7L221 366.6M269.5 375.8L240.5 364.7M207.6 276.4L188.6 310.5M203 279.8L185.9 310.7M197.4 281.5L187.5 307M188.9 284.9L183.4 307M224.7 281.5L200.7 315.8M236.8 280.7L207.8 316.2M243.1 287.5L210.1 321.8M233.2 285.8L210.1 321.8M219.5 286.6L200.6 312.8M211.5 290.1L193.6 312.9M233.7 290.9L193.9 308.2M236.2 298.1L210 324.4M282.3 304.9L220.8 328.1M294.2 315.3L237.3 341M257.6 311L215 328.7M272.9 320.7L241.3 343.4M244.8 308.8L216.4 325.4M202.2 289.5L199.3 309.7M136.9 256.8L133.6 290M167.1 270L171.3 302.8M173.4 271.7L170.5 305.3M170.3 275.8L164.1 298.3M162.9 280.5L166.3 303.3M148.8 279.2L153.9 305.8M141.2 281.4L140.8 300.9M125.1 281.4L138.4 306.1M120.5 284.7L134.2 304.7M156.1 285.6L162.8 305.7M175.1 287L169.5 303.4M179.3 287L171.7 302.2M188.3 284.7L184.2 303.6M111.5 289.8L137 305.9M107.3 291.5L128.8 309.5M90 290.3L115.4 310.5M100.5 294.4L117.5 306.5M115.8 287.3L134.7 301.9M131 288.1L141 307.5M146.3 282.2L147.9 303.2M85.3 293.2L109.8 310.5M55.3 306.2L99.7 318.6M69.8 308.8L107.9 321M76.2 307.1L105.8 325.4M74.3 313.5L101.5 329.7M79.6 314.8L98.9 323.3M30.1 331.4L85.6 343.6M56.3 332.3L89.5 346.7M62.5 332.5L91.2 337.6M44.2 335.5L93.6 347.2M57 354.3L87.9 358.7M65.9 353.7L96.3 361.7M46.1 358.1L87.5 351.2M51.9 358.8L91.5 369M38.2 363.5L88.3 353.3M50.6 366.8L87.5 354.9M63 366.1L84.6 356.1M62.7 369L93.5 360.8M64.7 373.3L91.2 370M67.9 342.8L85.7 354.2M67.9 346L92.9 351.2M73.7 344.7L84.7 346.2M67.2 376.7L88.7 368.2M72.3 377.6L98.6 367.4M70.4 367.7L87 368.1M95.1 397.5L114.1 394.5M91.1 394.3L111.1 390.2M139.1 416.7L143.9 401.1M112.7 410.3L130.6 395.6M197.9 416.6L197.4 399.6M227.5 425.6L204 392.8M214.7 415.5L204.9 386.9M236.3 402.7L206.5 380.6M224.3 403.8L203.4 387M231.5 395.5L206.9 387M219.2 396.3L213.3 385.2M222.2 408.2L201.4 386.9M289.9 355.6L248.7 358.8M277.2 357.2L249 358.4M267.2 340.3L247.6 347.6M263.8 368.7L232.7 367.6M257.3 365.8L227.5 366.7M259.6 335.5L231.8 342.4M256.1 326.5L231.2 332.4M258.6 350.8L234.9 342.9M134.3 282.7L146.5 303.2M85 293.6L101.2 315.8M141 288.6L147.3 303.1M146.7 289.7L146.1 299.7M160.4 288.6L162.4 301.1M151.1 292.3L148.7 301.7M167.8 291.7L173.6 298.9M188.2 284.5L182.9 306.8M224.4 292.3L203.4 312.3M257.4 311.6L225.7 328.3M241.1 312.8L219.3 325.5M210.3 299.1L195.9 306.7M185.1 291.5L180.4 300.2" stroke="#cdcdcd" stroke-width="0.8" fill="none"/>
<g class="nd">
<path class="n3" d="M129.7 357.4h0M121.4 366.3h0M149.4 351h0M225.2 337.8h0M160.1 380.8h0M75.4 351.5h0M182 382.2h0M120 369h0M125.8 361h0M142.8 353.8h0M140.1 370.8h0"/>
<path class="n0" d="M300.2 331.2h0M116.7 345.4h0M156.3 329h0M148.5 326.9h0M139.3 297.1h0M140.2 328.9h0M93.1 349.3h0M123.1 318.1h0M100.8 332.6h0M105.7 334.3h0M146.2 312.5h0M90 381.6h0M148.7 321.1h0M109.1 342.6h0M132.8 344.4h0M114.1 319.1h0M159.8 326.2h0M102.8 332h0M99.1 321.4h0M149.8 352h0M141.2 344.3h0"/>
<path class="n4" d="M195.3 390.4h0M106.1 341.2h0M137.6 363.4h0M134.2 395.2h0M88.6 388.7h0M196.7 392.5h0M187.5 393.6h0M158.4 371.9h0M102.5 387.6h0M144.8 392.4h0M133.3 405.2h0M163.6 371.2h0M157.5 379.4h0M105.6 395.8h0M125.2 363.2h0M130.7 418.5h0M137.6 375.5h0M126 374.6h0M173.4 385.6h0M113.5 405.3h0M145.5 364.7h0M142.4 376.3h0M116.5 386.9h0M167.8 378h0M157.8 384.7h0"/>
<path class="n9" d="M272.8 354.1h0M192.3 301.7h0M228.9 400.1h0M81.4 367.2h0M31.5 348.6h0M110.3 378.5h0M173.1 294.9h0M207.7 300.1h0M142.9 306.9h0M106.3 394.5h0M142.2 293.1h0M96.1 384h0M166.5 291.7h0M248.7 345.4h0M76.8 359.4h0M217.2 330.4h0M153.6 290.8h0M241.7 347.7h0M68.5 386.9h0M194.2 387.6h0M94.6 337h0"/>
<path class="n5" d="M199.8 362.3h0M182.9 370.3h0M186.4 406.2h0M204.6 392.4h0M134 375.5h0M208.4 435.6h0M215.5 370h0M231.4 370.9h0M183.4 364.8h0M177.5 402.5h0M217.5 353.8h0M168.3 398.3h0M210.7 364.8h0M179.1 364.3h0M199.5 378.5h0M210.4 377.5h0M200.6 389.8h0M187.4 406.6h0M201.3 369.1h0M211.1 370h0M243.4 428.7h0"/>
<path class="n1" d="M152.7 346.8h0M170 302.1h0M128.5 328h0M165.5 310.1h0M157.9 358.8h0M153.4 310.8h0M83.2 339.6h0M81.8 344.5h0M146.1 337.8h0M196 304.3h0M104.9 392.6h0M121.4 320.9h0M138.8 299.4h0M217.2 315.5h0M219.9 370.2h0M131 318.2h0M150 344.2h0M160.5 339.4h0M182.3 326.5h0M154.3 350.3h0M99.1 355.2h0M141.9 323.6h0M160.7 335.4h0M168.8 363.1h0M179.3 287h0M136.5 340.8h0M244.8 308.8h0M123.2 320.2h0M200.3 317.6h0"/>
<path class="n2" d="M189.3 337.9h0M155.5 349.4h0M157.7 304.3h0M152 329.5h0M181.1 321.5h0M202.3 336.1h0M203.3 308.1h0M275 335.1h0M201.7 300.4h0M178.6 319.7h0M174.2 330.6h0M161.6 328.5h0M181 313.2h0M194.5 317.8h0M189.1 340.9h0M138.3 319.9h0M154.1 310.7h0M180.8 327.4h0M206.8 333.1h0M201.6 317.5h0M186.5 300.3h0M159 320.4h0"/>
<path class="n9" d="M86.2 312.5h0M218.6 318.9h0M116.2 342.1h0M191.4 386.9h0M85 379.1h0M235.6 353.3h0M85.2 330.4h0M172 361.4h0M83.4 323.5h0M194.1 300.9h0M79.5 362h0M180.4 295.3h0M121.5 406.3h0M211 376h0M130.3 302.7h0M76.5 354.2h0M171.8 303.3h0M99.6 305.3h0M192.5 294.5h0M155.5 398.5h0M215.5 391h0M200.1 400.9h0M116.6 355.4h0M226.7 313h0M111.2 408.2h0M239.5 367.1h0M98.2 323.3h0M154.7 338.4h0M57 354.3h0"/>
<path class="n1" d="M162.5 336.2h0M38.2 363.5h0M64.7 373.3h0M164.7 309.3h0M126 300.9h0M146.3 350.9h0M151.1 302.3h0M126.3 329.3h0M134 326.8h0M174.2 317.9h0M194.6 303.4h0M85.2 293.5h0M156.3 295.7h0M195 320.4h0M103.3 337.3h0M178.8 313h0M187 345.5h0M175 401.9h0M118.6 356.3h0M183 303.4h0M203.6 304.8h0M152.6 299.4h0M124.7 336.7h0M165.6 324h0M154.3 306.2h0M169.3 332.2h0M164.4 339.1h0M208.7 413.5h0M162.7 304.3h0M185.2 317.4h0M131.9 315.6h0M162.8 304.2h0M69 307.1h0M118.3 347.5h0M149.1 318.8h0M182.8 341.4h0"/>
<path class="n3" d="M87.5 376.2h0M106.1 351.5h0M135.4 367.7h0M143.6 357.3h0M147.1 355.4h0M67.9 342.8h0M113.4 354.8h0M148.5 299.3h0M136.9 361.8h0M121.4 347.3h0M161.9 370.4h0M157.8 316.7h0"/>
<path class="n4" d="M131.6 368.7h0M149.7 383.1h0M99.8 362.4h0M149.7 380.2h0M126.5 378.6h0M160 371.1h0M121.4 387.3h0M128.5 404.7h0M113.7 359.5h0M165.1 382h0M182.3 365h0M137.1 372.9h0M99.1 388.5h0M114.8 371.7h0"/>
<path class="n2" d="M166.4 329.5h0M198.3 319.5h0M198.1 322.8h0M182.1 344.4h0M178.3 328.8h0M166.8 322h0M152.8 318.8h0M164.2 313.8h0M174.9 307.5h0M189.7 299.1h0M179.3 337.7h0M197 352.3h0M178.2 365h0M163.7 319.1h0M190.3 304.1h0M192.3 300.4h0M171.1 326.6h0"/>
<path class="n0" d="M98.7 394.9h0M78.7 318.7h0M53.1 340.9h0M99.4 347.5h0M137.5 337.9h0M113.5 305.1h0M62.2 302h0M149.9 324.9h0M100 337h0M86.9 348h0M93.6 369.4h0M126.9 332.5h0M103.2 343.5h0M80.3 291h0M128.4 326.8h0M125.4 341.1h0M146.4 314.9h0"/>
<path class="n5" d="M188.6 397.1h0M117.6 330.5h0M189.3 330.5h0M258.1 364.2h0M209.8 381.2h0M179.2 372.8h0M191.8 377.7h0M171.1 384.7h0M175.3 393.6h0M181.6 362.7h0M198.5 396.4h0M188.6 358h0M185.7 385h0M215.7 360.1h0M220.6 364.2h0M183.9 353.6h0M201.8 380.3h0M245 411.1h0M199.4 361.9h0M190.6 344.2h0M186.1 396.6h0M227.3 425.3h0M168.9 389.7h0M193.2 382.8h0M185.1 396.5h0"/>
<path class="n4" d="M173.8 373.6h0M138.9 376h0M151.9 398.4h0M141.6 407.4h0M178.7 375.4h0M131.3 384.2h0M154.6 385.6h0M141.9 375.9h0M118.6 385.9h0M149.4 398h0M150.3 372.3h0M176.5 348.6h0M213.7 381.6h0M162.4 383h0M113.3 376.7h0M161.4 400.9h0M130 384.8h0M182.4 395.4h0M139.1 378.7h0M168.8 379h0M180.4 371.1h0M119.8 371.3h0M143.2 385.1h0M123.1 375.2h0M208.4 371.4h0"/>
<path class="n3" d="M178.5 317.1h0M143 360.4h0M92.9 384.4h0M84.2 343.3h0M178.6 366.9h0M152.9 343.7h0M82.5 379.9h0M135.8 346.5h0M193.6 323.2h0M122 357.2h0M159.7 348.6h0M147.7 362h0M193.7 326.5h0M99.7 386.4h0"/>
<path class="n1" d="M222.3 367.5h0M117.3 334.3h0M151.1 334.6h0M248.1 369h0M201.9 307.9h0M151.8 338.4h0M145.6 331.3h0M108.9 317.1h0M164.3 320.3h0M194.4 351h0M209.9 309h0M111.2 347.4h0M136.5 320h0M163 410.9h0M152.6 303.8h0M152.4 317.6h0M134.8 322.8h0M152.4 334.5h0M130.4 326.9h0M196.3 305.9h0M172.2 319.2h0M173.6 316.3h0M114.8 311.4h0M152.3 303.1h0M159.8 315.9h0M227.7 362.4h0M85.9 321.9h0M185.6 310h0M143.8 310h0M129.7 348.7h0M204.2 306.7h0M158.9 352.7h0M115.5 318.6h0M200.1 323.5h0M159.7 326.8h0"/>
<path class="n5" d="M212.2 371.7h0M246.7 364.4h0M250.9 335.5h0M169.1 364.8h0M265.3 368.2h0M179.3 386.4h0M174.1 368.4h0M238.5 382.8h0M232.8 371.7h0M172.8 387.1h0M207 397.5h0M240.8 333.8h0M195.8 384.3h0M187.5 385.6h0M208.1 381.9h0M207 395h0M229.2 349.9h0M167.8 352.8h0M201.7 399h0M181.1 392.1h0M192.6 389.8h0M222.1 379.2h0M209.1 372.9h0M193.7 369.5h0M157.7 322h0M208 315.9h0"/>
<path class="n9" d="M305 346.4h0M97.5 361.6h0M222.2 359h0M169.2 289.9h0M193.8 407.5h0M161.3 406.3h0M61.9 363.6h0M131.4 296.3h0M209.6 396.9h0M107.9 394.6h0M250.1 321.8h0M128.3 304.6h0M80.4 344.7h0M148.6 395.7h0M188.3 405.8h0M86.6 374.5h0"/>
<path class="n2" d="M203.5 306.6h0M192.3 282.2h0M184.9 305.1h0M198.1 331.1h0M204.6 339.4h0M187.5 332.7h0M198.6 323.6h0M166.3 342.8h0M202.2 304.7h0M156.3 333.3h0M162.4 329.5h0M201.9 318h0M143.4 343.1h0M203.5 330.4h0M183.5 337.7h0M183.1 329.9h0M180.1 312.4h0M201.9 328.4h0"/>
<path class="n0" d="M139.7 305.2h0M158.7 317.6h0M118 328.2h0M111.9 359.4h0M112.4 316.1h0M111.5 331.5h0M102.1 323h0M119.5 300.3h0M117.2 334.9h0M117 332.5h0M117.4 321.7h0M131.8 332.4h0M157.6 350.6h0M132.7 320.6h0M84.2 337.6h0M115.7 336.8h0"/>
<path class="n3" d="M81.4 338.9h0M73.5 363.6h0M124.6 350.3h0M189.8 338.5h0M110.7 375.8h0M65.9 353.7h0M172.2 362.5h0M87.3 371.2h0M143 371.3h0M124.4 348.1h0M205.1 335.1h0M89.6 382.5h0M132.3 363.8h0M192.4 308.8h0"/>
<path class="n9" d="M59.8 340.2h0M164.9 294.3h0M140 405.1h0M206.9 395.5h0M80.1 323.4h0M262.2 321.7h0M83 356h0M155.5 368h0M256.1 357.4h0M84.4 320.8h0M67.5 310.2h0M155.4 397.6h0M71.6 379.5h0M75.2 348.3h0M190.6 300.7h0M205.2 401h0M219.4 373.4h0M149.6 312.7h0M207.6 395.3h0M172.3 409.9h0"/>
<path class="n4" d="M126.6 404h0M106.5 394.6h0M87.4 385.2h0M99.9 374.3h0M153.1 384.7h0M188.3 357.6h0M95.5 326.8h0M135.9 313.5h0M154.6 392.6h0M172.9 371.2h0M153.4 387.4h0M131.6 394.6h0M169.4 382.6h0M163.9 378.7h0M136.9 370.5h0M155.9 378.4h0M168.5 394.3h0M135.3 386.7h0"/>
<path class="n1" d="M202.3 321.2h0M187.6 306.1h0M137.2 327.5h0M104.5 362.8h0M161.1 318h0M154.8 306.5h0M164.3 325.9h0M154 300.1h0M90.5 314h0M214.6 314.3h0M131.3 338.2h0M126.4 379.4h0M145.3 312.7h0M152.4 337.3h0M161.3 344h0M164 303.2h0M168 314.9h0M170 308.6h0M136.9 297.4h0M159.2 423h0M131.8 341.2h0M190.3 320.1h0M147.7 303.2h0M114.8 362.9h0M155.4 313.2h0M164.7 335.1h0M148.3 344.3h0M97 381.8h0M241 359.1h0M184.5 313.2h0M149.9 317.5h0M178.6 310.2h0M184.6 419.2h0M127.1 324.3h0M156.9 336.4h0M153.5 316.3h0M187 362.5h0"/>
<path class="n2" d="M209.8 355.1h0M99.1 304h0M179.5 336.1h0M203.5 331.1h0M180.7 319.1h0M190.5 320.3h0M210.3 299.1h0M174.4 347.6h0M166.3 326.1h0M209.6 328.3h0M167.5 350.5h0M179.5 326.7h0M180.4 323.3h0M256 363h0M179.5 333.1h0M213.6 366.1h0M183.1 336.9h0"/>
<path class="n5" d="M225.8 366.6h0M207.3 383.8h0M192.9 365.9h0M261 345h0M176.8 349.5h0M192 376.9h0M197.5 385.2h0M185.6 376.1h0M218.5 380.1h0M205 342.8h0M208.4 385.1h0M201.9 392.4h0M183.4 349.5h0M228 373.9h0M200.2 393.7h0M211.8 392.4h0M201.9 369.9h0M168.7 392.8h0M185 395.3h0M202.6 386.8h0M179.6 379.4h0M184.7 377.1h0M184.8 383.1h0M177.7 385.9h0M261 360.1h0"/>
<path class="n0" d="M97.2 329.2h0M144.9 305.9h0M114.6 331h0M134.4 331.1h0M129.5 323.6h0M82.9 377.8h0M133.9 335.6h0M142.9 324.7h0M89.2 342h0M152.9 382.6h0M158.9 317.1h0M181.1 319.6h0M108.7 331.4h0M150.6 314.7h0M111.1 327.9h0M115.9 286.6h0M148.7 318.4h0M117.8 338.1h0M90 290.3h0"/>
<path class="n3" d="M120.8 362.9h0M136.4 362.7h0M149 361.9h0M123.3 361.5h0M132.2 344.7h0M81.6 343.6h0"/>
<path class="n5" d="M184.1 371.9h0M198.7 377h0M206.3 388.9h0M198 366.4h0M207.2 389.2h0M212 380.8h0M198.4 382.6h0M158.1 403.9h0M205.8 359.2h0M234.1 368.2h0M190.5 404.9h0M178.9 390.1h0M182.6 357.5h0M228.8 373.1h0M256.2 360.8h0M216 371.5h0M192.5 389.1h0M212.2 402h0M144 406h0M192.4 403.3h0M138.2 400.3h0M202.9 381.3h0M185.4 369.2h0M223.9 379.7h0M220 381.6h0"/>
<path class="n4" d="M125.3 381h0M146.4 407.1h0M144 375.1h0M168.9 388.6h0M145.3 385.2h0M155.5 364.3h0M128.6 366.4h0M153.9 364h0M129.1 388.2h0M157.7 386.7h0M184.4 399.4h0M143.5 380h0M162.5 384.3h0M155 368.7h0M153.5 390.1h0M145.3 383.8h0M138.4 379h0M149.3 381.8h0M146.9 389.9h0M141.5 380.9h0M135.5 366.8h0M160.8 388.7h0M163.9 388.7h0M150.2 380.8h0M137.3 387.5h0M151.5 388.1h0M150.9 393.5h0M156.8 394.7h0M138.4 373.6h0"/>
<path class="n2" d="M202.3 333.3h0M162 406.8h0M199.8 331.1h0M220.8 338h0M188.1 301.6h0M141.1 296.1h0M207.3 338.1h0M139.6 316.8h0M211 346.2h0M196.9 322.3h0M216.5 352.3h0M127.1 367.3h0M183.9 313h0"/>
<path class="n1" d="M128.2 334.5h0M190.3 318.1h0M169 320.8h0M142 323.2h0M156 316h0M157.6 324.9h0M155.8 321.4h0M140.5 319.2h0M155.2 309.4h0M117.7 313.7h0M223.8 358.4h0M183.9 309h0M149.7 343.8h0M116.1 329.7h0M128.1 343.2h0M147.9 300.9h0M165.1 314h0M62.7 369h0M202.2 289.5h0M129.4 298.7h0M142.9 358.6h0M152.2 305.5h0M155.1 306.6h0M162.4 324.9h0M183.6 330.8h0M156.6 312.3h0M172.6 311.4h0M165.3 335.5h0M182.9 304.7h0M194.7 411.9h0M193.7 319.9h0M122.1 334.6h0M165.5 301.9h0M152 302.3h0M194.1 315.4h0M171.8 301.1h0M155.4 297.2h0M110.5 309.9h0M200.6 309.1h0M173.2 329.4h0M129.3 304.6h0M124.7 313.7h0M199.1 358.4h0M120.1 316.4h0M206.7 326.8h0M144.8 320.2h0M181.3 349.4h0"/>
<path class="n0" d="M104.3 341.7h0M76.4 333.9h0M124.4 319.1h0M215.7 364.6h0M111.2 313.4h0M139.5 313.4h0M147.3 343.9h0M125 359.5h0M119.7 295.9h0M85.5 372.5h0M124.5 326.4h0M104 317.7h0"/>
<path class="n9" d="M192.2 285.3h0M189.9 397.5h0M97.8 351.7h0M170.4 291.3h0M163.4 411.9h0M126.3 298.2h0M82.5 309h0M225.2 314.5h0M139.1 396h0M125.1 293.3h0M103 308.4h0M153.1 338.1h0M234.3 370.3h0M132.2 403.2h0M79.3 344.6h0M254.9 341.5h0M111.9 397.1h0M211.3 324.1h0"/>
<path class="n3" d="M132.5 355.7h0M118.7 363h0M181 367.4h0M98.5 304.8h0M49 316.4h0M115.7 303.6h0M148.9 357.4h0M79.7 361.2h0M131.9 358.5h0M146.4 339.9h0M173.2 323.8h0M112.2 395.7h0M211.1 321.6h0"/>
<path class="n4" d="M167.1 380.9h0M149.1 377.2h0M115.6 381.7h0M124.8 441.2h0M159.6 372.8h0M170.3 394.6h0M149.7 385.2h0M151.9 375.7h0M160.5 364.3h0M151.1 369h0M142.8 386h0M95.3 422.8h0M115.9 374.5h0M141.8 365.1h0M121 399.3h0M163.7 385.1h0M135.7 379.6h0M139.6 387.7h0M109.4 377h0M148.2 373.2h0M102.6 388.1h0M148 368.3h0M127.5 385.6h0M156.7 384.5h0M140.9 372.1h0M118.3 386.4h0M172 382.7h0M112.5 385.2h0M132.5 369h0M154.9 375.5h0M224.3 403.8h0"/>
<path class="n9" d="M103.9 352.4h0M246.6 331.7h0M60.5 349.4h0M97.8 312.8h0M218.2 335.4h0M110.3 425.4h0M263.1 336.2h0M214.6 326h0M80.8 327.3h0M250.1 329.9h0M235 368.7h0M232.1 338.4h0M215 330.6h0M80.2 366.5h0M122.5 384h0M147.6 398.7h0M163.4 340.9h0M71.6 296.9h0M196.8 401.7h0M178.7 424.9h0M223.3 331.2h0M253.2 367.2h0M174 294.2h0M91.5 313.7h0"/>
<path class="n5" d="M120.4 346.9h0M223.8 362.4h0M209.4 391h0M167.2 370.2h0M193.5 358.8h0M232.8 370.4h0M195.2 371.7h0M186.8 414.7h0M199.2 378h0M221.4 362h0M190.3 374.9h0M181.2 365.2h0M171.4 353h0M177.8 380.4h0M129.6 391.2h0"/>
<path class="n1" d="M111.6 313h0M133.6 316.2h0M196.4 338.6h0M112.9 327.1h0M124.1 349.6h0M173.4 349.1h0M163.6 328.1h0M162.9 320.2h0M152.4 311.2h0M142.6 309.4h0M151.6 335.1h0M103.4 389.4h0M80 340.9h0M152.6 318h0M154.5 316.6h0M204.2 325.8h0M148.9 332.8h0M132.4 340h0M144.2 307.1h0M156.4 307.8h0M173.5 340.1h0M163.3 323.6h0M163.5 316.7h0M139.3 323.4h0M174.9 310.4h0M96 292.5h0M153.8 315.8h0M140.4 303.6h0M130.9 318.5h0M177.2 323.8h0M130.1 339.2h0M189.2 311.4h0M172.1 299.1h0M117.1 345.6h0"/>
<path class="n0" d="M202.9 388.8h0M113 386.2h0M128.7 333.3h0M199.9 306.5h0M89.3 316.6h0M140.6 303.3h0M196.5 338.8h0M146.7 333.5h0M163.7 335h0M173.2 343.9h0M126.6 321.1h0M119.7 353.7h0M158 343.1h0M95.3 329.8h0M133.1 311.6h0M128.8 315.4h0M105.9 341h0M189.1 406.4h0M128.3 309.8h0"/>
<path class="n2" d="M154.6 383.7h0M191.7 362.7h0M195.9 345.3h0M187.1 317.7h0M168.2 355h0M211.9 366h0M235.1 325.7h0M171.8 349.8h0M176.5 324.7h0M194.9 328.4h0M148.5 351.6h0M161.9 330.9h0M161.6 305h0M215 325.4h0"/>
<path class="n9" d="M67.3 352.9h0M259.4 354h0M101.9 303.4h0M123.4 400.7h0M112.4 363.9h0M115.3 316.9h0M252.6 349.9h0M256.5 343.1h0M214.1 398.6h0M219.1 378.7h0M181.4 285.8h0M207.2 308.1h0M88 376.6h0M138.1 290.7h0M88.7 377.2h0M279.4 327.6h0M141.9 406.2h0M290.2 339.2h0"/>
<path class="n5" d="M188.7 361.7h0M196.1 366.2h0M182.2 363.2h0M180 403.2h0M212.4 340h0M179.9 377.8h0M209.9 362.3h0M217.4 365.5h0M205.7 370.5h0M196 375.7h0M270.9 349.2h0M209.9 348h0M208.9 370.9h0M183.3 398.7h0M167.8 407.1h0M197.4 403.6h0"/>
<path class="n4" d="M142.4 378.2h0M165.7 397h0M130.3 381.6h0M157.6 378.6h0M156.7 378.5h0M144.6 373.4h0M154.3 420.8h0M134.9 375.8h0M152.2 392.3h0M128.2 388.4h0M139.1 375.3h0M136.2 381.2h0M166.4 372.6h0M148.8 364.3h0M137.3 372.5h0M112.6 370.3h0M156.4 386.7h0M143.7 388.8h0M141.6 385.7h0M165 385.9h0M128.1 374.1h0M125.2 371.3h0M125.2 380.1h0"/>
<path class="n0" d="M151.6 319.9h0M130.4 341.7h0M129.6 384.3h0M103.6 331.4h0M121.9 347.8h0M89.4 340.8h0M180 298h0M116.3 341.5h0M107.7 343.4h0M142.9 323.8h0M94.5 326.1h0M142.4 343.5h0M127.8 351.7h0"/>
<path class="n1" d="M144.2 331.9h0M161.5 311.8h0M187.4 320.8h0M184.8 370h0M116.7 309.5h0M86.2 324.6h0M140.2 318.9h0M190.8 291.3h0M165.2 300.8h0M132.4 333.8h0M144 332.9h0M179.3 342.9h0M158.3 423h0M156.3 320.5h0M151.8 345.8h0M151.7 319.5h0M160 309.2h0M160.8 319h0M135 349h0M188.1 300.9h0M226 377.3h0M184.7 299.9h0M230.9 369.6h0M106.9 336.2h0M140.6 322.4h0M162.6 321.6h0M106.3 325.5h0M163.9 295.7h0M157.5 314.5h0M169.3 341.3h0M160.1 337.9h0M176.9 315.7h0M159.2 304h0M160.5 332.9h0M181.9 332.2h0M168.9 296.6h0M142.8 321.1h0M208.2 309.6h0M128 327.5h0M188.7 318.8h0M239.2 368.1h0M119.8 342.9h0M137.6 312.4h0M150 334.3h0M188 341.9h0"/>
<path class="n2" d="M189.5 315.7h0M173.1 332.3h0M167.9 329h0M205.9 312.3h0M150.7 323.6h0M200 302.7h0M209.6 374.1h0M189 316.7h0M186.4 335.3h0M187.3 321.3h0M185.6 334.2h0M170.5 338.1h0M257.6 311h0M161.6 333.1h0M207.5 308.8h0M197.2 335.1h0M168.4 329h0M200.4 316.9h0M172.6 357.3h0M182 317.7h0M213.6 327.3h0M196.1 304h0M226.7 324.7h0M217.8 323.5h0M214.7 332h0"/>
<path class="n3" d="M128.2 354.2h0M91.1 384.2h0M143.4 351.4h0M115.6 364.1h0M183.8 365.3h0M90.7 364.9h0M127.4 378.3h0M114.2 357.8h0M139.9 403.6h0M129.5 355.1h0"/>
<path class="n4" d="M177.4 380h0M166.1 389.8h0M134.9 373.2h0M161.6 373.5h0M154.2 380.6h0M127.1 372h0M170.2 383h0M151.2 383h0M168.3 327.1h0M149.4 410.3h0M121 390.7h0M173.3 395.2h0M136.7 381.9h0M128.7 400.2h0M166.8 323.4h0M115.4 380.2h0M157.6 380.3h0M165.7 395.2h0M141.1 372.2h0M170.8 376h0M107.8 387.2h0M112.7 387.2h0M148.5 370.2h0M126.3 389.9h0M156.9 388.6h0"/>
<path class="n2" d="M162 318.4h0M155.3 349.2h0M173.1 323.1h0M174.3 323.9h0M189.4 351.1h0M151.4 317.2h0M167 332h0M218.7 348.9h0M153.5 347.7h0M190.6 331.6h0M208.4 324.2h0M197 316.1h0M184.9 338.1h0M166.5 323h0M135.1 334.9h0M161.8 306.3h0M186.6 335.2h0M169 288.4h0"/>
<path class="n0" d="M166.3 389h0M152 345.7h0M141.4 327.9h0M111.6 310.2h0M139.1 319.9h0M121.1 340.7h0M117.9 317.6h0M184.5 306.3h0M139 341.8h0M146.8 335.5h0M111.5 304.3h0M69.8 289.6h0M135.2 311h0M107.2 304h0"/>
<path class="n5" d="M176.4 365.6h0M207.9 395.6h0M175 346.6h0M213 388.4h0M229.2 373.2h0M159.4 387.8h0M189.4 326.7h0M170.7 395.7h0M193.7 365.4h0M197.5 371.9h0M204.3 366.2h0M207.1 377h0M151.6 302.4h0M189.9 403.6h0M217.6 385.1h0M206.2 387.7h0M165.2 364.4h0M201.6 395.1h0M228.3 376.6h0M228.5 353.2h0"/>
<path class="n3" d="M176.7 322.2h0M171.6 330.5h0M134.8 358.1h0M131.4 366.3h0M110.8 361.4h0M142.6 344.7h0M146.1 351.8h0M144.6 350.6h0M132.1 358.6h0M138.8 364.2h0"/>
<path class="n9" d="M96.8 390.1h0M142.9 296.7h0M167.2 414h0M91.2 385.6h0M103.3 339.6h0M114.7 382.3h0M196.1 299.2h0M286.2 331.5h0M154.1 301h0M229.8 326.6h0M157.8 408h0M112.8 352.7h0M243.9 338.6h0M40.2 372.9h0M201.8 339.1h0M129.1 415.2h0M114.6 317.6h0M188.6 302.9h0M108.8 326.6h0M116.2 299.8h0M246.8 340.5h0M187.1 393.3h0"/>
<path class="n1" d="M165.2 312.6h0M190.6 314.2h0M160.7 334.1h0M157.2 338.8h0M118.8 307.4h0M165.4 300.2h0M170.5 310.7h0M114.4 321.2h0M154.8 300.7h0M169 307.2h0M144.7 301.9h0M166.7 323.6h0M138 341.6h0M154.3 335.6h0M150.6 327.4h0M144.1 347.6h0M154.3 305.3h0M130.3 398.1h0M73.9 374.2h0M112.4 339.9h0M128.7 324.3h0M152.8 309.5h0M169.7 317.2h0M142.7 323h0M149 318.1h0M145.4 350.8h0M211.5 290.1h0M128 341.3h0M164.1 333.6h0M137.2 369.2h0M165 333.2h0M205.7 377.2h0M151.6 306.4h0M121.9 331.4h0M176.4 331.2h0M121.9 341.5h0M159.6 349h0M189.4 406.4h0M156.2 344.8h0M142.2 339.9h0M166.2 336.2h0"/>
<path class="n3" d="M141.4 359.5h0M121.5 359.2h0M156.4 357.1h0M131.3 361.3h0M152.2 377.3h0M109.8 356.3h0M123.1 378h0M78.2 350.5h0M128.9 360.8h0M74.2 409.2h0M138.6 345.5h0"/>
<path class="n1" d="M188.2 321.7h0M171.9 320.4h0M129.5 337h0M170.4 408.5h0M163.4 316.6h0M160.1 312.8h0M144 313h0M160.9 344.4h0M112.2 335.4h0M134.7 327.7h0M156 335.8h0M109.5 326.3h0M180.9 331h0M115.3 398.7h0M100.1 346.5h0M172.2 311.1h0M200.7 411.2h0M149.1 305.7h0M161.5 341h0M175.5 329h0M206.3 312.8h0M145.3 313.9h0M147.7 310.2h0M155.8 309.5h0M157.5 301.7h0M118.8 325.3h0M143.6 296.8h0M189.1 317.1h0M148.7 306.5h0M166.6 337.2h0M110.5 307.7h0M157.8 314h0M96.5 342.2h0M179.5 301.9h0M187 332.7h0M136.1 315.6h0M188.8 322.4h0M114.2 323.9h0M131.3 297.9h0M177.8 312.7h0M128.5 321.6h0M232.2 344.9h0M197.9 318.8h0M169.2 316.7h0M150 302.5h0M257.1 360.1h0M172.3 293.5h0M146.4 333.7h0M161 331.8h0M103.1 324.2h0"/>
<path class="n0" d="M108.3 341.5h0M112.5 330.5h0M113.7 329.3h0M115 323h0M110.4 320.9h0M127 317.2h0M91.5 323.2h0M121.8 327.3h0M112.3 342.6h0M87.3 318.7h0"/>
<path class="n4" d="M156.9 327.6h0M147.5 361.6h0M102 390h0M164.6 377h0M146.1 392.2h0M148 406.3h0M152 390h0M129.9 372.4h0M151.4 374.1h0M174.1 378.8h0M158.9 376.7h0M162.3 371.4h0M164.4 378.1h0M128.4 368.8h0M174.6 379.5h0M147 377.1h0M164.1 389.2h0M119.7 392h0M145.8 382.9h0M132.2 385.4h0M134.6 389.5h0"/>
<path class="n2" d="M194.5 345h0M194.1 315h0M189.7 318.2h0M183.6 323.9h0M226.6 304h0M166.2 306.7h0M165.2 326.1h0M192.8 335.3h0M217.1 341.5h0M210.5 316.8h0M206 317.3h0M190.9 351.5h0M219.5 378h0M208.5 336.3h0M182.2 317.2h0M159.8 310.6h0M181.3 322.8h0"/>
<path class="n5" d="M273.2 458.5h0M162.6 371.7h0M175 321h0M231.3 413.2h0M191.9 396.2h0M212.7 344.6h0M202.2 371.7h0M237.8 363.2h0M195.6 346.5h0M192 392.9h0M205.6 395.2h0M174.9 375.4h0M201.7 391.9h0M191 358.1h0M169.5 330.1h0"/>
<path class="n9" d="M162 411.8h0M230.8 321.1h0M173.6 295h0M224.9 323.7h0M103.4 293.6h0M138 286.1h0M242.8 370.6h0M162.4 310.6h0M84.8 375.2h0M176.9 320h0M247.3 338.4h0M84.3 339h0M119.1 357.8h0M83.9 368.9h0M244.7 337.2h0M225.6 322.8h0M242.3 346.9h0M227.2 377.9h0M167.2 410.1h0M122.4 301.9h0M164.3 295.3h0M175 329.1h0M45.2 339.7h0M179 331.5h0M125.2 345.4h0M202.7 409.9h0"/>
<path class="n5" d="M196 388.3h0M186.7 383.4h0M209.4 393.1h0M163.9 362.2h0M238.3 368.4h0M181.7 411h0M198.7 350.6h0M162.3 372.5h0M183.8 382.8h0M233.3 362.7h0M222.6 385.1h0M199.5 402.2h0M163.8 394.5h0M170.2 394.5h0M187.4 377.8h0M193.8 372.7h0M160.9 358.6h0M189.9 385.7h0M212.1 366.6h0M165.4 448.5h0M63 366.1h0M181.6 368.1h0"/>
<path class="n3" d="M128.9 358.6h0M86.1 381.2h0M70.2 359.2h0M120 353.7h0M142.7 373h0M86.4 335.1h0M117.5 362.5h0M150.6 330.1h0M125.4 379.9h0"/>
<path class="n2" d="M196.9 338.5h0M193.1 330.6h0M221 345.8h0M151.9 323.7h0M93.7 300.1h0M201.6 316h0M176.6 334.2h0M169 317.1h0M175 286h0M222.7 326.6h0M208.2 354h0M196.9 315h0M203.2 305.9h0M209.7 315.4h0M190.3 326.2h0M179.4 298h0M181.9 323.4h0M243.8 319.6h0M173.5 301.6h0"/>
<path class="n4" d="M133.7 383.5h0M80.7 360.9h0M133.1 365.1h0M137.7 378.9h0M129.7 359.8h0M151.9 375h0M118.3 379.7h0M157.1 395.6h0M131.8 413h0M159.2 378.7h0M105.4 386h0M170.2 384.5h0M138.4 389.1h0M145.7 378.9h0M114.7 376.3h0M164.1 383.7h0M70.4 367.7h0M171.7 377.3h0M216.8 409.1h0M127.9 383h0M149.8 367.2h0M113.4 414.4h0M168.5 379.4h0"/>
<path class="n1" d="M106.3 327h0M125.9 327.9h0M159 351.4h0M131.3 305.2h0M139.8 295.4h0M154.7 293.8h0M195.4 334h0M145 305.4h0M155.5 332.1h0M133.2 383.2h0M140.4 298.5h0M151.4 307.4h0M130.2 349.1h0M149.7 295.2h0M113.6 314.7h0M131 309.9h0M148.2 330.1h0M110.1 351.6h0M111.6 400.5h0M156.8 287.3h0M214.9 337.6h0M160.8 342.4h0M154.3 332h0M143.5 334.3h0M183.6 289.9h0M176.3 320.3h0M186.2 338h0M175.7 346.7h0M167.8 320.8h0M163.8 337.5h0M169.8 333.9h0M115.4 341.6h0M145 329.4h0M156.2 326.9h0M109.9 327.9h0M165.5 350.7h0M142.9 301.3h0M169.1 318h0M174.6 290.4h0M100 322h0"/>
<path class="n9" d="M154.2 287.4h0M98.5 337.2h0M226.5 320.3h0M175.5 411h0M168.4 287.3h0M77.7 358.1h0M137.5 418.5h0M195.3 292.1h0M69.1 303.5h0M146.5 414.5h0M247.4 340h0M102.7 408.6h0M198.1 389h0M211 392.5h0M143.2 297.4h0M243.4 379h0M283.3 364.3h0M151.7 291.4h0M71.1 351.9h0M80.7 304.7h0M222.8 336.7h0M77.4 350.1h0M257.6 342.3h0"/>
<path class="n0" d="M138 329.3h0M102.2 314.9h0M136.4 312.9h0M124.7 324.2h0M94.3 316.4h0M116.5 312.2h0M111.5 318.6h0M148.2 300.7h0M136.7 331.1h0M74.5 374.4h0M120.8 323.9h0M105.9 338h0M116.9 342.3h0M133.3 326h0"/>
<path class="n0" d="M117.8 341.1h0M159.8 330.1h0M154.6 335.8h0M77.4 293h0M121.7 330.7h0M105.9 327h0M129.2 328.9h0M96.2 311.8h0M112.6 332.3h0M149.8 354.3h0M110.4 318.6h0M107.9 343.6h0M130.7 340.3h0M133.7 334.9h0"/>
<path class="n3" d="M138.1 360.8h0M80.6 370.5h0M165.1 345.4h0M113.9 360.5h0M118.1 364.2h0M153.4 363h0M147.3 363h0M82.7 329.4h0M130.2 357.4h0"/>
<path class="n1" d="M164 337.2h0M171.7 304.5h0M171.5 313.5h0M145.1 331.6h0M121.5 309.3h0M169.1 311.8h0M192.8 322.2h0M74.3 313.5h0M165.7 328h0M157.6 322.9h0M102.3 321.7h0M173.9 325.5h0M154.8 306.8h0M137.6 325.6h0M183 317.8h0M173.5 322.6h0M179 316.2h0M70 322.2h0M204.8 354h0M181.4 314.8h0M149.7 297h0M128.3 321.9h0M177.7 298.7h0M135.5 347.4h0M127 305.8h0M158.1 339.3h0M95.6 336.6h0M156.4 335.1h0M158.3 332.6h0M122.4 308.9h0M165.4 330.6h0M96.2 301.7h0M136.7 318.9h0M139.6 347.2h0M111.3 331.2h0M190.5 355.1h0M111.2 329.3h0M156.5 296h0M168 304.3h0"/>
<path class="n9" d="M139.5 408.2h0M167.6 411.9h0M100 309.8h0M181.7 315.3h0M266.6 329.3h0M180.5 403.9h0M229.5 296.8h0M138.9 402h0M49.1 316.1h0M239.3 340.8h0M289.1 362.9h0M225.8 322.3h0M244.4 330.7h0M29.8 328.6h0M214.6 312.7h0M170.3 275.8h0M92.3 320.7h0M102.2 403.7h0M49.4 329.3h0M280.2 361.4h0M210.4 383.5h0M254.2 346.7h0M241.1 333h0M210.7 401.2h0M192.4 302.1h0M170.2 293.8h0M246.8 377.4h0M214.4 395.1h0M179.6 302.1h0"/>
<path class="n2" d="M169.5 337.7h0M196.3 340.1h0M176.2 341.5h0M256.1 326.5h0M183.6 319.1h0M176.1 304.3h0M191.4 308.4h0M181.4 344h0M219.8 317.9h0M192.2 322.3h0M144.9 301.8h0M148.9 349h0M192.6 327h0M181.3 342.4h0M149 321.1h0M163.4 321.9h0M181.2 328.9h0M163.7 336.8h0M184.6 299.5h0M164.6 321.7h0"/>
<path class="n4" d="M159.3 371.7h0M133.7 365.1h0M189.1 400.5h0M130 390h0M160.2 396.6h0M128.4 372.4h0M137.7 376.2h0M153.6 370.2h0M154.2 396.6h0M149.1 399.5h0M133.8 386.5h0M182.2 374.3h0M178 383.1h0M143.9 374.1h0M160 378.7h0M139.1 393.2h0M160.6 396.8h0M149.4 394.4h0M143.4 366.2h0"/>
<path class="n5" d="M194.8 405h0M188.1 400.6h0M191.3 380.5h0M159.1 312.3h0M178.3 401.5h0M178.1 382.1h0M185.7 355h0M137.3 345.6h0M199.4 389.5h0M160.6 373h0M214.6 382h0M214.8 368.8h0M164.9 385.2h0M190.7 389.3h0M193.2 405.4h0M191.2 377h0M219.2 381.4h0M194.3 379.5h0M178.9 341.3h0M143.8 307.2h0"/>
<path class="n9" d="M231.3 381.3h0M159.2 303.9h0M154.4 411.5h0M209.9 308.5h0M270.8 333.8h0M142.5 432.1h0M248.7 341.9h0M197.9 393.5h0M138.2 284.5h0M87.7 374h0M177.1 356.5h0M230.9 316.7h0M234.9 381.1h0M202.5 358.8h0M185.4 295.8h0M202.4 330.4h0M190.2 301.4h0M118.5 401.5h0M99.5 386.9h0M96.9 305h0"/>
<path class="n4" d="M150.8 394.1h0M102.1 388.7h0M133.1 377.9h0M178.4 390.8h0M144.6 389.5h0M129.7 382h0M161.7 387.8h0M158.1 413.4h0M102.4 383.3h0M163.1 421h0M135.5 379.6h0M121.8 400.6h0M131.4 386.2h0M112.6 385.9h0M168.1 404.1h0M121.1 314.1h0M143.8 378.5h0M149.4 376.3h0M156 389.7h0M166.3 385.7h0M131.9 301h0M160.8 411h0"/>
<path class="n2" d="M187.7 349.9h0M146.7 282.6h0M161.4 329.7h0M156.2 322.1h0M152.3 289.1h0M186.6 317.7h0M249.7 379.1h0M163.4 384.4h0M180.6 324.5h0M203.1 315.4h0M192.2 342.8h0M166.2 302.7h0M187 328.3h0M196.9 317.8h0M167.3 329.4h0"/>
<path class="n5" d="M141.2 304.5h0M171.5 373.8h0M261.2 367.5h0M161.3 343.8h0M217 376.9h0M209.7 390.2h0M219.9 374.6h0M215.9 371.6h0M216.8 370.9h0M196 370.3h0M180.4 305.9h0M223.6 373.9h0M213.1 377.1h0M213.8 381h0M176.2 378.9h0M195.4 388h0M192.7 387.1h0M182.8 390.6h0M90.7 319.6h0M180.9 414h0M202.4 353.9h0M215.1 386.9h0M209.4 381.1h0M204.9 398.8h0M240.9 364.7h0M255.2 358.1h0M210.3 372.9h0M191.7 358.6h0"/>
<path class="n1" d="M174.6 343h0M133.6 340h0M142 311h0M179.7 314.7h0M172.2 296.8h0M128.8 350.5h0M136.3 309h0M114.1 351.1h0M227.6 381.1h0M171.6 330.3h0M146 295.4h0M249.2 332.5h0M191.2 300.4h0M164.3 310.9h0M168.1 296.9h0M173.9 345.3h0M175.9 303.8h0M134.2 403.9h0M126.2 321.5h0M151.3 302.8h0M153.5 305.5h0M97 327.7h0M294.2 315.3h0M162.9 316.4h0M130.6 311.9h0M169.9 308h0M145 317.9h0M107.7 350.2h0M188.5 335.1h0M144.3 351.3h0M161.4 337h0M154.4 288.1h0"/>
<path class="n3" d="M146.9 299h0M128.4 346.1h0M124.5 371.1h0M83.8 374.2h0M145.1 341.4h0M147.8 351.3h0M88.6 377.3h0M154.4 353.6h0M65.9 403.2h0M123.4 353.7h0M156 374.6h0"/>
<path class="n0" d="M135.4 321.3h0M125.7 326h0M114 307.8h0M101.2 308.7h0M134.9 308.6h0M139.9 319.7h0M143.6 318h0M144.2 382.7h0M128.9 352.3h0M138.5 346.1h0M71.3 369.8h0M127.6 306.5h0M115.9 329h0M117.6 353.5h0M125.1 321.6h0M117.4 337.2h0M144.4 296.6h0M145.1 299.6h0M123.5 341.9h0M83.6 336.9h0M130.6 312.6h0M155.5 408.3h0"/>
<path class="n4" d="M213.2 381.6h0M122.9 387.2h0M174.4 386.5h0M152.7 388.6h0M139.6 392.7h0M121.1 384.3h0M139.3 398.7h0M118 391h0M171.2 393.8h0M155.4 382.3h0M151.4 383.3h0M175.7 398.7h0M154.7 412.4h0M124.9 402.7h0M149.5 400.5h0M144 391h0M146 388.9h0M149.5 394.1h0M166.7 381h0M149.8 369.7h0M136.4 367.1h0M138.9 403.6h0M146.5 382.9h0M164.3 371.9h0M104 376h0M147.2 393.3h0M200.3 372h0M139.2 385.3h0M133.1 372.9h0"/>
<path class="n5" d="M219.3 378.2h0M242.9 345.4h0M187.8 382.4h0M182.6 412.9h0M219.2 381.1h0M181.7 361.5h0M223.5 372h0M200.1 378.7h0M215 363.8h0M207 363.6h0M154.5 338.7h0M211.1 388.9h0M178.6 374.7h0M156.4 380.7h0M172 376.9h0M211.8 382h0M212.9 367.6h0M251.7 341.9h0M217 386.5h0M191 405.9h0M201.5 367.1h0M229.5 376.1h0M198.4 387.2h0M214.4 385.2h0M191.4 379.4h0M201.1 382.6h0"/>
<path class="n2" d="M140.3 386.4h0M210.2 326.8h0M199.5 332.1h0M199 344.9h0M236.2 298.1h0M201 327.5h0M185.8 307.9h0M217.4 318.9h0M177.3 297.1h0M198.2 314h0M200.7 316.7h0M196.4 318.7h0M197.6 346.9h0M213.1 335.3h0M214.8 337.9h0M175.6 349.6h0"/>
<path class="n9" d="M257.5 328.6h0M117.4 296.8h0M115.8 283h0M207.3 401.1h0M263.6 360.2h0M232.9 316.6h0M150.2 343.1h0M48.6 390.5h0M161.7 408.8h0M116.9 307.3h0M93.7 391.3h0M229 364.3h0M153.6 407.3h0M124.6 380.6h0M179.4 413.8h0M180.5 409.7h0M110.5 378.5h0M217.4 367h0M88.2 374.7h0"/>
<path class="n0" d="M103.5 334.4h0M81 343.7h0M139.6 330.6h0M165.1 307.3h0M115.5 335.4h0M164.5 311.3h0M114.8 311.8h0M117.4 313.3h0M126.7 330.7h0M109.5 332.8h0M96.1 324.9h0M115.8 287.3h0M104.7 315.2h0"/>
<path class="n3" d="M139.1 416.7h0M148.6 366.7h0M133.3 368.9h0M132.3 354.8h0M117.3 359.9h0M159.8 371.2h0M131.8 361.2h0M151.6 350.3h0M94.5 353.4h0M143.2 369.9h0M93 357.4h0M115.5 295.3h0"/>
<path class="n1" d="M167.3 296.2h0M149.6 305.7h0M153.4 304.2h0M257.2 364.3h0M131.8 290.7h0M260.3 346.3h0M135 311.5h0M136.2 319.4h0M170.4 305.6h0M177.7 298.2h0M179.3 294.8h0M204.1 346.5h0M118.1 315.3h0M129.4 338.8h0M174.6 303.8h0M115.9 318.4h0M202.3 312h0M139.8 322.9h0M134.6 346.6h0M152.3 330.9h0M168.3 349.6h0M158.7 312.9h0M184.5 303.8h0M132.3 314.1h0M162.4 308h0M91.4 321h0M166.8 295.2h0M204.4 319.2h0M114.2 336.2h0M160.4 308.8h0M154.1 308.6h0M165.8 311.4h0M100.5 353.2h0M160.1 300.4h0M161.3 314.5h0"/>
<path class="n5" d="M238.5 343.3h0M224.8 367.1h0M185.4 379.5h0M173.8 385.5h0M151.8 356.9h0M207.6 358h0M146.7 329.5h0M189.7 366.3h0M200.1 364.6h0M173.6 386.9h0M172 396.1h0M191.4 380.2h0M192.6 383.3h0M223.6 379.3h0M229.1 327.2h0M206.5 393.6h0M183.9 377.2h0M221.1 364.5h0M248.1 368.1h0"/>
<path class="n3" d="M151 359.2h0M154.1 340.5h0M136 374.7h0M129.5 299.4h0M140.2 361.1h0M126 331.6h0M144.6 367.1h0M80.9 314.6h0M125.3 352.9h0M80 332.5h0M98.3 350.9h0M107.3 303.2h0M140.9 358h0M124.5 371.8h0M89.4 328.1h0M135.6 358.7h0M123.7 349.9h0M106.8 343.3h0"/>
<path class="n9" d="M83.4 327.5h0M83.9 383.9h0M93.6 326.1h0M199.8 299.6h0M117 325h0M166.1 295h0M223.4 392.4h0M82 389h0M73.1 335.9h0M103.8 383.9h0M167.5 295.4h0M230.2 383.5h0M163.6 292.2h0M92.9 373.4h0M123.8 409.1h0M245.3 369.2h0M69.3 332.7h0M183.8 296.4h0M163.9 306h0M143.2 291h0M261.6 362.3h0M186.2 410.1h0M242.8 332.3h0M135.2 332.6h0M205.9 326.8h0M153.5 399.8h0"/>
<path class="n1" d="M52.8 306.8h0M193.5 303.7h0M167.9 410.4h0M142.3 324.7h0M136.2 305.1h0M90.9 318.3h0M149.4 309.5h0M185.1 324h0M144.2 374.6h0M123.3 333.4h0M213.3 388.4h0M176.2 311.3h0M173 318.5h0M178.2 331.6h0M152 338.7h0M131.4 318.2h0M175.3 301.3h0M149.8 393.2h0M219.8 318.5h0M166.7 319h0M128.7 355.7h0M125.9 319.6h0M117 286.7h0M192.5 310.4h0M180.3 342.3h0M144 340.9h0M154.5 332.8h0M130.1 318.4h0M100.5 309h0M168 354.6h0M81.2 323.4h0M156.2 335.2h0M114.8 395.5h0M112.6 303.1h0"/>
<path class="n4" d="M121 377.8h0M152.7 386.8h0M141.1 377.6h0M135.1 403h0M134.7 375.4h0M148.7 410.5h0M137.7 374.1h0M129.6 380.6h0M141.8 418.1h0M124.2 360.8h0M139.4 376.2h0M153.4 414.9h0M130.8 386.5h0M145.2 389h0M143.6 383.7h0M202.8 347.6h0M147.4 376.8h0M133.6 336h0M145.4 380.2h0M180.7 404.3h0M109.8 394.4h0M173.3 403h0M164.8 333.5h0M162.5 392.7h0M161.2 389.7h0M154.1 378h0"/>
<path class="n2" d="M189.6 299.2h0M174.5 345.4h0M183.1 340h0M160.4 319.6h0M189 331.7h0M168.7 310h0M182.9 352h0M215.4 339h0M110 355.9h0M205.7 306.6h0M197.2 322.7h0"/>
<path class="n0" d="M97 311.2h0M130.7 304.9h0M118.3 338.9h0M105.3 344.8h0M125.6 330.6h0M109.5 328.8h0M107.9 299.5h0M111.1 326.4h0M124.8 340.2h0M133.6 318.2h0M132.7 324.5h0M202.6 364.4h0M125.7 338.6h0M125.7 350.1h0M152.8 310.8h0M162.3 367.4h0"/>
<path class="n3" d="M149.2 359.4h0M168.9 316.4h0M148 359.5h0M135.1 349.2h0M61.5 297.1h0M199.9 371.1h0M130.6 360.1h0"/>
<path class="n9" d="M103.7 283.4h0M169.1 290h0M260.5 341.9h0M182.7 296.2h0M291.8 362.6h0M72.1 374.4h0M114.5 325.8h0M110.8 396.3h0M176.9 394h0M171.5 410.1h0M240.5 335h0M161.5 305.8h0M166.9 294.6h0M210.5 316.6h0M220.4 375.9h0M99.5 356.3h0M85.1 352.4h0M236.1 372.5h0M122.8 412.4h0M29.8 328.4h0M149.3 397.5h0M82.5 385.9h0M153.9 399.5h0"/>
<path class="n2" d="M159.6 323.1h0M166.1 324.2h0M171.8 306.9h0M271.2 358.2h0M76.2 307.1h0M184.9 350.5h0M152.7 339.7h0M179.1 320h0M154.3 346.4h0M204 352.4h0M195.5 356.3h0M197.3 312.1h0M195.8 319.6h0M172.8 321.8h0M224.2 322.7h0M158.7 358.2h0M157.9 362.2h0M237.1 332.5h0M257.4 311.6h0M194.4 324.2h0M223.8 316.9h0"/>
<path class="n4" d="M156.3 380.8h0M153.1 392.5h0M145.8 379.9h0M122.5 387.1h0M128.8 377.6h0M116.5 380.5h0M168 395.4h0M157.1 383.9h0M126.6 375.1h0M153.5 388h0M164.9 371h0M112.8 358.5h0M28.9 372h0M90.5 351.8h0M99.2 331.9h0M139.4 376.4h0M152 386.2h0M124.9 386.9h0M134 388h0M171.7 388.5h0M160.3 383.9h0M119.7 392h0"/>
<path class="n1" d="M125.6 325.3h0M159.4 315.2h0M125.1 313.1h0M152.7 340.1h0M165.7 318.6h0M151.2 309.1h0M167.8 314.4h0M127.9 323.7h0M203 279.8h0M192.5 319.2h0M192.5 319.8h0M138.6 324.1h0M147.2 308.6h0M150.1 342.5h0M135.9 336h0M154 358.8h0M161.1 300.6h0M161.4 317.6h0M169.3 307.7h0M140 305.6h0M170.5 326.1h0M159.6 343.2h0M129.9 325.2h0M125.9 299.4h0M104.6 304.7h0M130.7 316.4h0M162.1 306.2h0M135.3 359.4h0M231.2 321.3h0M133.7 311.9h0M173.9 313.3h0M172 381.2h0M73.6 365.2h0M161.5 310.8h0M101.3 319.4h0M172.1 296.4h0M184.1 339.2h0M117.6 316.4h0M143.8 300.7h0M195.6 331.3h0"/>
<path class="n0" d="M107.4 327.2h0M137.7 335.3h0M129.3 319.4h0M166.9 320.9h0M151.2 326.3h0M129.1 315.5h0M100.5 294.4h0M160.5 336.8h0M141.9 335.4h0M104.9 334.6h0M64.1 401.9h0M131.3 307h0M95.1 347.2h0M143 324.2h0M98.4 324.5h0M134.8 359.1h0M113.8 323.9h0M191.2 369.4h0"/>
<path class="n5" d="M176.3 340.7h0M208.4 379.5h0M119.9 382.6h0M226.3 367.4h0M140.6 402.2h0M194.4 357.4h0M154.4 364.8h0M183 364.1h0M247.8 343.2h0M182.4 368.7h0M241.5 366.8h0M106.5 337.7h0M198.7 375.9h0M151.5 424.7h0M210.4 380.1h0M233.2 388.9h0M221.1 378.3h0M254.6 359.7h0M228.1 332h0"/>
<path class="n5" d="M99.2 350.1h0M195.9 377h0M203.8 369.9h0M209.4 390.3h0M172.7 350h0M189.2 368.4h0M254.3 400.6h0M193 385.4h0M158.7 386.3h0M152.9 398.2h0M194.7 371h0M214.7 360.8h0M215.1 345.3h0M171.8 383.7h0M183.5 364.7h0M168.8 393.5h0M173.5 390.1h0M154 359.3h0M201.7 387.3h0M209.2 373.2h0"/>
<path class="n2" d="M166.2 306.7h0M174.3 301.5h0M170.8 303.7h0M221.1 348.4h0M219.7 361.1h0M216 317.9h0M169 350.4h0M154.2 307.3h0M162 339.1h0M167 313h0M211.9 313.4h0M184.7 298.3h0M156.1 322.2h0M175.7 342.9h0M198.3 313.7h0M203.5 336.8h0M237.7 341.3h0"/>
<path class="n1" d="M160.9 320.3h0M167.7 299.3h0M174.4 316.1h0M141.2 281.4h0M189.8 312.1h0M162.6 408.2h0M141.9 319.9h0M181.1 327.5h0M191.5 300.3h0M171.1 329.7h0M139.4 310.4h0M151.6 324.1h0M148.7 304.9h0M124.7 292.7h0M114.7 307.2h0M146.4 348.2h0M154.1 329.2h0M188.1 333.8h0M116 325.8h0M168.8 295.3h0M137.3 315.1h0M87.8 378.3h0M157.7 327h0M156.7 357.8h0M92.5 389.9h0M141.2 302.8h0M124.6 300.9h0M203.7 308.4h0M139.7 324.8h0M162.3 331h0M133.2 327.6h0M180.6 392.2h0M187.3 306.5h0M120.5 284.7h0"/>
<path class="n4" d="M146.8 395.7h0M127.7 384.5h0M131 399.4h0M143.5 359.9h0M181.4 367.7h0M155.8 377.7h0M144.9 399.4h0M161.9 380.3h0M123.7 402.1h0M137.5 406.9h0M127.5 356.4h0M156.1 376.8h0M136 378.6h0M155.8 390.5h0M142.9 394.4h0M99.8 382.9h0M133.5 388.7h0M185.5 388h0M154.4 383.3h0M143.5 393.3h0M154.9 384.1h0M194.9 380.6h0M165 371.5h0M159.9 371.7h0M152.8 399.4h0M124.2 382.3h0M142.6 379.6h0M167.4 383.3h0"/>
<path class="n0" d="M129.3 336.7h0M104.3 327.1h0M126.8 316h0M169.7 334.5h0M156.2 340.9h0M133.4 321.2h0M132.7 361.4h0M97 330.9h0M110.4 313.6h0M128 320.9h0M91.9 350h0M95.8 316.3h0M62.5 332.5h0M146.1 348.7h0"/>
<path class="n9" d="M82.9 387h0M130.6 402.8h0M75.1 298.5h0M41.8 357.6h0M179.6 301h0M76.1 353.5h0M174.7 410.9h0M49.3 365.8h0M163.7 288h0M63.9 325.9h0M195.1 386.6h0M171.6 398.1h0M168.7 395.6h0M97.8 310.3h0M87 297.3h0M46.9 325h0M110.5 300.7h0M100.4 307.2h0M211.4 393.7h0M141.4 294.1h0M101.3 404.9h0M230.5 322.5h0M202.1 400.6h0M148.1 382.4h0M220.8 383.1h0"/>
<path class="n3" d="M81.4 349.2h0M134.8 362.5h0M147.1 308.4h0M75 350.9h0M112.5 360.6h0M146.2 362.5h0M128.7 317h0M118.9 365h0M144.7 358.8h0M116.3 368.6h0M50.6 366.8h0M108 354.5h0"/>
<path class="n2" d="M205.9 369.5h0M199.8 353.8h0M167.6 351.6h0M157 320.9h0M233.2 335.9h0M186.4 317.1h0M178.6 313.7h0M144 314.1h0M177.4 351.6h0M192.3 337h0M169.1 344.9h0M185.5 315.4h0M146.3 324h0M197.5 348.5h0M185.2 339.4h0M198.5 342.8h0M179.3 298.2h0M179.1 287.3h0M192.7 335.4h0M115.7 312.8h0M171.5 324.1h0M180.7 362.8h0M170.8 331.3h0M177 315.1h0M186.3 332.1h0"/>
<path class="n0" d="M131.1 340.5h0M141.2 312.9h0M93.9 332.6h0M153.9 386.4h0M141.3 343.8h0M189.3 383.2h0M134.2 309.8h0M94.5 322.8h0M163.8 329.6h0M147.4 316.7h0M181.8 291.6h0M165.5 309.4h0M125.4 304.1h0"/>
<path class="n3" d="M137.5 358.9h0M147.7 380.1h0M80.7 384.5h0M134.7 343.6h0M85.4 381.8h0M123.9 366.1h0M132.5 329h0M135.9 353.8h0M157.3 317.4h0M142.9 360.4h0"/>
<path class="n9" d="M134.4 422.7h0M98.9 385.9h0M215.7 392.7h0M115.6 398.2h0M199.5 402.4h0M167.2 409.3h0M160.2 296h0M148.1 414h0M191.6 378.7h0M150.1 406.6h0M90.7 306.8h0M184.2 353.5h0M112.3 394.4h0M191.4 414h0M171.5 293h0M227 344.5h0M151.9 296h0M206.1 308.8h0M130.7 407.8h0M195.9 293h0M77.5 354.3h0M204.4 284.3h0M181.9 299.1h0"/>
<path class="n4" d="M164.7 383.3h0M228 367.7h0M132.2 393h0M182.3 397.9h0M125.5 384.4h0M137.7 392.5h0M163.1 387.3h0M159.6 376.5h0M137.7 325h0M150.3 382.2h0M154.6 380.3h0M140.5 393.1h0M114.7 382.3h0M114.7 380.6h0M134.7 393h0M162.5 381h0M193.1 393.3h0M166.3 391.9h0M146.4 390.1h0M128.2 398.9h0M131.4 382.3h0M137.3 385.9h0M137.6 405.6h0M155.9 295.2h0M139.7 386.6h0M98.7 386.7h0M159.5 387.3h0M140.3 396.7h0M156.1 377.2h0M142 389.7h0M163 373h0M162.6 382.4h0M149.1 403.4h0"/>
<path class="n1" d="M122.2 303.4h0M178.2 299.5h0M113.2 303.9h0M188.7 357.1h0M141 323h0M178 316.3h0M129.4 332.6h0M163.5 321.6h0M153.6 304.3h0M137.3 387.6h0M181.8 303.7h0M129.1 327.2h0M147.5 402.2h0M149.6 329.8h0M138.7 337.3h0M215.9 313h0M112.3 337.4h0M121.1 319.5h0M150.6 293.7h0M174 296.6h0M138.6 301.9h0M79.6 314.8h0M185.3 332h0M129.2 323.8h0M156.9 309.3h0M177 341.2h0M129.6 326.4h0M192 338.5h0"/>
<path class="n5" d="M226.7 354.6h0M219.9 382.4h0M206.3 369.3h0M185.9 420.1h0M202 371.4h0M242.4 391.5h0M211.8 374.6h0M187.4 375.4h0M126.6 332.9h0M199.1 369.1h0M213.2 376.4h0M272.3 357.2h0M224.5 381.6h0M209.2 373.1h0M166.2 365.9h0M186.1 369.2h0M236.3 402.7h0M220.3 359.1h0"/>
<path class="n2" d="M177.5 319.1h0M182.4 338.6h0M167 335.1h0M256.2 348.8h0M196.5 317.4h0M203.6 315.2h0M179.4 348.6h0M165.8 298.9h0M186.9 293.7h0M180.1 313.4h0M243.6 336.5h0M226.5 335.1h0M178.5 338.5h0M197.7 332.2h0M73.3 320.5h0M195.2 302h0M243.1 337.3h0M199.3 303.5h0M179.5 307.9h0M198.2 328.7h0"/>
<path class="n0" d="M128.3 320.5h0M140.8 358.3h0M99.7 334.4h0M119.3 324.6h0M130 350.1h0M126.3 306.2h0M180.3 325.6h0M132.2 337.5h0M146.2 362.4h0"/>
<path class="n9" d="M151.7 401.4h0M169.2 411.1h0M179.7 410.8h0M187.6 298.8h0M145.7 311.4h0M207.6 327.1h0M264 366.5h0M237.6 342.3h0M54.9 288.9h0M132 298.3h0M187.1 314.2h0M15.3 290.4h0M118.4 306.2h0M189.6 313.2h0M146.3 282.2h0M170.7 290.7h0M240.8 371.2h0M200.7 425.9h0M250.4 352h0M206.2 383.9h0"/>
<path class="n1" d="M125.1 322.9h0M163.4 308h0M182.2 344.9h0M173.4 271.7h0M114 324.1h0M164.8 333.8h0M150.3 310.6h0M158.5 368.3h0M136.4 353.6h0M182.9 320.4h0M183 370.3h0M152.6 296.4h0M144.6 321h0M136.6 340.4h0M181.7 300.1h0M187.6 339h0M141.6 302.1h0M154.5 331.5h0M169.9 296h0M208.3 320h0M164.2 337.2h0M164.1 330.3h0M118.2 339.6h0M173.4 300.2h0M161.5 314.3h0M152.8 317.7h0M197.6 308.8h0M136.4 291.2h0M148.1 313.5h0M160.6 307.3h0M154.3 330.7h0M174.4 329.6h0M122.3 315h0M153.6 321.3h0M123.5 401h0M139.5 301.3h0M141.4 320.5h0M143.3 355.2h0M143.3 316.1h0M128.7 332.2h0M112.1 325.8h0M134.2 322h0"/>
<path class="n4" d="M127.9 379h0M166.8 379.1h0M162.2 358.2h0M124.3 398.1h0M157.4 390.8h0M111.5 394.2h0M130.5 387.9h0M28.6 372.4h0M103.2 394.5h0M163.6 411.3h0M125.8 393.7h0M144 407.7h0M131.9 384.4h0M124.1 397.7h0M139.6 378.9h0M191.5 370h0M138.8 376.2h0M178 383.6h0"/>
<path class="n3" d="M157.3 314.4h0M196.7 390.4h0M127.4 366.3h0M134.9 362.2h0M176.5 417.1h0M183.1 304.2h0M130 361.3h0M132.1 364.9h0M109.9 357.3h0M131.5 315.5h0M114 411h0M126.3 362.3h0M180.6 363.5h0M130.5 346.1h0M147.9 350.8h0M136.8 362.4h0"/>
<path class="n5" d="M187.5 404h0M200.1 368h0M126.9 330.7h0M211.1 350.4h0M235.8 364.1h0M263.6 351h0M205.5 357.1h0M158.8 351.8h0M227.8 358.6h0M202 347.5h0M210.9 373.9h0M222.2 377.6h0M233.4 381.1h0M211.1 356.9h0M227.5 425.6h0M180.3 369.5h0M193.3 391.9h0M231.7 385.9h0M175.4 363h0M214.4 375.8h0M195.5 390.4h0M236.7 371.2h0M211.1 388.8h0M225 365.2h0M206.5 393.7h0"/>
<path class="n1" d="M158.6 323.6h0M159.1 330.9h0M123.7 338.8h0M122.3 314.6h0M128.1 335.3h0M154.2 326.9h0M168.6 330.4h0M165.7 330.2h0M144.9 315h0M145.3 293.4h0M174.2 296.8h0M106.6 304.9h0M170.5 313.3h0M153.2 324.8h0M158.8 331.1h0M151.9 299.8h0M131.1 308.9h0M178 322.1h0M110.5 318.3h0M152.7 306.9h0M195.8 363.1h0M166.5 311.7h0M89.3 327.1h0M176.7 303.1h0M130.3 307.9h0M158.1 294.6h0M104.6 319.1h0M54.6 321.5h0M127.9 321.7h0M113.6 318.6h0M91.9 386.9h0M105 334.5h0M165.7 312.7h0M146.2 348.7h0M148.3 302.1h0M165.9 303.2h0M158.9 329.5h0M169.2 320.7h0M179.8 333.9h0M108.2 327.9h0M129.8 335.3h0M134.2 403.7h0M122.2 303.4h0M155.8 321.2h0M159.5 330.4h0M125.1 408.2h0"/>
<path class="n9" d="M161.9 377.1h0M95.4 382.1h0M83.4 370.7h0M221.6 382.6h0M173.9 296.7h0M78.2 311.9h0M181.6 408.5h0M186.2 394.1h0M241 306.4h0M224.9 321.8h0M135.4 406.9h0M200.7 332.1h0M256.8 353.6h0M120.4 322.1h0M214 389h0M139.5 409.2h0M228.7 392h0M232.7 338.6h0M57.5 317.1h0M125 401.7h0M257.1 339.8h0M228.5 309.3h0M208.2 376.6h0M86 388.7h0"/>
<path class="n0" d="M105.7 343.5h0M105 340.8h0M115.3 323.5h0M133.1 301.1h0M140.3 309.1h0M124.6 322.9h0M56.2 280.3h0M105.9 312.2h0M164.6 343.4h0M169.6 365.8h0M90 290.4h0"/>
<path class="n3" d="M148.3 364.6h0M137.6 363.3h0M141.5 379.3h0M138.4 405.4h0M121.5 354.7h0"/>
<path class="n4" d="M149.7 388.1h0M137.7 382.8h0M114.2 395.3h0M121.5 385.9h0M123 393.4h0M170.4 401.8h0M153.7 386.8h0M114.5 368.9h0M150.5 389h0M159.3 377.8h0M134.3 388.1h0M152.7 361.9h0M225.3 370.4h0M125.8 367.3h0M173.6 371.4h0M100.4 379h0M130.2 378.1h0M148.6 381.7h0M153.7 399.8h0M146.5 390.3h0M177.4 395.4h0"/>
<path class="n2" d="M191.5 312.2h0M175.5 352.4h0M176.3 363.7h0M208.2 346.2h0M166.7 314.2h0M150.9 385.1h0M152.2 361.6h0M182.1 332h0M202.7 328.9h0M142.1 314.1h0M181.9 319.5h0M161.7 392.9h0M148.1 289.9h0M185.2 381.5h0"/>
<path class="n5" d="M187.4 370.8h0M171.8 385.1h0M224.2 354.1h0M201.1 378.8h0M195.7 379.5h0M148 308h0M207.8 382.7h0M203.8 393.6h0M157.8 394.1h0M169 377h0M200.8 331.5h0M145.5 300.9h0M214.1 370.5h0M249.8 347.6h0M150.5 370.6h0M198.7 367.9h0M225 378.4h0M205 366.7h0M164 330.9h0M239 336.6h0M157.1 383.1h0M177.4 400.4h0M216.3 352.2h0M240.4 356.9h0M200.1 349.7h0M234.8 371.7h0M242.2 326.9h0M196.2 396.7h0M129.5 370.5h0"/>
<path class="n0" d="M133.1 343.4h0M177.5 328.7h0M243.1 287.5h0M91.6 354.8h0M159.7 393.3h0M140.1 314.3h0M83.6 333.1h0M95.3 354h0M136.3 356.1h0M107 346.9h0M126.6 336.3h0"/>
<path class="n1" d="M179.6 341.5h0M215 339.1h0M162.9 280.5h0M134.4 315.1h0M157.4 344h0M179.1 343.7h0M150.8 309.6h0M109.9 336.3h0M181.9 327.2h0M273 320.8h0M139.8 351.6h0M136 310.4h0M120.7 348.1h0M193.6 407h0M150.7 409.7h0M144 296.7h0M145.7 364.4h0M177.4 353.1h0M133.1 294.4h0M143.8 343.4h0M141.7 341.2h0M207.5 316.8h0M129.6 307.8h0M146 324.6h0M145.2 291.7h0M205.9 387.4h0M168.2 404.2h0M202.9 316.1h0M146.8 299.3h0M138.1 305.4h0M173.2 383.2h0M167.2 334.1h0M144.7 308.2h0M142.3 317.6h0M179.8 320.3h0M99.3 319.1h0M167.9 316.2h0"/>
<path class="n9" d="M88.2 374.8h0M217.7 373.7h0M232.7 369h0M224.2 338.3h0M155.5 374.1h0M234.6 371.9h0M82.7 334h0M70.7 347.3h0M179.8 334.1h0M141.1 407.5h0M248.1 369h0M138.8 298h0M145.7 293.7h0M234.3 386.7h0M135.7 398.5h0M195.5 396.4h0M170.2 401.8h0M255 352.2h0M210.8 374.9h0M71.7 347.8h0M255.2 357.1h0"/>
<path class="n4" d="M143.3 389.5h0M113.7 381.5h0M137.8 375h0M163.8 384.5h0M142.3 365.6h0M155.5 373.3h0M226.1 379.1h0M170.9 378.1h0M148.1 387.2h0M133.9 381.2h0M175.6 396.4h0M188.5 404.6h0M144.2 391.2h0M145.6 387.9h0M136.2 379.8h0M141.2 395.5h0M155.1 380.6h0M120 385.1h0M141.4 370.3h0M186.8 388.7h0M152 374.8h0M128.3 385.3h0M125.1 371.9h0M135.3 381.9h0M157.9 372.8h0M212.1 348.5h0M139.8 401.7h0"/>
<path class="n3" d="M147.1 347.9h0M134.6 363.6h0M175.1 347.3h0M131 335.3h0M99.6 344.5h0M128 385.1h0M125.4 362.1h0M131.1 353.9h0M142.8 347.9h0M162.2 348.4h0M120.5 348.6h0"/>
<path class="n2" d="M168.8 306.8h0M176.8 324.9h0M172 314.1h0M122.8 378.9h0M189.7 301.3h0M177.9 313.3h0M190.1 313.8h0M181.3 329.3h0M196.7 300.2h0M244.7 340.8h0M189.7 334.2h0M173.2 339.5h0M221.5 304.8h0M195.8 317.9h0M162.6 312.3h0M170 343.7h0M189.5 315.9h0M172.9 315.2h0M187.3 333.5h0M169.5 340.1h0M223.9 314.6h0M73.3 320.2h0M226.9 343.8h0M158.4 350.7h0"/>
<path class="n5" d="M229.6 371.4h0M202.4 387.8h0M226.5 362.2h0M187.7 383h0M224.2 356.7h0M289.9 355.6h0M192.7 377.4h0M230.4 360.1h0M207.7 380.2h0M225.1 382.9h0M159 366.1h0M233.9 368.7h0M162.5 354.6h0M225.2 366h0M208.4 372.8h0M194.1 369.6h0M214.7 415.5h0M209.7 361.1h0M185.3 371.9h0"/>
<path class="n5" d="M196.6 373.4h0M185.4 389.9h0M182.2 379.7h0M197.4 394.1h0M117.3 302.8h0M187.9 404.3h0M205.4 400.7h0M215.3 345.4h0M199 347.7h0M184.1 362.1h0M206.9 378h0M202.7 386.3h0M164.8 318.6h0M176.9 382.3h0M192.5 389.9h0M179.3 378.8h0M181.2 395.3h0M200.7 390.5h0M184.8 377.7h0"/>
<path class="n0" d="M129.3 308h0M127.2 312.4h0M125.6 327.2h0M132.2 324.6h0M123.3 356.3h0M149.3 307.7h0M100.5 321.4h0M99.2 343.5h0M103.9 332.8h0M134.1 311.5h0M72.6 327.7h0M106.1 340.6h0M89.1 329.4h0M115.1 302.4h0M136.6 297.2h0M116.7 296.7h0M140.6 297.7h0"/>
<path class="n1" d="M55.4 311.1h0M182.4 329.3h0M189.6 319.7h0M197.5 317.2h0M80.8 366.8h0M147.6 329.3h0M125.6 335.2h0M89.1 375.8h0M130.6 320.1h0M172.2 304.9h0M98.1 359.4h0M168.5 302.3h0M203.1 333.4h0M118.1 302.1h0M101.4 310.1h0M143.7 344h0M164.9 347.6h0M162.9 314.3h0M162.1 331.9h0M148.5 334.5h0M129.6 312.1h0M153.9 290h0M161.5 334.8h0M247.2 342.4h0M176.1 322.6h0M163.1 317h0M247.2 338.7h0M171.4 343.4h0M164.2 331.4h0M162.8 332.7h0M142.9 353.6h0M165.3 328.2h0M144 298.2h0M109.9 312.1h0M163.6 298.3h0M139.8 347.5h0M128 401.8h0M144.8 370.2h0M133.4 287.7h0M193.1 303h0M170.5 295.3h0"/>
<path class="n2" d="M141.9 333h0M154.7 331.6h0M203.9 305.7h0M222.6 337.5h0M172.5 350h0M203 345.7h0M177 327.9h0M209.5 330.8h0M144.7 336.3h0M183.7 345.6h0M203.1 307.3h0M207.9 305.1h0M195.3 344.3h0M155 349.7h0"/>
<path class="n4" d="M221.9 379.7h0M153.4 376.4h0M181.7 377.5h0M145.5 391.7h0M98.2 405.8h0M117.7 368.4h0M157.9 385.8h0M169 385.4h0M119.7 410.4h0M163.1 364.3h0M153.8 387.1h0M129.2 386h0M149.6 385.4h0M148.6 380.5h0M190.6 398.7h0M168.8 397.8h0M118 378.1h0M161.4 396.4h0M187.7 379.7h0M125.2 362.7h0M152.6 390.4h0M122.2 383.3h0M122.8 394.1h0"/>
<path class="n3" d="M128.1 360.1h0M111.8 362h0M148.7 360.9h0M269.5 375.8h0M126.6 351h0M150.5 363.5h0M147.2 334.3h0M119.3 371.1h0M108 305.2h0M172.8 302.5h0M109.5 354h0M122.3 355.4h0"/>
<path class="n9" d="M141.5 284.4h0M125.1 281.4h0M88.5 382.1h0M134.6 403.9h0M170.7 418.1h0M104.4 309.7h0M132.6 299.1h0M124.9 342.5h0M184.9 334.5h0M130.8 297.7h0M105.9 298.1h0M253.7 356h0M271.7 339.4h0M77.3 366.1h0M174.6 303.3h0M79.3 367.7h0M164.4 394.7h0M195.7 346.9h0M216 386.4h0M179.6 297.7h0M235 374.4h0M38.2 345.8h0M222.6 373h0M131.5 396.4h0"/>
<path class="n1" d="M158.9 329.8h0M166.3 330.2h0M143 352h0M234.9 339.8h0M122.6 326.5h0M136.7 326.1h0M114.8 329.5h0M178 300.9h0M150.6 354.6h0M163.5 302.6h0M232.2 341h0M166.4 345.1h0M168 326.1h0M135 348.8h0M149.1 319.5h0M134.6 332.2h0M164.8 319.1h0M166.9 307.3h0M155.6 331.1h0M151.3 312.7h0M170 317.9h0M169.8 302.7h0M145.6 323.3h0M193.3 322.5h0M149.1 317.8h0M201.1 309.5h0M133.7 328h0M128.5 331h0M245.8 341.2h0M169.4 302.7h0M160.4 354.5h0M153.1 316.7h0M155.3 311.9h0M104.6 323.5h0M150 319.4h0M149 318.2h0"/>
<path class="n9" d="M195.9 321h0M118.5 300.8h0M138.1 405.1h0M123.9 302.3h0M234.6 326.1h0M171 411h0M231.8 347.1h0M181.9 338.4h0M115 302.3h0M119.2 379.7h0M203 303.2h0M230.7 305.7h0M212.8 385.9h0M202.3 406h0M208.5 300.3h0M197.3 301.6h0M151.8 285h0M175.2 286.4h0M236.5 329h0M228.3 346.3h0M208.1 292h0M213.9 328.8h0M97.6 346.8h0"/>
<path class="n2" d="M224.4 292.3h0M239.7 323.2h0M209.1 305.5h0M177.2 346.3h0M142.8 331.3h0M147.7 335.3h0M202.5 298.4h0M189.8 354.2h0M157.6 308.8h0M214.3 335.9h0M193.1 311.4h0M165.7 346.9h0M167.2 308.3h0M180.7 326.9h0M195.1 343.5h0M137.3 300.6h0M187.8 337.6h0M160.9 338.6h0M168.8 362.7h0"/>
<path class="n4" d="M154.2 382h0M136.3 394.8h0M72.3 364.1h0M146.8 407.1h0M150.2 378.8h0M168.3 402.1h0M146.6 374.2h0M128.9 382.7h0M141.3 380.5h0M163.7 388h0M121 380.2h0M153.3 367h0M161 386.2h0M121.4 388.7h0M146.1 384.9h0M161.1 370.3h0M140 383.1h0M137.7 377.4h0M178.8 380.6h0M130.2 389.7h0M125.4 361.1h0M129.6 382h0M128 375.2h0M167.2 390.6h0M126.5 381.5h0M171.4 382.5h0M141.9 384.8h0"/>
<path class="n0" d="M136.9 256.8h0M121.3 318.4h0M112.8 334.4h0M150.8 292.9h0M72.3 345.7h0M135.1 329h0M106.3 324.2h0M137 338.5h0M132 307.9h0M154.3 316.6h0M78.5 348.3h0M110.2 339.1h0M131.6 324.1h0M126 360.3h0M117.5 307.3h0M139.9 313.8h0"/>
<path class="n3" d="M152.4 359.3h0M138.8 359.8h0M152.9 355.9h0M126.8 359.5h0M78.3 380.2h0M175.1 342.1h0M142.8 369.2h0M174.5 344.7h0"/>
<path class="n5" d="M134.5 392.6h0M258.7 357.4h0M182 379.6h0M264.9 345.2h0M225.5 345.4h0M184.6 382.7h0M209.2 372.7h0M226.9 353.7h0M240.3 405.2h0M212.4 350.2h0M200.4 382.7h0M198.4 380.8h0M200.6 369.9h0M222.3 366.1h0M229.4 358.3h0M198.3 385.7h0M157.8 383.9h0M178.3 395.9h0M218.3 370h0M208.6 391.2h0M202.4 390.1h0"/>
<path class="n4" d="M138.1 375.6h0M143.8 343.2h0M116.4 365.6h0M149.1 398.9h0M168.7 386.1h0M141.7 377.8h0M137.1 382.3h0M143.3 389.4h0M137.9 368.8h0M182.4 314.2h0M76.2 411.8h0M129.5 361.3h0M134 379.2h0M190.9 306.7h0M147.5 378.6h0M114.9 362.3h0M132.2 402.9h0M112.2 333h0M164.3 397.9h0M176.9 423h0"/>
<path class="n9" d="M87.5 325.5h0M83.7 381h0M153.7 359.8h0M100.7 355.2h0M86.8 324h0M173.9 400h0M60.3 370h0M213.7 314h0M227.5 388.8h0M233.8 329.1h0M260.1 350.5h0M91.2 322.7h0M213 377.5h0M86.5 385.5h0M223.9 344.6h0M118.3 297.9h0M90.2 316.7h0M105.5 363.2h0M234.4 326.3h0M190.6 406.8h0M80.8 350.4h0M144.5 276.6h0M81.7 333.3h0M128.3 396.3h0M130.1 404.7h0M92.6 316h0"/>
<path class="n2" d="M184 339.7h0M196.2 333.1h0M164.4 319.7h0M183.3 315h0M186.5 306.7h0M190.6 321.5h0M190.5 307.1h0M141.5 303.4h0M183.7 329.5h0M183.6 314h0M140.1 373.3h0M203.7 355.7h0M178.6 338.3h0M253.7 338.9h0M149.8 299.1h0M181.6 302.4h0M151.5 334h0M163.1 331.6h0M205.3 339.7h0M188.4 332.5h0M190 375.3h0M181.3 317.6h0M181.8 301.1h0M194.4 335.1h0"/>
<path class="n1" d="M127.5 308.6h0M131.6 336.7h0M115.4 303h0M156.2 330.7h0M171.4 327.5h0M141.5 306.4h0M171.7 304.3h0M147.1 336.4h0M149.9 312.7h0M133.6 331.4h0M140.9 326h0M183.4 319h0M147.6 312.1h0M166.2 413.2h0M161.3 381.9h0M157.5 342.6h0M204.3 322.7h0M130.5 299.8h0M153.5 372.6h0M162.9 327.6h0M135.6 348.3h0M119.8 291.6h0M146.4 312.3h0M151.7 325.9h0M147.1 333.3h0M152.4 340.4h0M121.8 386.6h0M182.8 339.1h0M187 407.7h0M159.4 314.6h0M193.2 332.7h0M119.3 312.1h0M145.4 316h0M168.2 345.4h0M153.8 330.1h0"/>
<path class="n3" d="M72.4 352.4h0M136.8 358.9h0M77 408.9h0M116.8 360.4h0M113.4 356.5h0M134 365.9h0M116.1 374.5h0M71.1 392.2h0"/>
<path class="n5" d="M196.3 353.1h0M208 435.4h0M193.9 378.8h0M166.7 365.6h0M221.2 350.6h0M210.6 380.9h0M241.4 346.3h0M214.4 384.8h0M200.8 369.6h0M164.6 357.5h0M223.8 369.2h0M237.8 357.3h0M208.6 394.6h0M201.7 320.5h0M191.4 368.6h0M121 385.6h0M204 396.8h0M172.5 363.9h0M137.2 344.6h0M182.3 396.7h0"/>
<path class="n0" d="M151.2 292.5h0M125.9 328.6h0M155 326.5h0M106 351.1h0M131.4 334.3h0M69.8 308.8h0M145.5 341.9h0M118.6 315.5h0M110.2 328.5h0M77.1 327.6h0M156.6 331.4h0M110.6 382.2h0M109.2 290.9h0M116.3 329.2h0M114.6 341.6h0M146.6 338.6h0M93.8 337.3h0"/>
<path class="n5" d="M238.8 331.5h0M189.6 357.3h0M265.7 359.1h0M201.3 351.3h0M149.7 406.8h0M231.4 372.1h0M202.3 385.4h0M193 366.9h0M216.4 368.8h0M202.1 386.7h0M259.1 407.7h0M119.8 368.6h0M214.1 380.1h0M204.1 390.3h0M218.1 383.5h0M231.1 340.4h0M152.4 368.7h0M210.1 360.4h0M229.9 336.1h0M244.2 335h0M254 385.2h0M171.6 410.4h0M192.9 381.9h0M209.5 373.5h0M191.8 378h0"/>
<path class="n4" d="M136 386.4h0M136.9 388.7h0M125.5 371.2h0M141.9 388.2h0M200.9 365.4h0M148.3 303.3h0M154.5 397.2h0M130.7 391.3h0M135.6 370.7h0M143.9 391.3h0M157.7 382.7h0M123.2 394.1h0M146.8 393.3h0M133.4 377.5h0M144.2 378.9h0M88.6 324.1h0M142.6 381.4h0M117.3 388.9h0M157.3 391.3h0M162.3 394.8h0M161.9 390.3h0M152.1 358.5h0M175.6 371.8h0M148.5 312.4h0M164.5 304h0M127.5 384.8h0M115.4 385.5h0"/>
<path class="n3" d="M242.3 350.8h0M191.5 363.9h0M131 288.1h0M197.1 305h0M170.4 351.3h0M158.7 362.7h0M170.2 355.1h0M134 368.4h0M186.5 347.1h0M149.5 351.5h0M159.6 359.3h0M115.6 358.9h0M158.4 359.2h0M200.8 375.4h0M126.4 356.7h0M73.7 344.7h0"/>
<path class="n2" d="M190.3 330.6h0M157.2 341.2h0M212.1 303.9h0M238.5 333.8h0M169.3 317.8h0M211.4 345.5h0M199.9 337.1h0M192.5 309.9h0M168.1 321.2h0M146.7 289.7h0M154.6 340.4h0M159.5 339.9h0M200.6 353.2h0M177.1 322.5h0M170 323.1h0M165.3 354.2h0M199.8 330.5h0M185 292.5h0M192 361.6h0M226.9 339.7h0M173.1 323h0M170.2 323.3h0M175.7 342.1h0M178.6 330.7h0M216.2 330.1h0M166.2 333.7h0"/>
<path class="n0" d="M149.3 293h0M119 321.6h0M99.2 335.9h0M117.5 328.1h0M107.3 291.5h0M114 343.7h0M110.9 331.4h0M138.6 317.8h0"/>
<path class="n9" d="M205.1 455.1h0M117.9 405.5h0M205 305.2h0M236.7 328.5h0M231.2 325.8h0M118.9 410.8h0M226.8 324.4h0M69.1 329.5h0M175.1 412.6h0M150.9 403.3h0M217.7 318.4h0M211.5 390.6h0M230.6 343h0M204.2 301.7h0M177.9 296.1h0M219.5 330.6h0M245.3 336.3h0"/>
<path class="n1" d="M272.9 320.7h0M142.6 302.4h0M158.8 325.8h0M190.3 346.1h0M174.3 349.6h0M124.1 405h0M205.4 331.6h0M140.4 324.4h0M136.3 299.2h0M134.9 330.2h0M167.8 291.7h0M293.9 315.3h0M199.8 335.4h0M162.8 330.7h0M149.9 332.3h0M188.6 349.5h0M113.9 308.6h0M146 301.9h0M176.4 295.9h0M154.1 349.7h0M157.5 309.1h0M231.5 395.5h0M96.9 313h0M126.6 341.6h0M139.8 324.8h0M139.8 318.4h0M162.3 323.9h0M174.4 323.9h0M121.3 321.4h0M143.7 308.5h0M262.5 363.5h0"/>
<path class="n9" d="M160.2 411.5h0M117.9 407.2h0M253.1 354.5h0M207.6 396.2h0M224.1 314.6h0M163 295.3h0M143.1 390.6h0M193.2 407.1h0M148.9 291.9h0M74.3 367.8h0M150.7 374.8h0M179.4 401.3h0M325.2 380.1h0M140 292h0M193.1 310.4h0M205.7 304.4h0M198.2 388.6h0M139 307h0M196.1 303.1h0M168.5 352.9h0M233.5 333.9h0M201.1 324.2h0M304.6 360.9h0"/>
<path class="n2" d="M160.4 288.6h0M219.5 286.6h0M199.6 338.3h0M198.5 355.1h0M144.6 335.2h0M197.9 304.3h0M174.5 294h0M180.1 367.3h0M201 334.8h0M178.3 300.8h0M198.5 344.9h0M186.2 340.2h0M170.7 322.9h0M203.5 354h0M172.1 334.5h0M187.3 322.8h0M194 321h0M207.7 329.4h0M192.5 289.9h0M167.7 353.5h0"/>
<path class="n0" d="M135.7 312.8h0M115 339.1h0M144.6 319.7h0M149.4 337.1h0M133.5 340.2h0M141.9 309.3h0M118.2 332h0M120 359.9h0M71.4 352.1h0M117 332.3h0M136.7 333.2h0M108.9 352.3h0M119.8 329.8h0M120.3 321.6h0M142.2 313.3h0M145 335h0M123.3 321.7h0M86.2 336.2h0"/>
<path class="n3" d="M184.7 376.6h0M126.5 354.4h0M103.3 327.6h0M129.2 354.3h0M148.8 365.2h0M179.8 298.4h0"/>
<path class="n4" d="M144.8 398.3h0M136 353.3h0M148.2 390.1h0M89.5 381.5h0M123.5 374.4h0M107.2 381.4h0M179.1 381h0M152.5 367.1h0M122.4 387h0M202.7 343.4h0M119.9 400.7h0M150.2 393.4h0M162.2 374.4h0M134.4 373.7h0M111.8 396.8h0M99.1 394.4h0M137.7 367.2h0M144.5 379h0M160.2 393.5h0M125.9 377.1h0M110.5 385.4h0M156 380.7h0M141.8 396.3h0M175.4 378.9h0M131.3 387.2h0"/>
<path class="n5" d="M214.4 369h0M135.6 304.2h0M218.9 384.5h0M190.2 387.4h0M192.8 382.7h0M187.9 351.9h0M179.4 384.1h0M213.4 370.1h0M224.6 378.6h0M132.5 401.3h0M182.4 401.9h0M214.5 374.7h0M206.6 373.2h0M195.3 347h0M209.6 392.1h0M201 394h0M243.2 429h0"/>
<path class="n1" d="M130.5 327.8h0M64.7 354.2h0M101.4 354.2h0M137.2 320.9h0M200.5 322.5h0M176.4 353.9h0M179.3 299h0M166.2 311.7h0M202.2 361.1h0M132.5 330.1h0M147.3 326.9h0M152.4 335.2h0M142.2 315.5h0M107 333.8h0M125.4 291.1h0M121.8 313.3h0M158.8 295.6h0M175.5 301.8h0M143.3 310.7h0M190.1 346.2h0M128.9 327.9h0M233.2 285.8h0M148.5 297.1h0M166.7 322.2h0M95.3 343.8h0M147.6 315.8h0M28.6 334.1h0M189.9 330.8h0M154.4 294.5h0M157.6 300.7h0M120.9 324.6h0M121.2 329.6h0M176.6 316.1h0M135.9 327.4h0M176.9 392.4h0M165.8 409.4h0M137.2 296.1h0M206.6 335.8h0M165.5 335.3h0M149.5 341.9h0M145.7 321.9h0"/>
<path class="n5" d="M254.2 327.1h0M217.3 369.4h0M181.9 411.8h0M215.5 375h0M231.9 335.1h0M205.9 381.8h0M145.3 370h0M193.6 425.3h0M229 325.5h0M210.8 335.6h0M143.2 353.5h0M188.1 324.8h0M181.8 379h0M194.2 381.4h0M165.8 396.1h0M211.7 356.5h0M190.1 353.9h0M219.3 381.2h0M247.7 346.5h0M204.1 385.5h0M146.8 317.4h0M222.9 366.4h0M215.1 380.9h0M196.5 381.8h0M198.6 369.1h0"/>
<path class="n2" d="M199.7 312.1h0M143.5 348.6h0M217 330.2h0M183.6 318.4h0M179.6 342.1h0M218.3 312.9h0M195.8 353.8h0M173.3 326.8h0M153.6 316h0M162.6 349.5h0M174.2 318.5h0M199 304.1h0M216.6 343.7h0M189.1 341.5h0"/>
<path class="n1" d="M165.9 319.8h0M169.4 301.6h0M133.6 343.4h0M137.1 338.8h0M190.1 378h0M109.2 321.2h0M124.4 403.1h0M109 312.8h0M134.1 311.5h0M177 325.2h0M164.9 327.3h0M178.5 354.6h0M125.3 313.1h0M118.8 306.5h0M124.3 310.4h0M191 359.2h0M143.3 328.6h0M163.4 321.4h0M214.2 308h0M127.8 352.7h0M148.3 317.1h0M159.6 349.4h0M187 310.7h0M142.6 303.8h0M169.2 296.5h0M170.1 295.4h0M126.1 320.5h0M146.2 326.5h0M137.9 328.8h0M173.5 345.3h0M193.4 314.7h0M271.9 351.5h0M154.3 309.3h0M194.5 308.5h0M107.7 314.7h0M158.3 313.5h0M128.2 366.7h0M113.2 320.4h0"/>
<path class="n3" d="M185.7 310.2h0M141.6 359.7h0M154.3 346h0M113.3 362.1h0M131.2 359.6h0M146 352.4h0M126.8 350.5h0M118.7 322.5h0M132.1 393.4h0M107.9 363.6h0M149.3 320.7h0M110.9 349.5h0M128.8 363.5h0"/>
<path class="n9" d="M181.2 309.2h0M90.3 396.8h0M143.1 297.5h0M246.3 341.5h0M174.8 399h0M213.2 400.9h0M282.3 304.9h0M123.2 318.8h0M164.5 290.6h0M114.3 379.9h0M249.7 343.5h0M147.6 389.7h0M196.6 308.1h0M79.3 324h0M221.3 382.5h0M106.4 392.7h0M147.5 295.1h0M197.3 297.4h0M186.7 392.5h0M132.2 414h0M213.6 331.4h0M233.6 368.5h0M122 403h0M20.5 360h0M106.6 372.9h0M283.2 364.4h0"/>
<path class="n4" d="M146.1 380h0M154.8 379.3h0M147.2 376.8h0M168.5 324.2h0M162.8 374.2h0M144.2 401.3h0M131.7 394.5h0M97.5 387.1h0M129.7 397.9h0M164.3 309.5h0M149 384.2h0M93.3 410.9h0M147.2 367h0M152.4 403h0"/>
<path class="n0" d="M107.9 315h0M140.1 321.7h0M86.5 330.2h0M133.5 317.4h0M101.1 298.9h0M152.6 287.1h0M61.5 342.9h0M92.4 317.3h0M129.5 337h0M120.9 351.6h0M111.4 352.5h0M138.4 332.6h0M101.3 292.1h0M124.5 340.8h0M105.1 325.6h0M115.3 297h0M86.7 350.4h0M142.3 320.1h0M153 322.7h0M101.7 360.2h0"/>
<path class="n3" d="M127.6 395.7h0M143.2 357.7h0M121.9 353.6h0M154.8 407.7h0M91.1 394.3h0M175.9 364.5h0M125.3 373.6h0"/>
<path class="n2" d="M187.1 324.9h0M166.9 349.4h0M179.5 318.4h0M179 314h0M201.8 354h0M172.7 278.8h0M238.8 324.5h0M184.7 352.5h0M158.4 328.1h0M159.1 298.1h0M216.6 315.7h0M186.8 317.6h0M227.7 360.6h0M130.3 320.2h0M157.2 321.1h0M158.6 322.9h0M217.8 320.4h0M189.7 326.4h0M212.8 316.8h0"/>
<path class="n1" d="M149.5 296.6h0M159 293.9h0M199.9 315.9h0M153.1 297.7h0M105.5 342.4h0M86.7 336.1h0M170.3 348.6h0M183.8 303h0M183.8 322.6h0M148.7 297.2h0M130 294.7h0M156 351.8h0M160.5 294.7h0M139.9 341.1h0M148.8 332.7h0M201.7 323.4h0M160.6 300.5h0M147.7 321.2h0M137 360.5h0M137 315h0M161.6 318.3h0M138 330.1h0M133.5 329.4h0M107.3 308h0M171.4 318.4h0M167.8 336.8h0M134 303.6h0M202.4 337.9h0M125.3 279.7h0M177.8 317.5h0M144.2 306.2h0M146.4 341.7h0M130.9 343.9h0M217.6 315.1h0M134.2 393.1h0M209.4 318.1h0M146.6 318.7h0M163.6 324.7h0M123.2 335.7h0M123.9 303.2h0"/>
<path class="n4" d="M155.1 389.6h0M137.9 370.3h0M156.9 376.4h0M148.3 383.7h0M133 373.2h0M166.5 384.6h0M187.1 336.2h0M131 381.5h0M110.4 381.3h0M115.5 409.9h0M169.4 388.3h0M123 394h0M140.3 396.8h0M180.5 374.2h0M156 393h0M123.2 326.5h0M120.1 415.6h0M109.7 375.2h0M186.7 385.2h0M238.3 327.5h0"/>
<path class="n0" d="M150.4 330.4h0M115.4 345.2h0M124.2 342.5h0M118.2 350.7h0M113.9 325.6h0M126.3 322.7h0M105.9 358.7h0M144.2 320.9h0M127.4 331h0M164.3 328.9h0M102.3 342.8h0M160.5 303.3h0M198.9 357.9h0M30.1 331.4h0M108.7 339.9h0M131.3 344.5h0"/>
<path class="n9" d="M120.7 399.6h0M82.6 367.2h0M193 405.2h0M177.4 419.1h0M113.9 397.9h0M218.6 396.1h0M230.3 337.4h0M164.7 299.5h0M187.1 395h0M185.6 315h0M211.6 391.2h0M81.1 378.8h0M189.3 403.9h0M253.3 333.8h0M175.7 285.8h0M118.2 379.8h0M114.4 324.3h0M219.4 397.9h0M84.6 340.6h0M193.9 302.7h0M131.2 394.4h0M138.5 413h0M197.5 301.7h0M247.5 346.8h0"/>
<path class="n5" d="M181 368.7h0M204 379.4h0M189.1 370.8h0M197.8 401.3h0M227.9 424.8h0M219.2 354.4h0M168 419h0M237.7 367.7h0M121.5 393.5h0M216.4 391.6h0M164.8 322.3h0M191.1 407.6h0M202.1 372h0M203 377.3h0M118.5 389.4h0M195.2 400.2h0M157 387.9h0M216.8 321.9h0M185.7 374.6h0M229.6 376.6h0M220.7 317.1h0M187.2 400.4h0M184.5 373.6h0M172 312.1h0"/>
<path class="n4" d="M163.6 371.9h0M134.1 376.3h0M151 361.9h0M124.1 374.7h0M143.4 391.2h0M90.4 381.6h0M112.1 380.4h0M123.8 378h0M146.8 409.7h0M144.1 384.7h0M155.6 385.8h0M117 379h0M131.3 343.9h0M143.9 328h0M124.9 363.4h0M135.8 370.6h0M175.9 386.8h0M156.7 379.8h0M140.1 412.2h0M165.1 378.8h0M108.5 395.3h0M153.8 391.5h0"/>
<path class="n2" d="M193.4 302.9h0M185.9 350.4h0M174.1 335.3h0M277.2 357.2h0M152.6 345.4h0M162.2 331.3h0M183.8 314.2h0M203.9 339.6h0M209.6 309.4h0M161.5 353.8h0M218.1 327.2h0M147.6 361h0M190.3 341.1h0M217.4 348.4h0M210.9 339h0M176.6 330.9h0M157.8 378.3h0M162.1 315.2h0"/>
<path class="n3" d="M72 350h0M140.3 361.1h0M138.5 355.9h0M237.8 360.5h0M106.8 360.2h0M129.6 361.4h0M135.9 370.5h0M137.7 345.1h0M103.7 369.8h0"/>
<path class="n1" d="M157.3 294.9h0M188.2 295.9h0M159.8 417h0M160.1 347.7h0M177.4 319.7h0M142.3 308.3h0M116.2 345h0M128.2 337.3h0M200.4 399h0M170.6 395.6h0M115.1 312.9h0M188.7 316.8h0M72.1 394.2h0M169.7 316.7h0M193.4 325.9h0M160.2 319.5h0M161.3 308.4h0M171.8 323.1h0M156.3 312.7h0M159.6 314.3h0M76.7 292.6h0M160.6 320.3h0M159.9 346.3h0M145.3 340h0M222.6 342.3h0M162.3 351h0M154.1 302.6h0M155.1 322.5h0M146.2 312h0M174 295.8h0M122 324h0M131.7 319.8h0M174.9 327.1h0M176.8 301.1h0M118.1 299.2h0M189.9 333.9h0M121.2 304.9h0M240.7 332.1h0M206.7 310.5h0M198.8 315.2h0M164.6 321.8h0M151.2 313.3h0M168 348.3h0M98.3 363.8h0M146 325.3h0"/>
<path class="n5" d="M184.5 405.3h0M221.5 389.5h0M205.1 383.6h0M185.9 398.2h0M219.5 370.6h0M237.7 358.7h0M216.3 378.4h0M190.4 367.3h0M186.4 369.8h0M263.5 350.2h0M182.5 363.8h0M210.9 326.4h0M220.7 361.2h0M194.8 361h0M252.3 363.7h0M178.4 406h0M176.8 385.3h0M260.9 350.3h0M188.1 374.2h0M192.8 396.3h0M129.9 324.9h0M180.2 398.5h0M147.3 350.7h0M184.6 373.7h0"/>
<path class="n0" d="M142.2 324.9h0M124.1 336.4h0M114.1 341.9h0M113.4 346.7h0M135.4 311.4h0M128.9 319.7h0M157 329.5h0M145.8 338.9h0"/>
<path class="n9" d="M118.6 399.4h0M210.7 390.9h0M81.9 341.8h0M152.1 324.6h0M78.3 333.2h0M105.4 399.2h0M191.5 300.8h0M171.6 306.7h0M166.1 293.8h0M169.3 440h0M47.7 353.2h0M214.6 397.4h0M203.9 398.5h0M132.2 398.5h0M190.1 404.6h0M78 375.7h0M110.8 425.3h0M194.2 302.7h0M46.4 325.2h0M212 310.1h0M94.5 316.6h0M244.5 379.8h0M76 380.2h0M258.9 337.9h0"/>
<path class="n3" d="M67.9 346h0M133.3 358.3h0M148.2 341h0M119.6 353.3h0M135.5 376h0M84.6 333.8h0M269.3 375.7h0M102.4 335.6h0M116.1 363.2h0"/>
<path class="n2" d="M164.1 321.7h0M199 327.2h0M128.2 360.2h0M131.7 311.3h0M182.8 319.8h0M178.4 301.7h0M147.8 300.7h0M186 333.2h0M173.7 327.2h0M207 325h0M191.7 314.5h0M169.6 339.4h0M146.8 334.2h0M194.8 344h0M166.3 335.8h0M143.6 318.7h0M176.6 322.4h0M232.1 318.5h0M211.2 326.8h0M191.2 330.1h0M186.7 329.1h0M190.5 332.9h0"/>
<path class="n1" d="M168.8 345.2h0M173 330.3h0M152.7 326.6h0M213.1 391h0M146.2 334.7h0M153 312.2h0M129.2 300h0M152.6 309.7h0M161.8 295.7h0M150.2 326.4h0M114.3 327.8h0M162 303.4h0M160.2 324.5h0M181.6 308.1h0M181.5 297.7h0M145.3 317.3h0M200.5 316.7h0M177.2 313.8h0M124.2 299.3h0M91.5 329.1h0M154.9 321.9h0M188 406.7h0M139.2 304.2h0M125.1 315.5h0M167.1 270h0M147.8 322.6h0M148 326.6h0M165.2 362h0M164.2 310.1h0M107.1 315.2h0M190.3 296.6h0M140.9 299h0M136.3 331.2h0M168.4 312.9h0M172.8 311.8h0M120.9 327.2h0M171 321h0M104.9 303.6h0M178.8 310.3h0M176 312h0M126.8 333.2h0M99.6 349.6h0M143.9 327h0M181.4 341.8h0M113.6 344.8h0M130.2 300.8h0M123.4 301.4h0M133.6 324.9h0M120.7 330.7h0M164.2 310.6h0M144.5 336.9h0M115.5 355h0M158.5 288.5h0M124.7 323.9h0M162.2 336.6h0M131.5 319.3h0M156.8 329.6h0M159.8 305.9h0M143.2 291.5h0"/>
<path class="n5" d="M203.3 372.6h0M195.1 363.1h0M232.2 367.9h0M179.1 396h0M184 385.1h0M202.9 374h0M147.7 371.9h0M218.8 379.4h0M193.5 386.5h0M154.2 410.3h0M230 344.1h0M121.4 344.9h0M194 383.8h0M263.8 368.7h0"/>
<path class="n9" d="M51.9 358.8h0M127 304.6h0M174.8 296.9h0M171.9 405.7h0M230.3 374.6h0M150.5 302.6h0M207.5 386.3h0M91 322.7h0M99.9 350.9h0M269.8 351.9h0M82.2 368.6h0M250.2 363.5h0M183.5 303.3h0M202.1 296.9h0M159.3 413h0M140.4 398.7h0M168.7 317.4h0M123.9 384.2h0M211.2 376.7h0M224.4 322h0M178.9 394.4h0M186.8 410.8h0M222.9 382.1h0M141.6 408.2h0"/>
<path class="n0" d="M202.6 372.1h0M151.8 311.2h0M131.3 319.5h0M90.4 323h0M146.6 335h0M114.1 302.8h0M146 328.9h0"/>
<path class="n4" d="M112.7 377.6h0M128.9 383.1h0M158.3 397.3h0M135.4 377h0M133.1 388.8h0M135.3 385.8h0M166.7 368.8h0M149.2 393.2h0M156.8 384.2h0M148.6 319.2h0M148.5 399.5h0M155.2 375.9h0M128.6 371.9h0M131.2 379.7h0M137.4 391.7h0"/>
<path class="n4" d="M143.7 377h0M160.4 374.7h0M124.8 388.9h0M186.3 359.4h0M123.1 372.8h0M144.3 378.3h0M150.7 375.9h0M134.6 318.6h0M113.5 373.9h0M115.5 398.4h0M127.8 389.4h0M162.6 379.2h0M150.2 397.8h0M124.8 301h0M158.2 374.6h0M146.1 399.7h0M148.5 360.6h0M160 394.9h0"/>
<path class="n5" d="M200.9 368h0M212.1 372.2h0M173.5 350.2h0M203.9 364.1h0M203.8 359.1h0M174.5 382.5h0M249.2 342.5h0M175.1 313.4h0M192.1 378.2h0M166.7 395.5h0M218 359.9h0M165.7 396.8h0M197.6 352.4h0M195.8 388.3h0M209.3 370.4h0M191.6 343.4h0M182.3 409.8h0M205.3 379.1h0M157.5 364.6h0M245.9 336.4h0M184.4 377.4h0M204.7 371.7h0"/>
<path class="n0" d="M121 326.5h0M120 301.1h0M66.3 307.5h0M128.9 351.6h0M123.3 315.2h0M135.1 323.8h0M121.4 337h0M71.2 340.8h0M135.1 330.5h0M94.5 363.5h0M130.9 354.9h0M114.6 341.8h0"/>
<path class="n1" d="M138.1 334.5h0M126.3 309.8h0M113.9 304.4h0M128.4 323.2h0M178.8 300h0M192.8 318.9h0M120.4 358.1h0M146.3 304h0M84 339h0M245.7 339h0M191.7 317.1h0M180.6 321.7h0M162.7 339.5h0M194.4 308.1h0M165.5 332.5h0M137.3 310h0M99.8 388.1h0M172.1 314h0M133.6 317.8h0M182.6 339.8h0M133.2 323.4h0M133.5 342.6h0M148.8 310.5h0M156.3 308.1h0M203.5 309.8h0M150.3 325h0M143.7 323.8h0M97.2 335.7h0M188.9 284.9h0M269.2 348.4h0M114.6 328.8h0M115.6 341.5h0M164.2 317.2h0M144.7 301.7h0M198.5 309.4h0M210.5 310.7h0"/>
<path class="n3" d="M83.7 366.5h0M152.5 357.7h0M124.9 356.3h0M164.6 368.1h0M160.4 296.8h0M91.8 364h0M127.8 363.2h0M119.5 364h0M151.6 359.5h0M157.5 347h0"/>
<path class="n2" d="M176.2 326.1h0M180.3 304.6h0M178.7 318.1h0M157.4 299.4h0M186 329.7h0M218.4 344.8h0M187.2 350.7h0M198.5 369.1h0M181.3 326.8h0M183.6 330.5h0M176.3 303.6h0M115.5 313.5h0M175.5 309.2h0M148.9 349.3h0M182.7 346.2h0M183.4 316.8h0M143.8 319.3h0M196.5 346.7h0M217.2 317.3h0M164.2 322.1h0M125.3 343.5h0M166.4 322h0M204.3 302.1h0"/>
<path class="n9" d="M170.6 292.2h0M220.5 320.6h0M94.5 404.9h0M212.5 311.9h0M167.6 296.7h0M231.1 323.2h0M133.6 298.2h0M166.8 412.2h0M113 396.8h0M148 296.3h0M269.2 348.3h0M83.7 330.4h0M77.8 361.9h0M240.4 367h0M183.9 407.5h0M231 370.1h0M202.6 417h0M223.2 381.4h0M136.5 405.6h0M181 285.1h0M119.8 403.3h0M87 308.6h0M146.1 415.4h0M230.2 372.8h0M255.2 355.2h0M262.5 370.1h0M82.8 358.6h0M209.3 396.1h0M67.3 326.4h0"/>
<path class="n5" d="M207.7 376.1h0M170.9 380.5h0M222.2 327.5h0M195.4 386.8h0M184.9 387.2h0M224.7 356.6h0M220.3 382.9h0M214.2 383.6h0M180.2 391.8h0M205.1 341h0M204.1 382.5h0M121.4 393.1h0M220.1 385.3h0M209.9 387.3h0"/>
<path class="n9" d="M77.3 355.3h0M216.8 387.8h0M140.5 410.2h0M95.2 335.8h0M181.9 407.4h0M291.7 362.7h0M152.7 305.8h0M252.4 333.9h0M293.5 381.3h0M120.7 300.8h0M230.1 375.7h0M169.3 333.5h0M131.7 404.1h0M107.1 327.5h0M184 305.4h0M232.2 370.6h0M211.2 390h0M119.2 401h0M98.5 342.2h0M159.2 413.1h0"/>
<path class="n3" d="M139.3 357.6h0M137.6 361.2h0M129.2 357.1h0M75.2 350h0M124.6 355h0M142.1 376h0M99.4 376.1h0M137.1 354.5h0M114.4 360.4h0M125.9 350h0M123 345.4h0M146.9 366.7h0M142.2 344.4h0M128.7 362.1h0M140.2 360h0M152.1 366.4h0M119.6 354.2h0"/>
<path class="n4" d="M143.8 337.8h0M181.1 382h0M165.5 361.6h0M157.6 398.2h0M150.1 389.9h0M145.1 384h0M115.9 373h0M172.9 391h0M129.4 367.7h0M161.8 411.4h0M144 376.8h0M161.7 384.7h0M159.3 380.2h0M150.7 393.3h0M111.3 387.5h0M195.5 347.4h0M135 396.2h0M111 397.5h0M141.3 391.4h0M169 391.1h0M151.4 360.2h0M129 398.7h0M143.3 397.2h0M156 388.5h0M161.3 400.9h0M164.3 397.3h0"/>
<path class="n0" d="M161.4 339.8h0M120.7 323.6h0M126.5 298.3h0M150.1 356.4h0M147 325.6h0M80.2 361.1h0M130.4 332h0M107.2 313h0M138.4 332.6h0M104.5 326h0M159.8 300.9h0M179.4 348.7h0M134.5 318.5h0M99.2 342.3h0"/>
<path class="n2" d="M186.5 347.6h0M183.6 320.7h0M193.8 320h0M187.8 342.8h0M126.3 291.3h0M217.9 328.5h0M217.8 317.2h0M184 350.1h0M161.8 340.5h0M186.8 330.3h0M195.8 313.8h0M212.8 359.5h0M225.5 322.4h0M174.9 338.7h0M189.8 312.6h0M175.1 287h0M195.7 333.9h0"/>
<path class="n1" d="M146.2 303h0M182.6 297.9h0M135 338h0M154.8 307.9h0M170.6 316.1h0M139.2 306.1h0M167.9 327h0M165.1 312h0M85.3 293.2h0M135 296.5h0M158.5 324.1h0M229.7 330.9h0M183.1 339.5h0M176.7 328.8h0M158.8 335h0M183.4 319.1h0M121.7 326.4h0M110.6 306.3h0M136.2 310.9h0M117.7 336h0M145.8 325.6h0M170.3 336.7h0M169.1 296.4h0M130.7 326.3h0M137.5 300.9h0M97 302.4h0M197 349.6h0M186.2 306.3h0M119.9 360.7h0M170.4 299.4h0M163.4 349.9h0M144.9 318.1h0M137.7 367.5h0M137.2 331.6h0M194.7 322.4h0M150.1 323.7h0M123.6 338h0M183.3 316.8h0M259.6 335.5h0M126.7 321.7h0M181.6 313.5h0M118.6 333.7h0"/>
<path class="n1" d="M150.2 318h0M210.3 394.5h0M218.5 313.8h0M143.6 364.6h0M112.4 343.1h0M168.9 330.9h0M180.7 324.6h0M127.5 299.6h0M151.4 302.7h0M120 326.1h0M159.9 325.7h0M156.3 303.2h0M142 306.7h0M137.1 452.4h0M145.5 343h0M173.4 303.2h0M159.3 298.2h0M185.6 308.8h0M177.7 313.3h0M124 380.4h0M148.5 324h0M133 330.9h0M155.9 326.8h0M119.5 306.8h0M98.1 309.8h0M93.9 319.4h0M138.6 307.7h0M188.2 284.5h0M196.3 309.6h0M201.8 392.9h0M140.5 315h0M147.4 315.1h0M192.5 323h0M203.1 398.8h0M149 348.1h0M177.8 309.2h0M120.3 322.1h0M130.1 326.5h0M180.3 311.4h0M164 327.2h0M148 308.6h0M163.9 356.4h0M118 313h0M158.1 325.4h0M90 322.6h0M112.7 345.7h0"/>
<path class="n2" d="M195.8 340h0M183.2 306.9h0M182.8 317.8h0M202.3 314h0M179.3 314.6h0M210.1 330.6h0M178 323.3h0M197.2 297.5h0M138.3 337.7h0M173 323.3h0M202.6 305.9h0M178.3 337.1h0M198 334.6h0M260 337.2h0M151.8 316.2h0M221.3 332.4h0"/>
<path class="n0" d="M122.8 333.3h0M179.8 322.2h0M137.8 394.1h0M131.1 290h0M104.1 330.3h0M206.1 327.1h0M109.3 317.3h0M95.6 417h0M153.3 319.4h0M131.2 324.4h0M99.4 336.2h0M93.8 383.4h0M101.7 335.5h0M160.2 369.2h0M100.7 324.2h0M122.6 331.6h0"/>
<path class="n9" d="M53 320.9h0M102.2 388.6h0M141.9 390.8h0M172 405h0M202.4 301.4h0M210.9 389.7h0M221.7 312.4h0M209.9 388.2h0M78.2 347h0M202.7 324.8h0M87 318.2h0M123.6 315.8h0M74.6 299h0M262.2 347h0M252.9 345.1h0M244 335.8h0M234.5 374.7h0M75.2 320.3h0M192.1 404.7h0M57.4 376.2h0M117.6 397.9h0M215.2 303.7h0M170.5 395h0M192.5 404.9h0M231.3 334h0M256 369.5h0"/>
<path class="n5" d="M200.5 347.3h0M193.8 374.2h0M191.4 360.2h0M253.8 339.9h0M264.3 340.2h0M193.8 378.8h0M214 389.3h0M204.5 371.3h0M214.1 380.9h0M193.1 356.9h0M144 406.6h0M222.7 373.2h0M217 361.5h0M181.8 376.9h0M213.7 388.2h0M175.8 369.9h0"/>
<path class="n3" d="M113.4 350.3h0M67.8 392.6h0M202.1 334.3h0M118.6 346.6h0M100.7 382.1h0M105.2 353.2h0M153.7 357.5h0M147.8 328.6h0M99.2 356.9h0"/>
<path class="n4" d="M153.4 386.8h0M126.9 388.6h0M143.8 394.4h0M172.6 383.4h0M176.2 380.1h0M129.2 374.7h0M139.7 422.2h0M145.6 384.2h0M138.1 400.5h0M184.9 395.5h0M160.7 414.1h0M184.7 403.2h0M141.3 385.1h0M108.7 361.2h0M152.6 382.8h0M79.2 345.3h0M65.7 366.5h0M104.5 406.1h0M143.4 406.1h0M120.6 376.3h0M113.8 306.3h0"/>
<path class="n4" d="M148.4 390.1h0M139.3 372.3h0M168.4 395.6h0M151.6 413.3h0M142.1 376.8h0M140 380.1h0M185.9 376.2h0M122.4 402.2h0M115.2 385h0M159.2 409.4h0M168.1 389.4h0M225.2 370.4h0M140.3 385.2h0M128.2 383.4h0M149.3 367.3h0M60.2 384.8h0M124.4 367.6h0M142 406.6h0M138.7 354.3h0M150.1 335.3h0"/>
<path class="n2" d="M184 310.5h0M179 360.1h0M169 327.4h0M175.8 314.8h0M211.1 309.4h0M199.8 300.4h0M218.4 313.9h0M159.9 330.3h0M221.4 330.2h0M177 320.5h0M184.7 369.7h0M238.7 326.1h0M190.1 325.1h0M196 315.9h0M186 338.9h0M158.1 377.7h0M184.2 314.9h0M202.1 322.8h0"/>
<path class="n0" d="M200.1 385.4h0M131.1 305.1h0M106.4 333.5h0M122.4 346h0M107.6 348.2h0M190.8 330.5h0M112.5 303.5h0M120.4 327.8h0M189 321.8h0M109.1 343.7h0M137.1 364.7h0M88.9 364.5h0M109.8 323.1h0M131.8 346.7h0M241.1 312.8h0M100.4 329.2h0M125.1 320.3h0M131.8 341h0"/>
<path class="n5" d="M234.4 368h0M196 378.3h0M215.2 361h0M196.9 391.1h0M211.1 375.4h0M198.8 371.3h0M184.9 364.7h0M267.2 340.3h0M171.9 380.4h0M143.3 364h0M217 354.5h0M205.3 370.5h0M194.3 364.9h0M158.4 375.1h0M169.4 419.3h0M174.5 383.8h0M154.2 409.8h0M181.3 380.8h0M162.2 343.1h0M211.8 390.5h0M212.6 378.9h0M196 372.8h0M157.9 414.7h0M270 355.1h0M199.7 365.2h0"/>
<path class="n1" d="M207.6 276.4h0M141 316h0M139.9 295.5h0M174.9 339.7h0M115.6 308.2h0M207.1 313.6h0M164.3 318.4h0M171 292.4h0M186.2 331h0M111.2 311.7h0M124.4 328.1h0M130.8 323.2h0M167.9 340.5h0M133.9 305.9h0M171.1 294.8h0M108.1 312h0M139 333.8h0M135.2 326.9h0M224.7 281.5h0M166.2 293.3h0M62.6 327h0M209.7 325h0M116 361.8h0M45 327.8h0M115.5 296.9h0M173.6 338.7h0M138.9 322.5h0M146.9 319.1h0M137 306.2h0M124.5 314.7h0M121.5 306.1h0M135.7 299.7h0M171.6 324.8h0M165 326h0"/>
<path class="n9" d="M87.5 371.3h0M198.8 307.9h0M107.1 390.6h0M263.6 342.3h0M263.7 342.3h0M135.2 402.5h0M102.4 390.3h0M123.4 386.9h0M233.1 326h0M208.9 312.2h0M182.2 297.3h0M168.9 291.8h0M204.4 401.2h0M169.5 419.6h0M317.8 363.1h0M127.5 342.9h0M241.5 374.7h0M186.1 368.8h0M180.2 418.3h0M78.1 365.3h0M228.6 387.9h0M173.3 410.9h0M175.4 312.8h0M108.9 336.1h0"/>
<path class="n3" d="M159.5 347.4h0M149.6 409.9h0M132.3 367.9h0M107.4 351.9h0M138.6 361.9h0M95.5 315.6h0M156 324.7h0M114.1 363.6h0M121.4 372.6h0M108.6 351.5h0M154.9 352.5h0"/>
<path class="n0" d="M105.3 330.9h0M175 284.5h0M122.2 311.5h0M147.3 310.6h0M130 331.5h0M138.1 326.3h0M122.9 332.6h0M90.4 323.5h0M130.5 326.7h0M122 318.1h0M105.7 307.1h0M114 315.3h0M138.9 343.7h0M134 318.8h0M141.8 324.8h0"/>
<path class="n3" d="M156.4 367.9h0M153.6 345.7h0M143.6 362.8h0M110.1 367.4h0M141.2 358.8h0M129.4 358.3h0M137.6 363.1h0M104.2 369.3h0M115.4 352.7h0M121 373.3h0M112.7 410.3h0M155.8 314.2h0M127.1 367.9h0M91.1 383h0"/>
<path class="n9" d="M188.3 395.8h0M191 402.2h0M177.6 286.3h0M197.5 319.5h0M119.5 302h0M253.4 331.9h0M104.2 345.2h0M271.4 371.1h0M211 380.2h0M81.6 367.7h0M82.3 363.2h0M123.8 299.2h0M263.1 367.5h0M138.5 389.8h0M270.9 370.7h0M227.3 375.4h0M63.1 277.3h0M198 296.9h0M129 407.5h0M199.7 300.9h0M75.3 311.8h0M206.2 300.1h0M268.1 359.9h0M178 415.8h0M184.8 403.3h0"/>
<path class="n5" d="M181.1 374.5h0M208.4 385h0M237.8 375.3h0M196.1 365.8h0M215.1 380.7h0M143.9 386h0M195.2 381.2h0M213.2 375.8h0M226.3 379h0M162.4 409.8h0M206.6 385.7h0M217.2 384.7h0M174.1 413h0"/>
<path class="n4" d="M171.6 385.2h0M99.3 371.5h0M190.5 396.4h0M139.6 400.6h0M152.6 395.5h0M164.7 387.5h0M145.6 406.5h0M98.5 309.7h0M161.7 387.9h0M159 370.8h0M202.9 364.7h0M127.6 373.8h0M157.5 396.3h0M163.1 388.1h0M99.7 353.7h0M170.9 382.3h0M107.4 395.3h0M132.1 380.7h0"/>
<path class="n1" d="M102.3 329.9h0M186 331.9h0M124.2 317.7h0M164.5 310.8h0M161.4 331.7h0M171.6 294.2h0M159.7 323.5h0M167.7 337.1h0M150 343.8h0M146.8 324.5h0M162 342.6h0M137.6 339h0M138.5 310.2h0M162.2 292.9h0M260.5 356h0M107.3 315.9h0M143 308.5h0M172 333.4h0M129.2 329.1h0M195.9 405.3h0M182.5 296.5h0M175.7 331.2h0M173.6 340.2h0M174.5 344.2h0M173.5 341.8h0M85 293.6h0M140.6 344.2h0M172.6 327.1h0M127.9 313.5h0M137.4 303h0M177.8 329.6h0M152.9 339.1h0M155.7 305.2h0M147.5 322.2h0M176.9 338.2h0M124.1 319.5h0M118.7 302.8h0M136.6 345.4h0M162.7 327.6h0M164.9 294.4h0M130.9 331.7h0M192.5 307.2h0M164.3 327.7h0M139.4 322.5h0M158 333.2h0M195.1 300.5h0M170.3 282.6h0M124 297.8h0M126.2 323.1h0"/>
<path class="n2" d="M185.8 328.5h0M166.3 339.5h0M212.2 304.1h0M156.1 327.5h0M174 350h0M210.9 336.3h0M194.3 327.5h0M170.6 326.7h0M167.9 335.3h0M195.1 330.9h0M150.7 305.1h0M204.8 315.8h0M172.4 315.5h0M134.1 339.9h0M173.1 327.4h0M203.1 391.4h0"/>
<path class="n3" d="M142.7 344.6h0M122.7 344.5h0M126.8 374.4h0M135.6 364.4h0M84.8 397.3h0M95.1 397.5h0M140.6 358.6h0M128.2 362.1h0M126.5 367.5h0M164.6 360.9h0M120.5 360.7h0"/>
<path class="n9" d="M186.9 284.8h0M204.9 454.7h0M139.2 297.5h0M44.2 335.5h0M192.5 402.2h0M165.7 295.1h0M230.2 325h0M119.4 382.2h0M142.8 401.6h0M90.5 382h0M162.1 286.3h0M284.5 352h0M96.7 316.2h0M211.8 393h0M262.2 327.3h0M235.5 377.7h0M171.1 397.2h0M153.9 410.4h0M82.4 364.6h0M259.7 348.6h0M212.4 311h0M192.9 313.2h0"/>
<path class="n5" d="M227.5 374.2h0M199.6 376.1h0M139.7 327.7h0M193 369h0M186.8 403.5h0M159.4 390h0M220 360.7h0M200 384.7h0M211.4 407.8h0M201.3 380.2h0M204.6 357.5h0M185.5 378.9h0M184.7 397h0M222.5 388h0M203.7 376.6h0M197.9 416.6h0M226.5 373.4h0"/>
<path class="n0" d="M120.9 325.4h0M116 341.4h0M132.2 327.6h0M129.8 338.2h0M90.3 357.7h0M122.8 307.5h0M109.5 321.2h0M111.9 322.1h0M125.7 349.4h0M114.3 322.4h0M106 340.6h0M139.3 339.7h0M156.7 351.3h0M76.8 343.6h0M121.7 337.4h0"/>
<path class="n2" d="M176.8 335.2h0M180.3 320.3h0M141 360.1h0M184.3 317.7h0M195.6 335.8h0M156 312.9h0M174.1 344.3h0M195.4 341.4h0M138.4 346.3h0M191.7 319h0M176.8 315.4h0M191.8 338.3h0M168.2 316.8h0M203.5 323.3h0M187.2 322.1h0M206.6 365.4h0M193.1 342.2h0"/>
<path class="n4" d="M131.1 391.8h0M185.4 371.4h0M139.1 383h0M141.4 368.3h0M134.3 393.5h0M176.9 395.6h0M151.6 410.6h0M166.6 346.6h0M154.8 372.4h0M87.6 308.2h0M140.5 409.7h0M153.5 386.1h0M191.4 313.7h0M132 382.6h0M164.7 389.3h0M159.1 376.3h0M119.1 372.9h0M148.6 377.2h0M126.2 402.3h0M144.4 391.4h0M139.2 394.6h0M176.4 388.1h0M148.7 387.1h0M137.7 384h0M119.6 385.2h0M154.7 408.3h0M219.6 335.7h0M149 377.1h0M79.1 364.6h0M187.5 368h0"/>
<path class="n1" d="M169.4 313.8h0M97.6 325.5h0M205.9 398h0M153.3 350.9h0M175.2 310.3h0M137.8 336.3h0M204.9 328.6h0M107.8 324.3h0M124.8 299.4h0M171.3 314.7h0M172.5 301.8h0M156.9 330.3h0M152.7 338.1h0M155.2 284.4h0M138.1 332.8h0M143.2 310.7h0M109.8 319.9h0M178.4 331.2h0M104.5 295.6h0M149.8 352.1h0M132.1 351.1h0M165.6 336.4h0M150.6 328.1h0M145.2 330.6h0M177.3 322.8h0M159.8 336.4h0M153.7 309.6h0M174 341.4h0M233.7 290.9h0M162.1 418.8h0M159.7 291.9h0M162 321h0M156.9 321.8h0M156.1 342.3h0M119.8 347.5h0M144.8 301.4h0M156.9 314.1h0M107.8 317.8h0"/>
<path class="n0" d="M147.1 322.7h0M93.5 343.7h0M123.6 337.1h0M124.5 302h0M135.4 337.4h0M148.8 388.9h0M134.5 356.6h0M139.4 295.8h0M122.3 336.7h0M202.6 397.5h0M94.8 329.5h0M102.3 325.7h0M115.6 329.2h0M134.7 337.4h0M125.2 346.5h0M122.1 333.3h0M124 324.9h0M137.4 287.4h0M129.6 307.5h0"/>
<path class="n9" d="M119.8 399.3h0M101.8 390.9h0M202 288.5h0M197.2 299.5h0M202.2 386.9h0M169 410.4h0M91.9 340.2h0M177 296.1h0M165.2 410.7h0M206.3 326.5h0M224.9 394.3h0M97.7 315.3h0M256.8 362.5h0M230.9 349.8h0M257.5 343.2h0M150.3 292.6h0M98.8 312.4h0M142 406h0"/>
<path class="n3" d="M133.9 357.5h0M111.1 360.5h0M127.1 352.5h0M121.6 371.7h0M146 360.6h0M144.6 361.4h0M145.4 360.1h0M143.7 356h0M115.7 369.1h0M158.5 400.1h0M124.7 367.7h0M85.6 374.2h0M147.6 374.9h0M150.2 309h0M219.8 366.6h0"/>
<path class="n5" d="M255.5 342.8h0M172.8 336.9h0M216.5 364.6h0M212.8 374.5h0M196.6 388.1h0M265.3 349.9h0M179.8 375.8h0M252.6 377h0M170.6 369.4h0M202.5 396.1h0M201.6 357.2h0M181.8 400.3h0M162 376.6h0M178.9 370.3h0M190.6 347.5h0M251.4 363.8h0M179.6 337.1h0M215.3 376.2h0M176.5 378.5h0"/>
<path class="n2" d="M169 353h0M171.9 331.2h0M134.3 282.7h0M241.9 336.9h0M166.1 385.4h0M187.5 320.7h0M186.5 321.5h0M183.1 319h0M176.5 291h0M200.2 320.3h0M159.2 324.9h0M229 322.7h0M206.2 348.7h0M193.6 342.4h0M155.9 303.3h0M187.4 323.7h0"/>
<path class="n4" d="M131.6 375.5h0M146.9 385.4h0M105.2 380.4h0M174 389.2h0M156.5 387.8h0M123.8 375h0M175.1 383.2h0M161.8 386.2h0M116.4 381.1h0M176.1 375.8h0M181.3 408.2h0M64.4 363.9h0M152.8 358.2h0M151.5 381.3h0M139.5 408.4h0M190.6 361.9h0M137.9 376.1h0M144 376.6h0M150.2 388.7h0M150.4 396h0M167.4 388.8h0M172.6 382.5h0M138.2 381.1h0M134.9 358.7h0M157.7 392.4h0"/>
<path class="n1" d="M120.1 307.3h0M142.2 332h0M115.5 340.7h0M149.5 351h0M145 304.6h0M133.9 328.3h0M137.6 301.6h0M119.4 318.4h0M108.7 350.7h0M205.5 331h0M129.4 332.3h0M195.4 310.2h0M178.7 295.5h0M241.4 334.5h0M126.3 327h0M177.4 313.9h0M167.9 298.1h0M159 311.4h0M178.8 296.2h0M110.4 315.1h0M102.7 325h0M193.9 324.7h0M124.5 326.7h0M165.9 308.2h0M148.6 344.3h0M193.1 338.1h0M132.9 307.4h0M121.7 325.4h0M129.5 320.9h0M112.4 312.6h0M156.8 321.5h0M147.8 333.5h0M172.9 313.7h0M118.2 330.1h0M156.4 335.4h0M146.5 320.2h0M121.1 303.3h0M154 319h0"/>
<path class="n3" d="M77.4 357h0M99.3 373.5h0M128.9 364.5h0M72.3 377.6h0M68.6 357.8h0M109.4 407.7h0"/>
<path class="n5" d="M182.9 393.7h0M193 394.2h0M215.8 341.3h0M195 382.2h0M195.1 352.2h0M222.3 411.1h0M152.7 398h0M218 380.3h0M176.6 394.7h0M177.3 379.1h0M200 375.2h0M191 335.7h0M179.9 353.6h0M194.3 405.8h0M195.6 391.1h0M195.7 404.4h0"/>
<path class="n1" d="M190.9 315.9h0M140.7 328.1h0M165.4 376.3h0M122 310.6h0M171.7 323.1h0M78 304.1h0M140.7 302.1h0M103.4 338.4h0M151.4 351.8h0M182.7 339.5h0M109.3 303.2h0M135.5 326.4h0M150.6 353.9h0M144.3 323.7h0M192.2 352.6h0M163.3 293.4h0M186.4 341.3h0M111.2 324.9h0M46.1 358.1h0M141.3 330.9h0M172.7 318.6h0M154.3 307.3h0M156.2 326.3h0M122 318.5h0M155.9 322.3h0M113.4 320.3h0M172 324.4h0M176.1 328.4h0M165.8 334.1h0M106.1 318.8h0M143.6 326h0M177.1 325.3h0M156.8 294h0M161.7 332.8h0M161.4 339.1h0M88.9 325.6h0M210.2 351.4h0M120.5 340.5h0"/>
<path class="n2" d="M149.8 310h0M164.5 333.8h0M184 340.3h0M184.5 306.3h0M221.5 317.5h0M209.2 342.9h0M163 322.5h0M189 316.3h0M223.2 322.1h0M195.7 301.1h0M202.3 321.4h0M196.1 341.4h0M202.7 315.5h0M224.5 339.6h0"/>
<path class="n0" d="M133.4 354.6h0M119.2 331.8h0M100.6 294.7h0M93 409.3h0M105.4 316.8h0M133.5 295.2h0M98.7 316.5h0M106.8 341.7h0M120.5 390.7h0M108.4 359.9h0M138 334.5h0M104.3 363.3h0M92.4 338.7h0M81 328.8h0M178.4 334.2h0M135.2 355.8h0M136.2 321.6h0M82.4 385.8h0M103.5 339.9h0"/>
<path class="n4" d="M140.2 386h0M136.8 395.4h0M123 384.5h0M165 364.6h0M151.7 388.6h0M144.3 387.7h0M109.2 386.1h0M125.7 376h0M127 387h0M162.2 392.6h0M131.3 372.3h0M181.5 385.8h0M139 379.2h0M158.7 391.9h0M155 380.3h0M139 382.1h0M147.3 407.7h0M166.3 381.1h0M141.5 381.7h0M119.4 368.6h0M80.1 371h0M195 352.1h0M146 323.7h0M128.5 377.2h0M136.3 406.2h0M137.5 381.4h0"/>
<path class="n9" d="M168.2 283.4h0M186 297.8h0M218.1 341.8h0M155.9 408.7h0M210.3 320.5h0M145.5 411.6h0M127.7 405.5h0M208.9 310.2h0M232.5 370.9h0M184.2 414.2h0M82.4 364h0M168.8 295.3h0M213.8 391.6h0M243.7 366h0M204.7 307.1h0M184 298.3h0M163.1 301h0M101.3 304.4h0M98.9 368h0M148 325h0M176.9 409.9h0M196.1 301.6h0M156.3 306.6h0M163.4 410.7h0M144.3 386.3h0M147.8 341.4h0M90.9 381.7h0M138.2 297.5h0M158.4 331.8h0M256.8 324h0M167.6 372.9h0"/>
<path class="n1" d="M166.2 338.4h0M145.4 346.6h0M81.8 337.5h0M206.8 338.9h0M236.8 280.7h0M169.2 336.1h0M146.6 313h0M166.6 309h0M122.7 318.2h0M154.8 311.9h0M168 325.2h0M145.9 326.1h0M226.9 327.2h0M160 306.6h0M258.6 350.8h0M166.9 313.6h0M200.4 318.7h0M210.1 320.1h0M179.4 366.5h0M170.1 410.8h0M189 299.2h0M172.9 290.1h0M123.3 368.1h0M144.5 342.6h0M142.5 308.2h0M122.1 294.6h0M182.6 359.3h0M172.1 330.9h0M138.3 326.2h0M194.7 304h0M141.7 327h0M209.1 320h0M175.2 316.1h0M140.1 330.8h0M162.5 324.6h0"/>
<path class="n9" d="M72.1 372.4h0M133.8 406h0M36.6 372.4h0M86.7 378.3h0M175.8 418h0M193.3 301.3h0M95.6 397.9h0M41 334.7h0M170 317.2h0M207.5 295.2h0M186.9 423.5h0M132.1 283.3h0M209.8 397.3h0M147.5 415.3h0M142 395.1h0M258.5 350.8h0M214.1 388.9h0M252.5 344.8h0M100 318.3h0M216.6 387.8h0M123.5 389.7h0M208.9 375.2h0M228.6 378.9h0M254.2 367h0M193.6 368h0M166.9 291.3h0"/>
<path class="n2" d="M228.5 366.2h0M213.6 334.2h0M214.2 341.4h0M204.1 305.9h0M238.1 324.9h0M160.6 345.9h0M222.5 347.9h0M198.7 288.8h0M199.3 323.8h0M176 318.4h0M185.6 333.3h0M182.9 328.3h0M137.7 317.4h0M233.6 326.5h0M198.9 304.6h0M138.5 342.5h0"/>
<path class="n4" d="M151.1 400.8h0M165.7 373.9h0M162 393.6h0M107.9 388.5h0M137.7 375.2h0M137.3 368.4h0M162 379h0M106.5 394.3h0M139 397h0M145.7 384.3h0M169.4 384.8h0M124.2 390.9h0M161 391.9h0M164.8 412h0M177.2 381.1h0M143.1 394.1h0M139.7 369.5h0M162.9 379.3h0M128.9 404.7h0"/>
<path class="n0" d="M127 329.8h0M76.5 313.7h0M79.2 341.8h0M143.4 314.6h0M62 343.9h0M112.1 321.9h0M73.8 351.9h0M134.4 302.7h0M100.2 349.5h0M129 324.9h0M143.9 334.5h0M146 297.4h0M125.9 312.4h0M107.4 291.2h0M120.3 310.2h0M144.5 371h0M126.7 320.2h0M26.4 281.5h0M102.1 352.9h0"/>
<path class="n5" d="M181.1 397.9h0M159.8 410.6h0M209.2 393.8h0M187 387.8h0M201.3 401.8h0M189.7 361.8h0M195.3 330.9h0M182.1 375.3h0M204.7 390.4h0M188.7 406.7h0M211.1 377.4h0M216.7 378.2h0M213.3 316.8h0M185.4 355.7h0M211.5 391.6h0M212.3 372.9h0M217.1 381.6h0M188.9 370.5h0M181.3 370.8h0M205 401.8h0M173.8 411h0M145.6 321.7h0M212.8 370.8h0M214.7 388.2h0M164.4 329.7h0"/>
<path class="n3" d="M169.2 312.3h0M122.6 351.1h0M141.3 299.1h0M125.4 355.9h0M132.5 369.9h0M157.5 364.1h0M102 390.3h0M170.5 361.1h0M107.3 352h0M111.1 358.3h0"/>
<path class="n1" d="M99.1 341.3h0M145.1 325.8h0M185.1 291.5h0M158.8 314.1h0M194.4 324.4h0M162.6 356.3h0M160 341.4h0M156.1 285.6h0M115.3 313.2h0M176.3 347.8h0M113.1 308h0M176.3 323.4h0M170.7 301.8h0M168.1 323.6h0M166.1 333.3h0M153.4 333.4h0M150.4 324.3h0M123.2 330.3h0M136.9 334.8h0M188.3 284.7h0M160.6 307.6h0M142.3 321.2h0M194.2 301.4h0M138.5 339.6h0M160.8 295.8h0M128.7 306.5h0M195.8 335.8h0M164.9 312.8h0M199 345.2h0M155.4 327.2h0M141.5 313h0M133.7 293.3h0M179.1 303.7h0M157.5 312.1h0M138.2 322.7h0M202.5 337.2h0M148.7 345.9h0M139.7 317.9h0M71.8 363.2h0M207 328.5h0M159.6 343h0M182.5 399.8h0M132.2 346.8h0M138.5 305.7h0M165.6 383.4h0M147.6 319.5h0M177.9 343.9h0"/>
<path class="n2" d="M161.5 334.1h0M189.8 299.5h0M179.4 333.5h0M124 305.8h0M194.3 331.3h0M220 343h0M191.5 302.4h0M185.1 345.8h0M199.8 332.9h0M211.4 347.7h0M214.5 308.5h0M163.2 311.9h0M191 358.5h0M160.9 334.9h0M180.7 340.1h0M193.4 324.5h0M136 309.6h0M221.1 333.6h0M186.7 314.8h0M167.4 288.3h0M196.2 352.1h0"/>
<path class="n5" d="M192.5 377.6h0M181.4 383.3h0M191.9 362.6h0M186.1 385.7h0M222.2 408.2h0M205.2 348.4h0M223.5 381.7h0M171.5 398.7h0M200.1 381.2h0M219.1 381.9h0M147.8 343.5h0M236.5 349.5h0M201.9 380.1h0M206.3 415.1h0M173.1 353.6h0M226.8 385.3h0M216.8 350.3h0M214.6 350.3h0M191.4 373.2h0M210.5 383.1h0M176.9 429.8h0M199.9 401.9h0"/>
<path class="n4" d="M114.1 382.3h0M123.6 374.7h0M158.6 372.6h0M134.1 331.7h0M127.4 373.1h0M174.9 399.8h0M146.6 368.9h0M149.3 385h0M186.6 379.2h0M92.5 381h0M134.3 384.5h0M138.8 391.3h0M156.7 389.2h0M116.1 302.2h0M154.6 389.2h0M147.2 386.9h0M145.2 385.1h0M193.9 387h0M173.6 400.5h0"/>
<path class="n0" d="M138.9 333.5h0M52.6 348.3h0M131.1 338.4h0M125.3 340.2h0M189.4 300h0M86.7 326.5h0M137.8 333.1h0"/>
<path class="n9" d="M189.6 299.8h0M157.4 406.8h0M194.2 297.2h0M112 400.4h0M205.7 305.8h0M151.9 393.8h0M271.8 371.1h0M222 309h0M189.1 301.5h0M212.6 313.4h0M82.5 330.1h0M85.7 310.3h0M113.4 321.1h0M250.8 339.5h0M65.2 383.3h0M112.9 377.9h0M195.6 390.4h0M152.4 407.6h0M79.2 336.6h0M215.6 393h0M251.6 347.7h0M73.3 357.8h0M127.7 401.7h0"/>
<path class="n3" d="M78.5 367.7h0M172 331.7h0M135.1 360.5h0M169 316.6h0M127.9 360.6h0M176.5 378.5h0M134.2 354.8h0M145.5 371.3h0M137.2 368h0M126.1 350.8h0M142 368.1h0"/>
<path class="n5" d="M191 386h0M186 393.7h0M236.3 355.8h0M248.9 438.7h0M182.4 378h0M203.6 357.4h0M204.2 374.4h0M186.4 406.1h0M249 439.3h0M179.2 370.6h0M201.2 371.2h0M210 388.5h0M229.1 358.4h0M142.9 351.8h0M182.4 377.2h0M180 323.6h0M177.1 362.5h0"/>
<path class="n2" d="M215 357.6h0M206.6 350.5h0M194.7 341.3h0M203.8 305.3h0M189.2 327.7h0M177.7 293h0M182.3 328.5h0M142.3 313.1h0M196.1 322.8h0M182.7 327.7h0M188.6 327h0M211.1 343h0M180.3 338.2h0M152.6 311h0M181.8 342.1h0M167.1 308.5h0M257.3 365.8h0"/>
<path class="n4" d="M121.3 389.1h0M131.4 382.2h0M123.3 386.1h0M135.2 378.6h0M161.3 409.2h0M164.2 360.6h0M156.5 384.9h0M128.3 377.8h0M148 364.4h0M152.6 386.3h0M123.3 383.5h0M211.2 315.1h0M145 366.5h0M131.2 386.7h0M132.8 404.6h0M144.6 359.1h0M102.8 372.1h0M146.5 367.6h0M131.7 374.6h0M140.7 388.4h0M115.6 410.7h0M131.9 382.9h0M160.5 389.8h0M125.8 384.8h0M148.4 383.4h0M137.3 373.3h0M158.3 385.9h0M122.3 376.7h0M115.6 373.9h0"/>
<path class="n1" d="M130.6 332.9h0M139.9 307.5h0M154.9 295.1h0M161 294h0M84.3 305.6h0M186.4 312.9h0M99.8 316.5h0M99.8 337h0M148 339.1h0M159.3 359.1h0M164.5 306.9h0M184.1 313.7h0M114.2 316.6h0M148.9 345h0M137.8 321.1h0M164.5 311.1h0M137.2 330.4h0M153 332h0M124.2 302.3h0M133.5 315.3h0M203.4 326h0M144.2 311.1h0M143.9 413.7h0M145.7 331.4h0M185.3 291.5h0M153.1 307.1h0M170.6 315.8h0M145.5 316h0M139.9 338h0M150.3 344.8h0M131.6 345.6h0M178.9 325.1h0M167.2 353.7h0M146.7 296.4h0M157.2 356.9h0M128.7 321.3h0M141.6 316.1h0"/>
<path class="n0" d="M143.5 303.4h0M126.3 307.3h0M71.2 343.5h0M133.7 360.1h0M121.6 333.3h0M157.9 325.1h0M111.8 334.7h0M112.8 340.1h0M118.6 321.2h0M108 334.2h0M124.3 328.2h0"/>
<path class="n9" d="M152.1 409h0M193.9 402.7h0M124 408.1h0M64.6 352.2h0M224.4 297h0M208.2 378.4h0M160.5 295.9h0M119.9 299.1h0M73 335.6h0M142.3 407.7h0M141.2 369.2h0M92 386.9h0M135.4 409.5h0M80.2 344.9h0M235.3 323.6h0M224.1 322.4h0M78.7 341.6h0M235.8 317.1h0M120.3 400.6h0M152.7 407.7h0M103.7 369.1h0M142.7 395.6h0M220 314.6h0M181.8 409.4h0M55.3 306.2h0"/>
<path class="n3" d="M115.9 353h0M67.2 376.7h0M107.2 397.9h0M161 367.5h0M121.4 352.2h0M178.4 315h0M135.1 366.9h0M149.8 367h0M133 298.7h0M200.2 354.9h0M116.3 356h0M138.6 362.7h0M181.6 351.3h0M123.1 357.7h0"/>
<path class="n4" d="M153.8 390.7h0M127.7 399.3h0M133.9 378.4h0M137.3 378.3h0M101.9 354.1h0M177.5 383.4h0M169.8 370.1h0M161.1 383.1h0M188.4 381.9h0M150.8 395.4h0M166.6 391.2h0M147.8 377.5h0M85.7 328.6h0M150.9 372.1h0M173.3 379.4h0M138.7 399.4h0M123.6 393h0M145 382.6h0M125.7 376.5h0M164.5 367.9h0M166.3 373.9h0M108.3 386.9h0M123.4 380.1h0"/>
<path class="n1" d="M164.2 329.4h0M133.8 406.3h0M150.3 308.5h0M201.5 316.5h0M188.5 325.2h0M189.3 353.5h0M87.2 338.1h0M115.1 343.6h0M142 312.7h0M158.3 346.2h0M193.1 324.3h0M220.1 387.6h0M223.9 325.1h0M174.8 302.6h0M163.4 318.3h0M133 329.2h0M120.6 339.3h0M139 320.2h0M166.8 296.2h0M137.1 320h0M166.6 296.8h0M128.1 306.7h0M106.9 327.2h0M148.6 323.3h0M101.7 331.4h0M190.9 309.7h0M55.4 311h0M264.2 351.5h0M132.2 394.9h0M191.8 354.5h0M143.2 356.4h0M160.4 332.8h0"/>
<path class="n2" d="M178.5 331.1h0M263.3 364h0M183.7 337.6h0M183.5 341.7h0M162.8 302.9h0M197.3 340.6h0M204.5 336.3h0M170.9 330.7h0M242.5 328.9h0M189.8 340.7h0M192.9 301.6h0M190 311.8h0M160.9 317.5h0M177.1 341.3h0M186.5 327.2h0M165.9 344.6h0M175.7 338.5h0M185.5 312.1h0M196 341.9h0M195.3 323.7h0M213.8 314.9h0M191.9 335.7h0M140.1 320.8h0M203.6 306.4h0M161.6 313.6h0M200.5 336.4h0M123.9 363.3h0"/>
<path class="n9" d="M233 378.4h0M179.4 408.3h0M223.5 364.7h0M184.6 298.2h0M273.4 353.4h0M116.4 397.5h0M216.2 317.1h0M193.4 353.4h0M87 383h0M152.1 404.2h0M96.9 308.3h0M153.4 293h0M168.4 300.4h0M201.9 306.7h0M184.3 313.9h0"/>
<path class="n3" d="M115.2 358.7h0M114.8 398.9h0M113.7 376.9h0M164 390.4h0M204 345.7h0M141.7 371.6h0M147.9 361.2h0M130 355.8h0M133.4 353.6h0M163.1 348.8h0M119.4 373.9h0M134.1 353h0"/>
<path class="n0" d="M146 323.5h0M152.9 326.2h0M99.4 304.2h0M141.2 322.9h0M134.2 360.5h0M117.1 329.9h0M130.1 336.6h0M84.5 337.5h0M82.3 339.6h0M164.8 321.4h0M91.7 310.8h0M69.4 318.7h0M143.5 355.2h0"/>
<path class="n5" d="M193.4 355.1h0M244.3 366.1h0M187.8 387.5h0M261.6 356.1h0M200 403.9h0M191.9 369.9h0M213.9 377.4h0M214.4 386.3h0M176.4 373.9h0M165.9 410.9h0M217.1 373h0M181.6 369.6h0M244.9 347.3h0M203.4 341.1h0M227.8 396.9h0M240.4 359.2h0M228.9 373.1h0M203.4 366.1h0M198.9 379.7h0M248.2 335.9h0M180.7 406.6h0M216.3 389.1h0M182.6 356.2h0M186.7 379.1h0M200.8 368.2h0M216 349.1h0M221.7 364.4h0M136.3 304.1h0"/>
<path class="n2" d="M219.9 329h0M154.4 336h0M185.8 360.3h0M142.6 316.7h0M156.1 380.5h0M149.9 339.5h0M194.4 325.8h0M174.1 303.6h0M209.4 304.3h0M179.6 321.7h0M185.6 327h0M257.3 311.1h0M216.9 305.2h0M164.9 305.7h0M165.7 329.8h0M206.9 307.7h0M177.3 346.8h0M161.3 315.4h0M173.5 321.9h0M173.7 318.2h0"/>
<path class="n4" d="M140.8 365.4h0M164.9 392.7h0M140.9 367.6h0M149.4 371.4h0M148.3 388h0M123.6 372h0M162.8 384.7h0M151.4 393.6h0M158.5 390.2h0M129.3 389.4h0M186.9 405.3h0M182.7 382.5h0M161.2 372.8h0M193.7 392.4h0M111.4 385.1h0M145.2 386.7h0M173.1 385.1h0M133.2 380.8h0M141.9 389.3h0M160.5 370.7h0M147.2 386.3h0M123.1 389.5h0"/>
<path class="n0" d="M162.2 295.9h0M120.2 316.6h0M113.3 328.1h0M111.3 354.5h0M136.9 322.1h0M115.5 402.1h0M112 329.9h0M157.5 395.5h0M115.6 329.7h0M129.8 345.4h0M102.5 313.2h0M95 329.4h0M136.9 329.5h0M115.6 357.5h0"/>
<path class="n9" d="M77.1 342.8h0M137.1 291.8h0M172 295.1h0M151.9 295.1h0M124.4 388.8h0M228 382.3h0M226.2 322.1h0M111.6 289.5h0M119.1 403.1h0M252 340.1h0M166.4 395h0M38.4 285.5h0M213.8 389.6h0M112.6 308.6h0M132.5 350.1h0M122.6 400.7h0M61.4 310.5h0M121.1 403.7h0M241.6 330.7h0M230.4 310.3h0M127 311.9h0M191.8 405.9h0M249.7 339.7h0M170 395.7h0"/>
<path class="n3" d="M190.1 307.9h0M156.5 354.4h0M132.3 404.2h0M124.1 364.8h0M128.4 346h0M167.3 360.2h0M149.6 357h0M108.5 361h0"/>
<path class="n1" d="M174.3 346.7h0M117.4 323.5h0M169.8 312.3h0M134.8 333h0M162 310h0M186.1 335.7h0M212 313.8h0M140.2 318.6h0M163.8 317h0M201.7 300.3h0M175.7 326.1h0M163.8 322.7h0M200.1 388.3h0M115.1 322.4h0M208.6 322.3h0M176.3 332.5h0M116.6 316.3h0M180.5 300.3h0M256.3 367.3h0M157.4 339.1h0M176 337.7h0M191.6 308.8h0M136.3 350.4h0M84.5 336.9h0M159.8 323.4h0M140.9 329.9h0M187.9 314.6h0M124.5 317.8h0M202.6 306.5h0M146.1 315.6h0M109.3 314.2h0M148.1 326.8h0M152.3 305.6h0M249.9 335.1h0M191.6 351.9h0M168.6 303.1h0M100.3 325.9h0M143.2 326.5h0M79.4 348.7h0M123.9 300.8h0M67.7 345.5h0"/>
<path class="n5" d="M197.3 367.6h0M214.5 345h0M234.3 369.5h0M199.5 392.7h0M178.2 372.2h0M207.3 389.7h0M177.2 390.8h0M172.6 358.1h0M185.5 364h0M203.7 378.9h0M214.6 313.7h0M201.7 376h0M197.6 386.9h0M246.9 374.4h0M190.9 387.7h0M186.3 360.4h0M221 381.1h0M171.4 362.1h0M191.8 389h0M176.6 382h0M204.5 367.1h0"/>
<path class="n0" d="M126.6 316.4h0M123.7 325.3h0M151.1 292.3h0M120.1 327.1h0M116.7 337.4h0M113.5 333.8h0M131.5 298.2h0M137.1 348.3h0M120.9 319.3h0M105.4 324.1h0M98.7 385.4h0M91.7 329h0M107.8 350h0"/>
<path class="n1" d="M165.5 329.8h0M189 312.4h0M173.1 316.1h0M147.5 331.5h0M167.8 296.8h0M154.7 316.8h0M172 315.8h0M59.1 299.9h0M126.8 326.7h0M107.2 323.6h0M123.1 329.5h0M125.4 374.6h0M216.2 326.2h0M143.1 335.1h0M125 321.4h0M188.9 299.2h0M173 323.3h0M113 324.6h0M161.1 313.4h0M182.6 318.4h0M181.7 316h0M170.4 294.4h0M146.8 295.5h0M198.4 301.7h0M165.6 319.8h0M121.4 320.7h0M145.7 329.1h0M160.1 325.3h0M168 328.6h0M157.8 342.1h0M173 342.3h0M159.9 316.2h0M141.5 331.2h0M235.6 368.1h0M162 313.6h0M125.4 332.8h0M181.4 297.8h0M161.7 352.8h0M124.6 331.9h0"/>
<path class="n3" d="M132.1 359h0M152.5 364.6h0M139.6 357.8h0M105.6 403.8h0M146.3 364.9h0M78.6 318.3h0M131.1 355h0M108 351.5h0M72.5 354.5h0M116.7 369h0M101.7 393.5h0M96.3 363.6h0M115 367.9h0M160.1 358.1h0M162.1 367.3h0M93.6 345.7h0M136.4 380.6h0"/>
<path class="n9" d="M318.2 363.1h0M125 402.4h0M197.6 299.7h0M99.3 323.6h0M184.3 313.6h0M106 373.4h0M108.8 299.1h0M137.2 335.2h0M101.8 396.1h0M207.1 302.3h0M201.9 305.4h0M207.8 398.6h0M112.5 296.1h0M153 409.1h0M83.9 386.2h0M118.3 299.7h0M146.3 304.6h0"/>
<path class="n2" d="M206.9 335.8h0M181.7 311.4h0M158.3 335.3h0M193.7 321.9h0M185 325.4h0M177.6 332.9h0M161 325.8h0M211.9 336.3h0M151.3 368.1h0M194 318.3h0M200.7 312h0M217.2 326.2h0M223 314.7h0M196.4 353.3h0M182.2 329h0"/>
<path class="n5" d="M183.9 360.4h0M193.7 391.6h0M199.2 350.2h0M187.4 387.4h0M217.1 340h0M204.6 351.5h0M205.3 391.4h0M184.4 379.3h0M220.1 370h0M232.1 363.3h0M180.2 402.1h0M215.1 383h0M235.7 350h0M207.8 389.3h0M180.2 330.7h0M182.3 390.7h0M188.5 353h0M233 337.2h0M231.1 360h0M147.6 349.4h0M208.7 366.1h0M178.2 384.5h0"/>
<path class="n4" d="M111.8 376.2h0M118.5 368.8h0M137.3 369.9h0M117.1 375.5h0M147.7 390.2h0M131 378.7h0M107.2 381.5h0M123.9 368h0M145.2 398.7h0M180.8 334h0M112.3 399.8h0M124.9 441.2h0M151.3 391.5h0M173.3 411.9h0M146.1 382.3h0M156.9 390.9h0M131.8 414.5h0M135.6 394.7h0M166.5 384.7h0M91.1 398.2h0M148.7 398h0M155.9 382.7h0M167.3 395.6h0M172.1 388.6h0M154.8 393.5h0M110.2 376.1h0M139.4 368.3h0"/>
<path class="n1" d="M230.2 362.9h0M172.1 312.6h0M161.7 307.8h0M171 323.6h0M100.7 312.6h0M164.4 313.7h0M111.9 394.9h0M128.3 322.2h0M150.3 333.1h0M228.7 324.7h0M187.1 304.9h0M150.6 316.7h0M129.2 311.1h0M172.8 302.6h0M150.1 407.4h0M149.7 294.8h0M179.7 338.8h0M160.9 307.1h0M134 317.6h0M162.4 333.4h0M187.7 333.7h0M180.8 329.8h0M193.9 336.3h0M96.7 338h0M193.4 348.1h0M146.2 329h0M193.5 377.2h0M167.3 329.9h0M159 322.5h0M183.4 349.1h0M154.4 329.8h0M198.9 337.9h0M78.8 396h0M160.7 328.8h0M125.5 338.1h0M200 320.2h0M148.5 310.4h0M166.7 294.3h0M131.8 309.9h0M130.3 311.5h0M174 310.5h0M176.1 306.3h0M117.3 314.4h0M193.4 325h0M146 301.7h0M181.1 307.3h0M173.7 309.4h0M174.3 306.5h0M138.8 369.1h0"/>
<path class="n2" d="M196.3 334.2h0M173.3 319.3h0M217.9 355.2h0M168.2 302.1h0M182.3 334.3h0M201.3 343.9h0M178.9 321.9h0M129.8 316.4h0M179.6 340.9h0M183.7 332.1h0M222.3 313.9h0M161.1 355.7h0M165.7 338.2h0"/>
<path class="n9" d="M225.6 328.9h0M155.6 280.8h0M88.8 323.2h0M239.6 348.5h0M256.2 334.4h0M143.2 408.1h0M113.3 415.2h0M203 319h0M246.6 358.5h0M204.3 296.6h0M145.2 409.7h0M219.4 313.7h0M222.4 338.4h0M232.7 332.7h0M85.3 370.6h0M19.3 364.4h0M152.6 402.1h0M130.2 405.1h0M151.4 376.6h0M220.5 316h0M190.5 294.8h0M125.4 402.4h0M219.4 383.5h0"/>
<path class="n4" d="M177 388.7h0M196.8 385.2h0M168.3 391.8h0M138.1 378.7h0M122.3 383.4h0M165.5 385.7h0M127.8 377.7h0M160.8 375.2h0M135.2 387.5h0M152.5 407.9h0M110.5 363.8h0M155.7 385.5h0M164.8 391.1h0M121.9 399.2h0M158.2 386.6h0M147.1 389.2h0M146.2 379h0M162.9 376.3h0M192.8 380.1h0M162.1 393.2h0M149.9 379.3h0"/>
<path class="n3" d="M141 362.6h0M149.9 371.9h0M140.9 346.8h0M64.6 315.3h0M148.4 325.3h0M121.4 360.1h0M150.2 349.2h0M110.6 354.2h0"/>
<path class="n5" d="M165.6 350.5h0M191.2 404.5h0M215.4 381.7h0M205.5 371.2h0M153.5 413.8h0M228 369.5h0M187 364.7h0M209.7 391.9h0M220.9 382.4h0M228.9 358.4h0M225.3 380.4h0M183.9 364.7h0M240.3 365.3h0M224.9 377.8h0M163.7 397h0M180.8 350.8h0M218.4 373.5h0M220.6 372.9h0M212.7 389.5h0M148.4 405.3h0M207.5 402.2h0M230.2 369.4h0M156.2 370.9h0M164.7 343.2h0"/>
<path class="n0" d="M101.7 330.5h0M116.1 306.9h0M95.6 338.2h0M69.9 350.7h0M193.7 400h0M132.1 368.4h0M129.6 278.6h0M128.5 339.7h0M105.8 381.2h0M137.7 349.3h0M114.2 326.7h0M126.4 333.9h0"/>
<path class="n1" d="M203.1 320.2h0M178.1 317.5h0M115.4 306.9h0M150.3 330.3h0M111 307.8h0M170.6 319.5h0M152.6 311.1h0M181.8 298h0M184.4 308h0M138.4 314.5h0M169.4 397.8h0M125.2 377.3h0M155.8 319.6h0M92.2 318.1h0M136.5 339.7h0M176.8 327.1h0M76.3 358.2h0M52.8 306.2h0M174.2 359.8h0M155.3 338.3h0M111.7 329.6h0M124.6 294.5h0M117.9 305.9h0M158.6 333.4h0M204.8 321.9h0M168.1 361.1h0M167.4 291.6h0M103.2 334.9h0M179.4 338h0M141.5 325.6h0M162.9 305h0M233.9 368.2h0M131.1 341.8h0M110 305.3h0M95.1 349.3h0M128.6 324.8h0M188.7 315.8h0M104.1 332.6h0M193.8 301.6h0M173.5 337.2h0M131.5 331h0M112.3 337.2h0"/>
<path class="n0" d="M115.4 319.4h0M130.7 329.3h0M160.9 343.2h0M76.9 363.1h0M78.9 352.2h0M133.8 337.3h0M153.1 334.9h0M120.8 325.8h0M137.3 324.4h0M134.3 404.2h0M96.9 322.7h0M139.2 334.9h0M170.1 313.8h0M37.5 355.3h0M131.8 312.7h0M113.5 311.5h0M65.6 289.5h0"/>
<path class="n3" d="M118.8 363.9h0M108.4 368h0M163 361.4h0M110.1 397.4h0M125.1 351.5h0M155.3 347.6h0M117.2 361.8h0M106.3 296.8h0M146.8 386h0M99.9 379.8h0"/>
<path class="n2" d="M173.3 334.7h0M158.3 335.6h0M228.6 328.3h0M148.8 326.4h0M246.7 334.6h0M168.1 327.1h0M176.1 337.8h0M155.1 343h0M193.3 331.8h0M200.8 319.5h0M182.3 328.2h0M142.2 323.3h0M137.5 328h0M200.5 318.9h0"/>
<path class="n4" d="M127.7 390.2h0M147.3 369.7h0M140.7 407.7h0M161 380.4h0M97.2 322h0M203.4 346.5h0M172.8 410h0M159.2 359.8h0M182.4 378.5h0M154.5 390.5h0M185.3 382.1h0M138.4 393.7h0M132.8 367.3h0M170 373.7h0M133.9 396.1h0M153.4 372.4h0M172.6 364.5h0M148 382.6h0M164.7 384.6h0M126.7 387.5h0M179.2 376.7h0M141.6 390.9h0M113.5 402.1h0M156.2 390.3h0M184.2 401.5h0M167.7 371.9h0M168.7 410.3h0M117.1 375.7h0M127 364.5h0M140.7 381.3h0"/>
<path class="n9" d="M203.3 348.5h0M102.6 391.2h0M196.6 383.3h0M95.3 295.3h0M207.8 321.2h0M194.7 295.6h0M172.9 410.5h0M83.7 369.2h0M107.3 413.4h0M199.4 407.6h0M113.2 396.3h0M141.4 299.1h0M107.9 296.6h0M196.3 300.5h0M194.7 313.8h0M67.3 326.4h0M180.9 294.6h0"/>
<path class="n5" d="M163.3 372.3h0M196.2 404.3h0M186.4 397.5h0M220.4 363.6h0M193.6 399.8h0M217.5 362.5h0M199.1 378.6h0M221.7 333.9h0M162.4 349h0M209.4 383.9h0M194.1 399.1h0M199.3 395.7h0M238.2 362.6h0M230.5 324.8h0M215.4 367.7h0M207.1 388.8h0M250.4 342.6h0M215.8 372.5h0M201.8 345.8h0M211.2 373.6h0"/>
<path class="n3" d="M84.7 335.6h0M173.4 370.7h0M123 358.8h0M131.9 358.1h0M139.4 353.6h0M140.2 344.7h0M152.4 384.2h0M159.4 359.1h0M160.1 359.6h0M114.7 362.2h0M135.2 382.3h0M116.4 375.3h0"/>
<path class="n5" d="M195.7 391.7h0M212 368.2h0M186 380.3h0M201.8 402h0M212.6 372.1h0M184.8 382.3h0M231.5 345.4h0M184.3 360.5h0M189.6 391.5h0M172.8 296.2h0M242.7 357.6h0M213.6 346.2h0M211.9 354.3h0M133.7 385.5h0M190.4 366.3h0M219.2 396.3h0M193.4 375.9h0M188.1 379.1h0M114.1 340.1h0M176.9 362.2h0M207.3 374.3h0M250.5 365.8h0"/>
<path class="n2" d="M177.3 372.5h0M159.5 324.3h0M238.8 350.4h0M174.1 316.9h0M187.2 322.5h0M198.8 309.5h0M184.7 304.6h0M169.5 318.5h0M151.8 300.9h0M177.4 310.2h0M136.6 392.6h0M208 354.8h0M220.7 358.3h0M193.3 344.4h0M105.4 334.3h0M195.2 327.2h0M185.2 310.6h0M238.2 367h0M203.1 320h0M140.8 341.7h0M188.8 318.8h0M160.8 316.8h0"/>
<path class="n0" d="M144.4 324.3h0M123.3 300h0M157.4 334h0M132.6 328.4h0M112.3 312.5h0M49.4 360.1h0M142.9 323.2h0M114.9 335.6h0M74.2 351.1h0M101.1 316.8h0M112 311.3h0M128.1 334.2h0M136.7 322.4h0M120 330.1h0M98.7 330.8h0M80.9 353.4h0M124.9 311.4h0"/>
<path class="n4" d="M171.9 374h0M139.6 300.1h0M140.6 379.9h0M148.7 384.8h0M149.5 382.1h0M145.6 380h0M139.7 399.4h0M142.6 374h0M158.1 394h0M79.2 359.9h0M103.4 392.5h0M158.7 386.4h0M122.5 299.5h0M103.7 391.8h0M170.6 375.3h0M145.4 380.2h0M135.5 385h0M167.9 386.5h0M150.8 392.4h0M157.8 381.5h0M153 388h0M146 402.5h0M117.9 381.8h0M167.3 389.3h0M165.6 374.6h0M137.7 373.4h0M160.8 413.2h0"/>
<path class="n9" d="M214.5 314.9h0M221.5 316.6h0M162.9 406.6h0M111.5 289.8h0M233.4 325.2h0M229.7 324.5h0M252.5 330.2h0M94.9 296.6h0M282 304.8h0M197.4 389.2h0M304.5 361.4h0M82.2 348.2h0M187.1 417.2h0M149.8 296.8h0M61.4 340.9h0M221.9 380.4h0M232.2 329.2h0M88.9 304.3h0M49.8 379.9h0M205.8 394.8h0M207.2 399.1h0M84.1 379.8h0M199.5 400h0"/>
<path class="n1" d="M131.8 309.8h0M151.2 301.7h0M141 288.6h0M171.2 324.9h0M196.5 384h0M161 337.9h0M106.8 326.2h0M131.2 335.5h0M154.6 335.5h0M138 316.4h0M180.4 339.4h0M115.8 352.1h0M191.5 342.5h0M179 337.7h0M142.3 324.9h0M159.6 336.1h0M123.1 320.3h0M134.2 320.4h0M158.3 326.7h0M117.3 328.3h0M144.2 313.3h0M56.3 332.3h0M144.3 348.8h0M191.6 340.8h0M147.8 316.1h0M149.5 312.3h0M184.1 321.2h0"/>
<path class="n5" d="M191.9 380.6h0M185.8 389.3h0M156.5 386.3h0M186.7 376.9h0M141.9 379h0M200.9 361.5h0M152.9 370.1h0M185.5 363.9h0M181.8 384.4h0M176.4 369.9h0M190.4 377.9h0M195 349h0M207.4 388.8h0M215.7 346.9h0M218.2 376.7h0M178.7 371h0M158.4 359.5h0M177 377.6h0M204.8 380.4h0M191.1 379h0M194.8 373.4h0"/>
<path class="n0" d="M77.1 340.1h0M107.1 335h0M130.9 301.9h0M121.9 328.8h0M128 345.8h0M122.6 313.1h0M139.1 293.2h0M98.3 337.1h0M152.4 315.9h0M129.8 340.5h0M81.9 315.5h0M82.9 341h0M108.1 336.6h0M127.1 353.2h0M107.8 331.7h0M153 335.1h0M120 356.9h0M121.9 330.2h0M139.1 321h0"/>
<path class="n4" d="M203.1 380h0M138.7 396.5h0M110.7 394.5h0M158.1 369.4h0M154.4 385.6h0M145.6 385.5h0M127.5 385.2h0M140.4 371.9h0M148.7 405.5h0M149.2 386.9h0M150.7 360.3h0M144.5 395.5h0M171.4 383.2h0M192.5 368.9h0M148 374.5h0M129.2 336.5h0M125.5 386.4h0M104.9 316.3h0M186.2 337.2h0M142 373.7h0M152.9 374h0"/>
<path class="n9" d="M151.2 307.8h0M221.2 372.8h0M170.8 330.9h0M51.3 310.4h0M190.4 301h0M94.5 384.5h0M146 408h0M202.7 306.3h0M244.7 383.1h0M67.9 371.4h0M117.9 411.6h0M124 298.6h0M190.9 389.4h0M55.4 345.2h0M304.7 354.2h0"/>
<path class="n2" d="M235.7 336.6h0M180.1 335.9h0M197.3 324.1h0M184.1 375.9h0M201.1 389.2h0M170.1 316.4h0M201.7 338.2h0M204.9 325.3h0M174.1 322.4h0M154.2 304.2h0M176.1 336.9h0M191.3 327.5h0"/>
<path class="n3" d="M152.7 303.6h0M125.9 366.3h0M145.7 355.3h0M103.3 381.6h0M126.8 381.5h0M145.5 350.7h0M123.6 355.8h0M71.4 350.2h0M141.4 358.6h0M199.6 395h0M134.7 359h0M175.5 367h0M125.3 367.9h0M139.2 332.7h0M139.6 312.7h0M160 357.9h0"/>
<path class="n1" d="M120.6 317.6h0M133.2 301.1h0M201.5 340.8h0M188 344.3h0M102.2 316.4h0M165.5 295.9h0M140 305.2h0M186.4 342.7h0M181.4 341.5h0M156.1 314.8h0M181.8 328.5h0M174.8 314.4h0M124.9 338.9h0M115.2 299.2h0M122.3 324.2h0M123.7 332h0M161.4 318h0M144.1 343.7h0M132.3 307.1h0M162.2 321.5h0M203.6 310.2h0M145 318h0M106.3 316.3h0M166.3 346.5h0M180.6 315.3h0M183 333h0M186.4 319.6h0M154.8 325.7h0M121.3 307.5h0M171.8 322.9h0M124.5 356.9h0M119.1 304.7h0M164.7 303.2h0M128.6 306h0M157.1 341h0M146 318.3h0M106.8 313.9h0M145.3 326.1h0M126.7 300.2h0M127.2 348.2h0M131.6 331h0M178 324.4h0M128.6 301.8h0M139.6 286.3h0M183.4 311.6h0M159.7 316.9h0"/>
<path class="n3" d="M115.5 359h0M142.1 371.6h0M156.5 370.8h0M134 366.8h0M125.4 362.6h0M146.7 381.7h0"/>
<path class="n5" d="M187 387.1h0M218.4 369.9h0M161.1 360.5h0M190 379.5h0M200.3 406.6h0M208.9 366.7h0M178.8 406.5h0M198 364.4h0M169.7 387.7h0M121 299.5h0M209.2 363.1h0M183.5 335.3h0M215.3 386.5h0M189.7 365.4h0M158.9 395.3h0M195.6 371.8h0M157.6 395h0M202.5 362.9h0"/>
<path class="n0" d="M96.9 320.5h0M91.2 323h0M148.4 331.2h0M132.7 326.6h0M126.2 307.3h0M137.6 314.8h0M107.1 312.8h0M206.2 368.9h0M132.7 310.2h0M115.7 341.2h0M169.1 320.8h0M88.4 328.2h0M136 351h0M120.4 358.4h0M102.2 327h0M197.1 359.3h0M98.9 304.3h0"/>
<path class="n8" d="M243.7 308.9h0M245.7 307.8h0M222.1 320.3h0"/>
<path class="n2" d="M167.8 296.2h0M189.8 333.7h0M215.5 316.3h0M143.1 301.9h0M185.1 324.8h0M190 310.8h0M193.8 358.6h0M184.1 312.8h0M105.2 343.5h0M166 325.9h0M229.1 332.4h0M202.5 369.7h0M190.9 316.4h0M213.3 329.6h0M178.1 292.8h0M215.7 328.1h0M175.3 320.9h0"/>
<path class="n7" d="M65.2 404.9h0"/>
<path class="n9" d="M165.2 295.1h0M213.8 304.7h0M144.9 298.8h0M246 334.6h0M154.5 296.3h0M140.5 293h0M96.1 374.8h0M165.8 412.7h0M228.3 378.6h0M226.5 322.9h0M261.1 374.4h0M154.6 300.3h0M226.2 370.3h0M232.9 326.3h0M214 314.7h0M271.7 338.4h0M198.1 323.5h0M141.6 290.3h0M205.7 397h0M34.9 363.9h0"/>
<path class="n4" d="M156.1 383h0M159.5 391.4h0M118.6 399h0M143.1 402.5h0M124.9 399.7h0M141.6 369.1h0M154.4 349.9h0M148.1 386.9h0M115.8 356.3h0M137.8 401.9h0M161.2 401.6h0M174.8 379.2h0M145.6 390.6h0M124.9 385.1h0M164.8 380.5h0M111.3 365.9h0M172.7 397.3h0M152.4 389.3h0M122.7 402.6h0M155.1 374.5h0M119.4 400.1h0M131.7 398.7h0M194.1 380.7h0M170.8 369.3h0"/>
<path class="n1" d="M133.5 325.8h0M179.8 331.1h0M167.9 294h0M137.1 351.7h0M152.3 330.9h0M135 341h0M148.8 279.2h0M107.1 313.1h0M130.4 351.6h0M133 302.5h0M142.4 327.6h0M148.3 343.3h0M222.5 382.7h0M159 320.2h0M159.6 296.4h0M122.6 328.3h0M97 319.4h0M191.9 338.7h0M160.2 302.1h0M167.4 312.3h0M148.2 312.9h0M124 362.6h0M172.4 385.5h0M135.6 332h0M132.3 378.9h0M165.9 314.1h0M221.5 307.6h0M170.7 328.1h0M150.5 324.7h0M178.4 328.3h0M171.2 323.8h0M170.8 333h0M154.1 321.8h0M197.4 281.5h0"/>
</g></g>
<text x="361.50" y="13.25" font-size="18.3" text-anchor="start" textLength="21.28" lengthAdjust="spacingAndGlyphs" font-family='"Liberation Serif", serif'>(b)</text>
<text x="0.20" y="253.75" font-size="18.3" text-anchor="start" textLength="19.92" lengthAdjust="spacingAndGlyphs" font-family='"Liberation Serif", serif'>(c)</text>
</svg></body></html>
